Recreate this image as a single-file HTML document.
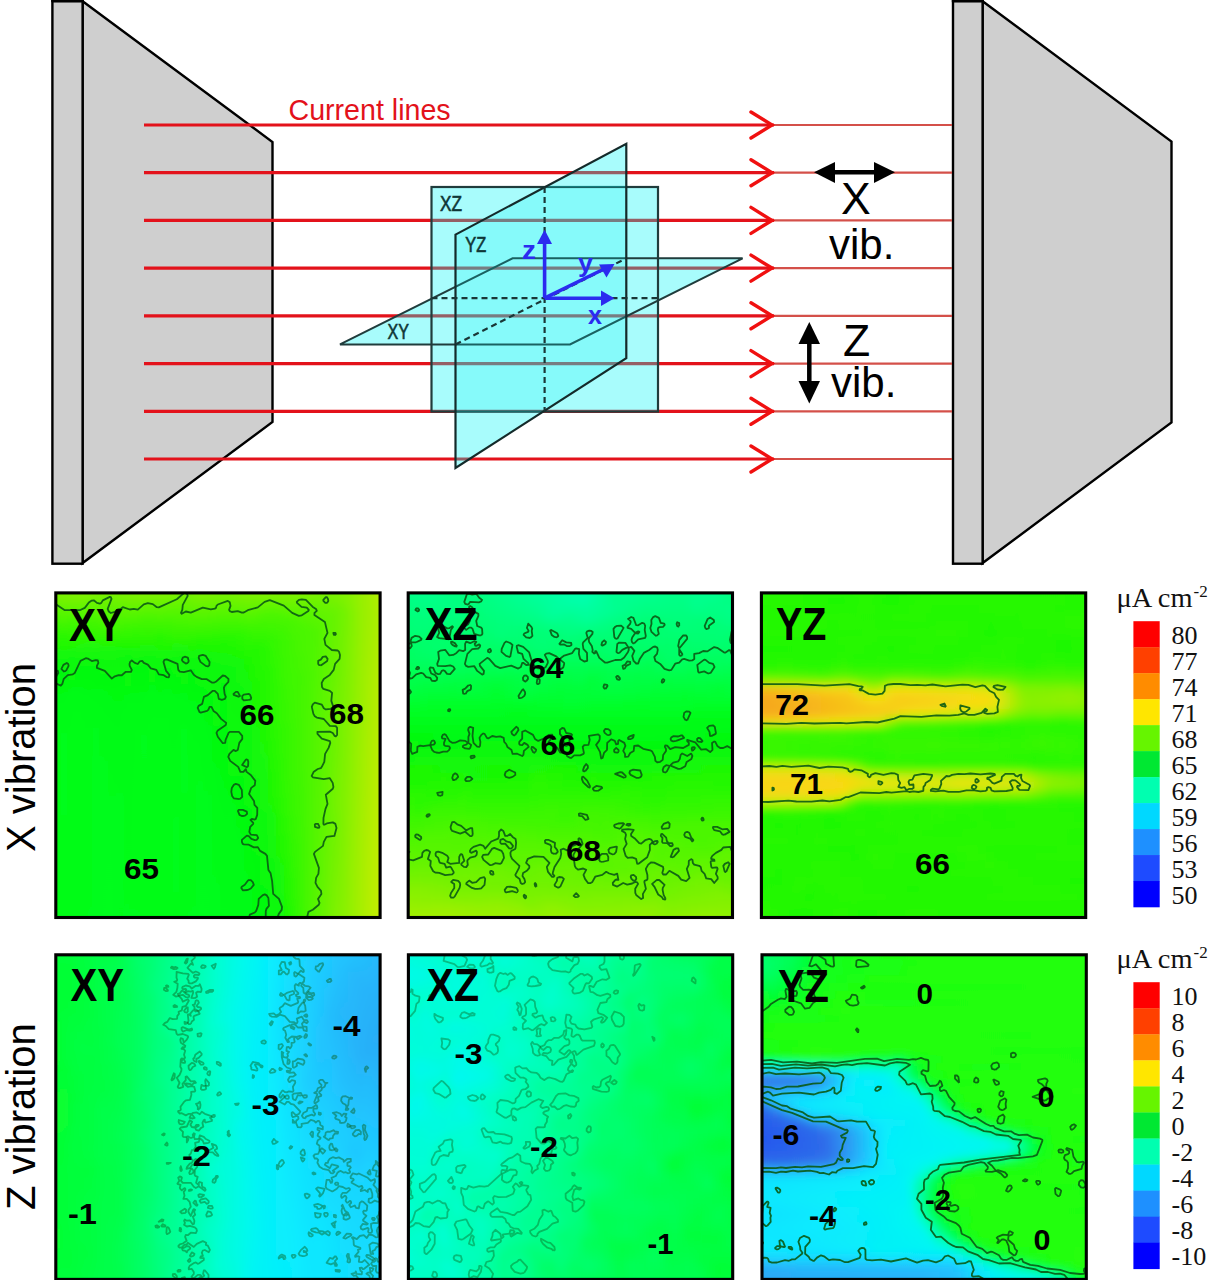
<!DOCTYPE html>
<html><head><meta charset="utf-8">
<style>
html,body{margin:0;padding:0;background:#fff;width:1211px;height:1280px;overflow:hidden;}
svg{display:block;position:absolute;left:0;top:0;}
.s{font-family:"Liberation Sans",sans-serif;}
.r{font-family:"Liberation Serif",serif;}
</style></head>
<body>
<svg width="1211" height="1280" viewBox="0 0 1211 1280">
<defs>
  <filter id="b6" x="-10%" y="-10%" width="120%" height="120%"><feGaussianBlur stdDeviation="6"/></filter>
  <filter id="b10" x="-10%" y="-10%" width="120%" height="120%"><feGaussianBlur stdDeviation="10"/></filter>
  <filter id="b16" x="-20%" y="-20%" width="140%" height="140%"><feGaussianBlur stdDeviation="16"/></filter>
  <filter id="b3" x="-10%" y="-10%" width="120%" height="120%"><feGaussianBlur stdDeviation="3"/></filter>
  <filter id="bl4" x="0" y="0" width="100%" height="100%"><feGaussianBlur stdDeviation="4"/></filter>
  <filter id="b_g" x="0" y="0" width="100%" height="100%"><feGaussianBlur stdDeviation="3.5"/></filter>
  <filter id="b_col" x="0" y="0" width="100%" height="100%"><feGaussianBlur stdDeviation="5 2.5"/></filter>
  <filter id="b_row" x="0" y="0" width="100%" height="100%"><feGaussianBlur stdDeviation="2.5 5"/></filter>
  <clipPath id="c1"><rect x="55.8" y="592.9" width="324.3" height="324.6"/></clipPath>
  <clipPath id="c2"><rect x="408.2" y="592.9" width="324.3" height="324.6"/></clipPath>
  <clipPath id="c3"><rect x="761.4" y="592.9" width="324.3" height="324.6"/></clipPath>
  <clipPath id="c4"><rect x="55.8" y="954.8" width="324.3" height="324.6"/></clipPath>
  <clipPath id="c5"><rect x="408.4" y="954.8" width="324.3" height="324.6"/></clipPath>
  <clipPath id="c6"><rect x="762" y="954.8" width="324.3" height="324.6"/></clipPath>
</defs>
<rect width="1211" height="1280" fill="#fff"/>

<g stroke="#000" stroke-width="2.4" fill="#cfcfcf" stroke-linejoin="miter">
  <polygon points="82.6,1.2 272.5,142 272.5,422 82.6,563"/>
  <rect x="52.4" y="1.2" width="30.2" height="562.5"/>
  <polygon points="982.6,1.2 1171.5,141.5 1171.5,422.5 982.6,563"/>
  <rect x="953" y="1.2" width="29.6" height="562.5"/>
</g>
<rect x="51.2" y="0" width="32.6" height="2.2" fill="#000"/>
<rect x="951.8" y="0" width="32" height="2.2" fill="#000"/>
<g fill="none" stroke-linecap="butt">
  <g stroke-width="3.2" stroke="#e3121b"><line x1="144" y1="125.0" x2="774" y2="125.0"/><line x1="144" y1="172.7" x2="774" y2="172.7"/><line x1="144" y1="220.4" x2="774" y2="220.4"/><line x1="144" y1="268.1" x2="774" y2="268.1"/><line x1="144" y1="315.8" x2="774" y2="315.8"/><line x1="144" y1="363.6" x2="774" y2="363.6"/><line x1="144" y1="411.3" x2="774" y2="411.3"/><line x1="144" y1="459.0" x2="774" y2="459.0"/></g>
  <g stroke-width="2.2" stroke="#d4504a"><line x1="774" y1="125.0" x2="952" y2="125.0"/><line x1="774" y1="172.7" x2="952" y2="172.7"/><line x1="774" y1="220.4" x2="952" y2="220.4"/><line x1="774" y1="268.1" x2="952" y2="268.1"/><line x1="774" y1="315.8" x2="952" y2="315.8"/><line x1="774" y1="363.6" x2="952" y2="363.6"/><line x1="774" y1="411.3" x2="952" y2="411.3"/><line x1="774" y1="459.0" x2="952" y2="459.0"/></g>
  <g stroke-width="3.4" stroke="#f01010" stroke-linejoin="miter" stroke-linecap="round"><polyline points="751,112.0 772,125.0 751,138.0"/><polyline points="751,159.7 772,172.7 751,185.7"/><polyline points="751,207.4 772,220.4 751,233.4"/><polyline points="751,255.1 772,268.1 751,281.1"/><polyline points="751,302.8 772,315.8 751,328.8"/><polyline points="751,350.6 772,363.6 751,376.6"/><polyline points="751,398.3 772,411.3 751,424.3"/><polyline points="751,446.0 772,459.0 751,472.0"/></g>
</g>
<text class="s" x="288.5" y="119.8" font-size="28.6" fill="#e3121b">Current lines</text>

<defs>
<clipPath id="uni"><path d="M431.5,187 H658 V411.6 H431.5 Z M340,344.4 L512.6,258.3 L742.6,258.3 L570,344.4 Z"/></clipPath>
<mask id="nouni" maskUnits="userSpaceOnUse" x="0" y="0" width="1211" height="600"><rect x="0" y="0" width="1211" height="600" fill="#fff"/><path d="M431.5,187 H658 V411.6 H431.5 Z M340,344.4 L512.6,258.3 L742.6,258.3 L570,344.4 Z" fill="#000"/></mask>
</defs>
<path d="M431.5,187 H658 V411.6 H431.5 Z M340,344.4 L512.6,258.3 L742.6,258.3 L570,344.4 Z" fill="rgb(0,245,245)" fill-opacity="0.34" fill-rule="nonzero"/>
<g fill="none" stroke-width="2.2" stroke="#203c3c">
  <rect x="431.5" y="187" width="226.5" height="224.6"/>
  <polygon points="340,344.4 570,344.4 742.6,258.3 512.6,258.3" stroke-width="2"/>
</g>
<polygon points="455.5,234.6 626.3,143.8 626.3,358.2 455.5,468" fill="rgb(0,245,245)" fill-opacity="0.34" mask="url(#nouni)"/>
<polygon points="455.5,234.6 626.3,143.8 626.3,358.2 455.5,468" fill="rgb(0,245,245)" fill-opacity="0.2" clip-path="url(#uni)"/>
<polygon points="455.5,234.6 626.3,143.8 626.3,358.2 455.5,468" fill="none" stroke="#142a2a" stroke-width="2.2"/>
<g stroke="#1a3636" stroke-dasharray="6,4" stroke-width="2.2" fill="none">
  <line x1="544.6" y1="187" x2="544.6" y2="411.6"/>
  <line x1="431.5" y1="298.2" x2="658" y2="298.2"/>
  <line x1="455.5" y1="344.4" x2="626.3" y2="258.3"/>
</g>
<g class="s" font-size="21.5" fill="#0e3636" stroke="#0e3636" stroke-width="0.6">
  <text x="440" y="210.6" textLength="22" lengthAdjust="spacingAndGlyphs">XZ</text>
  <text x="465.3" y="252.4" textLength="21" lengthAdjust="spacingAndGlyphs">YZ</text>
  <text x="387.4" y="338.8" textLength="21.5" lengthAdjust="spacingAndGlyphs">XY</text>
</g>
<g stroke="#2b2bef" stroke-width="3.6" fill="#2b2bef">
  <line x1="544.6" y1="298.2" x2="544.6" y2="240"/>
  <line x1="544.6" y1="298.2" x2="604" y2="298.2"/>
  <line x1="544.6" y1="298.2" x2="604" y2="269"/>
  <polygon stroke="none" points="544.6,229.7 537,244 552,244"/>
  <polygon stroke="none" points="614.5,298.2 601,290.5 601,306"/>
  <polygon stroke="none" points="614.5,264 599,264.5 606.5,277.5"/>
</g>
<g class="s" font-size="26" font-weight="bold" fill="#2b2bef">
  <text x="522" y="258.5" textLength="14" lengthAdjust="spacingAndGlyphs">z</text>
  <text x="578" y="271.5" textLength="15" lengthAdjust="spacingAndGlyphs">y</text>
  <text x="588" y="323.5" textLength="14" lengthAdjust="spacingAndGlyphs">x</text>
</g>
<g fill="#000" stroke="#000">
  <line x1="830" y1="172.3" x2="880" y2="172.3" stroke-width="4.5"/>
  <polygon stroke="none" points="814,172.3 835,162 835,183"/>
  <polygon stroke="none" points="895,172.3 874,162 874,183"/>
  <line x1="809.3" y1="338" x2="809.3" y2="388" stroke-width="4.5"/>
  <polygon stroke="none" points="809.3,321.9 798.5,344 820,344"/>
  <polygon stroke="none" points="809.3,403.4 798.5,381 820,381"/>
</g>
<g class="s" font-size="42" fill="#000">
  <text x="841" y="214" font-size="44.5">X</text>
  <text x="829" y="259">vib.</text>
  <text x="843" y="355.6" font-size="44.5">Z</text>
  <text x="831" y="397">vib.</text>
</g>
<g clip-path="url(#c1)"><g filter="url(#b_col)"><defs><linearGradient id="g44" x2="0" y2="1"><stop offset="0" stop-color="#87f100"/><stop offset=".052" stop-color="#70f300"/><stop offset=".126" stop-color="#39f700"/><stop offset=".247" stop-color="#06f80c"/><stop offset=".391" stop-color="#00fc17"/><stop offset=".701" stop-color="#00fc18"/><stop offset="1" stop-color="#00fc19"/></linearGradient><linearGradient id="g45" x2="0" y2="1"><stop offset="0" stop-color="#88f100"/><stop offset=".046" stop-color="#76f200"/><stop offset=".132" stop-color="#39f700"/><stop offset=".253" stop-color="#06f80d"/><stop offset=".42" stop-color="#00fc17"/><stop offset=".845" stop-color="#00fc19"/><stop offset="1" stop-color="#00fc1a"/></linearGradient><linearGradient id="g46" x2="0" y2="1"><stop offset="0" stop-color="#88f100"/><stop offset=".046" stop-color="#79f200"/><stop offset=".161" stop-color="#28f802"/><stop offset=".259" stop-color="#05f80d"/><stop offset=".454" stop-color="#00fc1b"/><stop offset="1" stop-color="#00fc18"/></linearGradient><linearGradient id="g47" x2="0" y2="1"><stop offset="0" stop-color="#87f100"/><stop offset=".046" stop-color="#7af200"/><stop offset=".126" stop-color="#3cf700"/><stop offset=".23" stop-color="#0cf80a"/><stop offset=".362" stop-color="#00fc17"/><stop offset=".603" stop-color="#00fc17"/><stop offset=".977" stop-color="#01fc17"/><stop offset="1" stop-color="#01fb15"/></linearGradient><linearGradient id="g48" x2="0" y2="1"><stop offset="0" stop-color="#8bf100"/><stop offset=".046" stop-color="#7cf200"/><stop offset=".121" stop-color="#40f700"/><stop offset=".247" stop-color="#06f80d"/><stop offset=".385" stop-color="#00fc18"/><stop offset=".971" stop-color="#01fc17"/><stop offset="1" stop-color="#00fc17"/></linearGradient><linearGradient id="g49" x2="0" y2="1"><stop offset="0" stop-color="#8cf100"/><stop offset=".04" stop-color="#7ef200"/><stop offset=".109" stop-color="#46f600"/><stop offset=".247" stop-color="#05f90e"/><stop offset=".443" stop-color="#00fc18"/><stop offset=".92" stop-color="#00fc19"/><stop offset="1" stop-color="#00fc1a"/></linearGradient><linearGradient id="g50" x2="0" y2="1"><stop offset="0" stop-color="#8ef100"/><stop offset=".046" stop-color="#75f200"/><stop offset=".109" stop-color="#48f600"/><stop offset=".247" stop-color="#05f80d"/><stop offset=".425" stop-color="#00fc1a"/><stop offset="1" stop-color="#00fc1b"/></linearGradient><linearGradient id="g51" x2="0" y2="1"><stop offset="0" stop-color="#8bf100"/><stop offset=".046" stop-color="#73f300"/><stop offset=".201" stop-color="#18f807"/><stop offset=".276" stop-color="#04f910"/><stop offset=".523" stop-color="#00fc1a"/><stop offset="1" stop-color="#00fd1c"/></linearGradient><linearGradient id="g52" x2="0" y2="1"><stop offset="0" stop-color="#84f100"/><stop offset=".04" stop-color="#76f200"/><stop offset=".201" stop-color="#19f807"/><stop offset=".282" stop-color="#04f910"/><stop offset=".684" stop-color="#00fd1b"/><stop offset="1" stop-color="#00fd1c"/></linearGradient><linearGradient id="g53" x2="0" y2="1"><stop offset="0" stop-color="#80f200"/><stop offset=".046" stop-color="#75f300"/><stop offset=".201" stop-color="#16f807"/><stop offset=".276" stop-color="#04f90f"/><stop offset=".644" stop-color="#00fc1b"/><stop offset="1" stop-color="#00fc19"/></linearGradient><linearGradient id="g54" x2="0" y2="1"><stop offset="0" stop-color="#7df200"/><stop offset=".046" stop-color="#78f200"/><stop offset=".132" stop-color="#3df700"/><stop offset=".224" stop-color="#0cf80a"/><stop offset=".385" stop-color="#01fb16"/><stop offset="1" stop-color="#00fc1a"/></linearGradient><linearGradient id="g55" x2="0" y2="1"><stop offset="0" stop-color="#83f100"/><stop offset=".046" stop-color="#7af200"/><stop offset=".144" stop-color="#33f800"/><stop offset=".247" stop-color="#06f80d"/><stop offset=".437" stop-color="#00fc19"/><stop offset=".914" stop-color="#00fc19"/><stop offset="1" stop-color="#00fd1b"/></linearGradient><linearGradient id="g56" x2="0" y2="1"><stop offset="0" stop-color="#8af100"/><stop offset=".04" stop-color="#7ff200"/><stop offset=".109" stop-color="#46f600"/><stop offset=".241" stop-color="#06f80c"/><stop offset=".443" stop-color="#00fc1a"/><stop offset="1" stop-color="#00fc18"/></linearGradient><linearGradient id="g57" x2="0" y2="1"><stop offset="0" stop-color="#88f100"/><stop offset=".04" stop-color="#7cf200"/><stop offset=".109" stop-color="#47f600"/><stop offset=".224" stop-color="#0df80a"/><stop offset=".362" stop-color="#00fc18"/><stop offset=".96" stop-color="#00fc19"/><stop offset="1" stop-color="#01fb16"/></linearGradient><linearGradient id="g58" x2="0" y2="1"><stop offset="0" stop-color="#8df100"/><stop offset=".046" stop-color="#78f200"/><stop offset=".155" stop-color="#29f802"/><stop offset=".259" stop-color="#05f80d"/><stop offset=".408" stop-color="#00fc18"/><stop offset=".724" stop-color="#00fc19"/><stop offset=".948" stop-color="#00fc19"/><stop offset="1" stop-color="#00fc18"/></linearGradient><linearGradient id="g59" x2="0" y2="1"><stop offset="0" stop-color="#91f000"/><stop offset=".04" stop-color="#7df200"/><stop offset=".098" stop-color="#4df600"/><stop offset=".19" stop-color="#1ef805"/><stop offset=".253" stop-color="#05f90e"/><stop offset=".385" stop-color="#01fc17"/><stop offset=".736" stop-color="#00fc19"/><stop offset="1" stop-color="#00fc19"/></linearGradient><linearGradient id="g60" x2="0" y2="1"><stop offset="0" stop-color="#8cf100"/><stop offset=".046" stop-color="#73f300"/><stop offset=".092" stop-color="#53f500"/><stop offset=".236" stop-color="#08f80b"/><stop offset=".397" stop-color="#01fb16"/><stop offset=".632" stop-color="#00fc19"/><stop offset=".833" stop-color="#00fd1c"/><stop offset="1" stop-color="#01fb16"/></linearGradient><linearGradient id="g61" x2="0" y2="1"><stop offset="0" stop-color="#85f100"/><stop offset=".115" stop-color="#48f600"/><stop offset=".23" stop-color="#0af80b"/><stop offset=".443" stop-color="#00fd1b"/><stop offset="1" stop-color="#01fc17"/></linearGradient><linearGradient id="g62" x2="0" y2="1"><stop offset="0" stop-color="#85f100"/><stop offset=".057" stop-color="#6df300"/><stop offset=".19" stop-color="#1df805"/><stop offset=".253" stop-color="#06f80c"/><stop offset=".477" stop-color="#00fc19"/><stop offset=".931" stop-color="#00fc19"/><stop offset="1" stop-color="#00fd1c"/></linearGradient><linearGradient id="g63" x2="0" y2="1"><stop offset="0" stop-color="#88f100"/><stop offset=".046" stop-color="#78f200"/><stop offset=".178" stop-color="#20f805"/><stop offset=".241" stop-color="#09f80b"/><stop offset=".471" stop-color="#00fc19"/><stop offset="1" stop-color="#00fd1d"/></linearGradient><linearGradient id="g64" x2="0" y2="1"><stop offset="0" stop-color="#89f100"/><stop offset=".046" stop-color="#76f200"/><stop offset=".178" stop-color="#21f804"/><stop offset=".247" stop-color="#08f80b"/><stop offset=".621" stop-color="#00fc1a"/><stop offset="1" stop-color="#00fd1d"/></linearGradient><linearGradient id="g65" x2="0" y2="1"><stop offset="0" stop-color="#86f100"/><stop offset=".052" stop-color="#70f300"/><stop offset=".172" stop-color="#23f804"/><stop offset=".264" stop-color="#09f80b"/><stop offset=".879" stop-color="#00fc1a"/><stop offset="1" stop-color="#00fc1a"/></linearGradient><linearGradient id="g66" x2="0" y2="1"><stop offset="0" stop-color="#80f200"/><stop offset=".046" stop-color="#72f300"/><stop offset=".172" stop-color="#21f804"/><stop offset=".293" stop-color="#06f80d"/><stop offset="1" stop-color="#00fc18"/></linearGradient><linearGradient id="g67" x2="0" y2="1"><stop offset="0" stop-color="#80f200"/><stop offset=".046" stop-color="#72f300"/><stop offset=".167" stop-color="#25f803"/><stop offset=".259" stop-color="#0ef80a"/><stop offset=".799" stop-color="#01fb15"/><stop offset="1" stop-color="#00fc18"/></linearGradient><linearGradient id="g68" x2="0" y2="1"><stop offset="0" stop-color="#86f100"/><stop offset=".046" stop-color="#77f200"/><stop offset=".149" stop-color="#2ef801"/><stop offset=".241" stop-color="#14f808"/><stop offset=".586" stop-color="#05f90e"/><stop offset="1" stop-color="#00fc19"/></linearGradient><linearGradient id="g69" x2="0" y2="1"><stop offset="0" stop-color="#85f100"/><stop offset=".046" stop-color="#78f200"/><stop offset=".155" stop-color="#31f800"/><stop offset=".241" stop-color="#19f806"/><stop offset=".362" stop-color="#13f808"/><stop offset=".707" stop-color="#04f90f"/><stop offset="1" stop-color="#02fb14"/></linearGradient><linearGradient id="g70" x2="0" y2="1"><stop offset="0" stop-color="#87f100"/><stop offset=".04" stop-color="#7bf200"/><stop offset=".121" stop-color="#43f600"/><stop offset=".195" stop-color="#24f803"/><stop offset=".391" stop-color="#1af806"/><stop offset=".833" stop-color="#04f910"/><stop offset="1" stop-color="#03fa11"/></linearGradient><linearGradient id="g71" x2="0" y2="1"><stop offset="0" stop-color="#8cf100"/><stop offset=".04" stop-color="#7ef200"/><stop offset=".098" stop-color="#4bf600"/><stop offset=".19" stop-color="#27f802"/><stop offset=".454" stop-color="#1cf806"/><stop offset=".908" stop-color="#05f90e"/><stop offset="1" stop-color="#04f90f"/></linearGradient><linearGradient id="g72" x2="0" y2="1"><stop offset="0" stop-color="#8bf100"/><stop offset=".04" stop-color="#7df200"/><stop offset=".092" stop-color="#4ef600"/><stop offset=".172" stop-color="#31f800"/><stop offset=".253" stop-color="#2cf801"/><stop offset=".448" stop-color="#25f803"/><stop offset=".799" stop-color="#11f809"/><stop offset="1" stop-color="#05f90e"/></linearGradient><linearGradient id="g73" x2="0" y2="1"><stop offset="0" stop-color="#89f100"/><stop offset=".046" stop-color="#78f200"/><stop offset=".098" stop-color="#4bf600"/><stop offset=".161" stop-color="#3af700"/><stop offset=".241" stop-color="#35f800"/><stop offset=".615" stop-color="#29f802"/><stop offset=".908" stop-color="#11f809"/><stop offset="1" stop-color="#0bf80b"/></linearGradient><linearGradient id="g74" x2="0" y2="1"><stop offset="0" stop-color="#8af100"/><stop offset=".046" stop-color="#79f200"/><stop offset=".115" stop-color="#46f600"/><stop offset=".172" stop-color="#3ef700"/><stop offset=".276" stop-color="#3df700"/><stop offset=".414" stop-color="#36f700"/><stop offset=".621" stop-color="#33f800"/><stop offset="1" stop-color="#1bf806"/></linearGradient><linearGradient id="g75" x2="0" y2="1"><stop offset="0" stop-color="#8df100"/><stop offset=".04" stop-color="#7cf200"/><stop offset=".115" stop-color="#4bf600"/><stop offset=".178" stop-color="#45f600"/><stop offset=".27" stop-color="#41f700"/><stop offset=".5" stop-color="#3df700"/><stop offset=".626" stop-color="#3bf700"/><stop offset=".868" stop-color="#32f800"/><stop offset="1" stop-color="#2af802"/></linearGradient><linearGradient id="g76" x2="0" y2="1"><stop offset="0" stop-color="#8ff100"/><stop offset=".04" stop-color="#7bf200"/><stop offset=".08" stop-color="#5ef400"/><stop offset=".138" stop-color="#4af600"/><stop offset=".276" stop-color="#45f600"/><stop offset=".523" stop-color="#44f600"/><stop offset="1" stop-color="#3ef700"/></linearGradient><linearGradient id="g77" x2="0" y2="1"><stop offset="0" stop-color="#8df100"/><stop offset=".04" stop-color="#7cf200"/><stop offset=".086" stop-color="#5cf400"/><stop offset=".144" stop-color="#4ef500"/><stop offset=".276" stop-color="#4cf600"/><stop offset=".397" stop-color="#4ff500"/><stop offset=".54" stop-color="#50f500"/><stop offset=".776" stop-color="#50f500"/><stop offset="1" stop-color="#51f500"/></linearGradient><linearGradient id="g78" x2="0" y2="1"><stop offset="0" stop-color="#87f100"/><stop offset=".052" stop-color="#70f300"/><stop offset=".138" stop-color="#52f500"/><stop offset=".402" stop-color="#58f500"/><stop offset=".523" stop-color="#58f500"/><stop offset=".58" stop-color="#57f500"/><stop offset="1" stop-color="#5ff400"/></linearGradient><linearGradient id="g79" x2="0" y2="1"><stop offset="0" stop-color="#86f100"/><stop offset=".098" stop-color="#61f400"/><stop offset=".276" stop-color="#5ff400"/><stop offset=".632" stop-color="#64f400"/><stop offset=".77" stop-color="#69f300"/><stop offset="1" stop-color="#70f300"/></linearGradient><linearGradient id="g80" x2="0" y2="1"><stop offset="0" stop-color="#8af100"/><stop offset=".092" stop-color="#67f300"/><stop offset=".253" stop-color="#69f300"/><stop offset=".31" stop-color="#6ef300"/><stop offset=".471" stop-color="#6ff300"/><stop offset=".632" stop-color="#76f200"/><stop offset=".695" stop-color="#70f300"/><stop offset=".902" stop-color="#7cf200"/><stop offset="1" stop-color="#82f200"/></linearGradient><linearGradient id="g81" x2="0" y2="1"><stop offset="0" stop-color="#8bf100"/><stop offset=".092" stop-color="#71f300"/><stop offset=".31" stop-color="#79f200"/><stop offset=".879" stop-color="#84f100"/><stop offset="1" stop-color="#8bf100"/></linearGradient><linearGradient id="g82" x2="0" y2="1"><stop offset="0" stop-color="#8ff100"/><stop offset=".098" stop-color="#81f200"/><stop offset=".305" stop-color="#87f100"/><stop offset=".609" stop-color="#8ff100"/><stop offset=".856" stop-color="#95f000"/><stop offset=".994" stop-color="#96f000"/><stop offset="1" stop-color="#95f000"/></linearGradient><linearGradient id="g83" x2="0" y2="1"><stop offset="0" stop-color="#96f000"/><stop offset=".132" stop-color="#93f000"/><stop offset=".747" stop-color="#a1ef01"/><stop offset="1" stop-color="#a6ef02"/></linearGradient><linearGradient id="g84" x2="0" y2="1"><stop offset="0" stop-color="#9fef01"/><stop offset=".08" stop-color="#9eef01"/><stop offset=".264" stop-color="#a4ef02"/><stop offset=".822" stop-color="#b1ee04"/><stop offset="1" stop-color="#b2ee04"/></linearGradient><linearGradient id="g85" x2="0" y2="1"><stop offset="0" stop-color="#aeee04"/><stop offset=".126" stop-color="#a7ef03"/><stop offset=".207" stop-color="#acee03"/><stop offset=".322" stop-color="#b2ee04"/><stop offset=".661" stop-color="#b9ed05"/><stop offset=".971" stop-color="#beed06"/><stop offset="1" stop-color="#bbed06"/></linearGradient><linearGradient id="g86" x2="0" y2="1"><stop offset="0" stop-color="#baed06"/><stop offset=".126" stop-color="#b5ee05"/><stop offset=".184" stop-color="#bbed06"/><stop offset=".431" stop-color="#bfed06"/><stop offset=".851" stop-color="#c8ec08"/><stop offset=".931" stop-color="#caeb08"/><stop offset="1" stop-color="#cbeb08"/></linearGradient></defs><rect x="44" y="581" width="9" height="348" fill="url(#g44)"/><rect x="52" y="581" width="9" height="348" fill="url(#g45)"/><rect x="60" y="581" width="9" height="348" fill="url(#g46)"/><rect x="68" y="581" width="9" height="348" fill="url(#g47)"/><rect x="76" y="581" width="9" height="348" fill="url(#g48)"/><rect x="84" y="581" width="9" height="348" fill="url(#g49)"/><rect x="92" y="581" width="9" height="348" fill="url(#g50)"/><rect x="100" y="581" width="9" height="348" fill="url(#g51)"/><rect x="108" y="581" width="9" height="348" fill="url(#g52)"/><rect x="116" y="581" width="9" height="348" fill="url(#g53)"/><rect x="124" y="581" width="9" height="348" fill="url(#g54)"/><rect x="132" y="581" width="9" height="348" fill="url(#g55)"/><rect x="140" y="581" width="9" height="348" fill="url(#g56)"/><rect x="148" y="581" width="9" height="348" fill="url(#g57)"/><rect x="156" y="581" width="9" height="348" fill="url(#g58)"/><rect x="164" y="581" width="9" height="348" fill="url(#g59)"/><rect x="172" y="581" width="9" height="348" fill="url(#g60)"/><rect x="180" y="581" width="9" height="348" fill="url(#g61)"/><rect x="188" y="581" width="9" height="348" fill="url(#g62)"/><rect x="196" y="581" width="9" height="348" fill="url(#g63)"/><rect x="204" y="581" width="9" height="348" fill="url(#g64)"/><rect x="212" y="581" width="9" height="348" fill="url(#g65)"/><rect x="220" y="581" width="9" height="348" fill="url(#g66)"/><rect x="228" y="581" width="9" height="348" fill="url(#g67)"/><rect x="236" y="581" width="9" height="348" fill="url(#g68)"/><rect x="244" y="581" width="9" height="348" fill="url(#g69)"/><rect x="252" y="581" width="9" height="348" fill="url(#g70)"/><rect x="260" y="581" width="9" height="348" fill="url(#g71)"/><rect x="268" y="581" width="9" height="348" fill="url(#g72)"/><rect x="276" y="581" width="9" height="348" fill="url(#g73)"/><rect x="284" y="581" width="9" height="348" fill="url(#g74)"/><rect x="292" y="581" width="9" height="348" fill="url(#g75)"/><rect x="300" y="581" width="9" height="348" fill="url(#g76)"/><rect x="308" y="581" width="9" height="348" fill="url(#g77)"/><rect x="316" y="581" width="9" height="348" fill="url(#g78)"/><rect x="324" y="581" width="9" height="348" fill="url(#g79)"/><rect x="332" y="581" width="9" height="348" fill="url(#g80)"/><rect x="340" y="581" width="9" height="348" fill="url(#g81)"/><rect x="348" y="581" width="9" height="348" fill="url(#g82)"/><rect x="356" y="581" width="9" height="348" fill="url(#g83)"/><rect x="364" y="581" width="9" height="348" fill="url(#g84)"/><rect x="372" y="581" width="9" height="348" fill="url(#g85)"/><rect x="380" y="581" width="9" height="348" fill="url(#g86)"/></g><g fill="none" stroke="#0a5a14" stroke-width="1.8" stroke-opacity="0.9" stroke-linejoin="round"><path d="M209.2,665.9 209.6,661.9 205.8,655.9 202.8,654.8 199.1,655.9 198.7,657.9 200.4,661.9 205.7,665.9 207.8,666.4 209.2,665.9"/><path d="M188.0,662.9 188.7,660.9 187.8,657.6 184.8,656.7 182.8,657.6 181.9,659.9 182.8,661.6 185.8,663.6 188.0,662.9"/><path d="M280.0,928.9 277.7,921.9 277.4,917.9 278.8,913.9 281.7,909.9 282.0,906.9 279.0,898.9 273.2,893.9 272.1,880.9 270.5,872.9 268.4,869.9 267.0,855.9 265.4,853.9 260.1,850.9 257.8,847.1 253.8,847.4 248.8,844.7 243.8,844.4 242.7,843.9 241.9,841.9 241.9,839.9 246.8,835.6 248.8,836.2 251.4,838.9 254.8,840.1 256.8,839.8 258.2,837.9 256.8,835.1 250.8,834.6 249.3,831.9 250.2,826.9 253.2,823.9 253.2,822.9 250.5,819.9 251.8,818.9 254.8,819.6 255.8,818.9 257.2,814.9 257.3,807.9 254.5,804.9 254.0,800.9 249.1,793.9 251.2,787.9 254.8,785.2 255.3,780.9 250.8,775.0 246.6,771.9 245.8,769.1 243.4,771.9 240.4,771.9 238.2,766.9 230.2,760.9 228.3,756.9 229.4,753.9 233.5,749.9 235.8,751.1 237.8,749.9 239.3,742.9 242.3,738.9 242.2,735.9 238.8,731.8 229.8,731.8 228.6,732.9 225.6,739.9 225.2,742.9 222.8,743.2 217.8,736.7 216.5,732.9 217.8,730.4 225.8,724.9 226.2,722.9 221.1,718.9 216.8,713.3 213.5,710.9 211.5,706.9 209.6,706.9 208.3,709.9 207.1,710.9 200.8,712.7 199.4,711.9 197.7,707.9 198.6,705.9 202.2,703.9 203.9,696.9 207.8,695.1 212.8,690.8 214.8,690.8 217.8,693.9 218.8,698.9 221.8,699.9 224.9,698.9 225.8,696.9 224.6,693.9 223.9,687.9 224.7,685.9 228.4,681.9 228.5,678.9 224.8,675.8 222.8,675.5 215.8,681.8 213.8,682.7 211.8,682.5 206.8,679.2 201.8,679.1 196.6,676.9 193.8,674.7 190.8,670.3 183.8,672.1 179.8,671.7 178.3,669.9 177.5,663.9 166.8,659.3 164.4,659.9 163.5,661.9 166.1,670.9 169.4,674.9 168.8,677.3 166.8,677.2 163.8,675.2 158.8,674.4 156.3,669.9 150.8,668.4 147.8,664.6 143.8,662.9 142.2,660.9 139.8,661.3 137.8,664.0 134.8,662.9 131.8,660.5 130.1,661.9 129.5,663.9 129.7,665.9 131.8,669.9 131.0,671.9 125.8,671.8 121.8,675.3 118.8,675.2 114.8,676.3 111.8,678.6 104.8,670.9 96.9,667.9 96.9,665.9 98.4,662.9 97.8,660.5 95.8,660.1 91.8,661.1 87.8,658.6 85.8,658.2 80.5,660.9 74.8,672.9 72.8,674.3 67.8,675.2 63.8,678.8 62.3,683.9 60.8,685.7 55.0,682.9 54.7,681.9 56.4,675.9 58.3,672.9 57.9,670.9 52.8,670.3 47.8,667.4 45.8,664.1 43.8,663.8"/><path d="M66.0,670.9 68.6,665.9 68.2,663.9 66.8,663.0 63.4,664.9 61.4,668.9 63.8,671.5 66.0,670.9"/><path d="M239.1,696.9 240.0,695.9 237.7,691.9 235.9,691.9 233.5,693.9 233.7,694.9 239.1,696.9"/><path d="M248.8,699.9 250.8,699.3 251.2,697.9 250.1,694.9 248.9,693.9 243.8,694.6 242.3,695.9 242.3,698.9 243.8,700.4 248.8,699.9"/><path d="M247.3,766.9 248.1,765.9 248.3,761.9 247.8,760.0 246.8,759.4 245.6,759.9 242.1,764.9 246.8,767.3 247.3,766.9"/><path d="M239.8,799.1 233.8,798.3 232.1,795.9 231.3,791.9 231.8,787.9 233.7,784.9 235.8,783.9 238.8,784.8 241.8,789.9 242.2,796.9 239.8,799.1"/><path d="M244.8,815.9 241.8,816.0 239.5,814.9 237.9,810.9 238.6,809.9 242.8,809.9 246.8,811.6 247.1,813.9 244.8,815.9"/><path d="M247.8,890.0 242.8,890.3 241.3,887.9 241.8,886.7 244.8,884.8 247.8,880.8 248.8,880.1 250.8,880.2 252.8,882.1 253.8,884.9 250.8,888.5 247.8,890.0"/><path d="M262.8,925.1 260.8,925.6 258.8,924.7 255.1,924.9 253.1,921.9 248.8,920.7 248.5,919.9 249.8,914.6 254.8,912.5 256.2,910.9 258.3,904.9 258.7,898.9 262.8,895.2 264.8,894.4 266.8,895.4 268.4,897.9 268.9,905.9 266.4,908.9 265.8,910.9 265.7,915.9 267.1,922.9 265.8,924.6 262.8,925.1"/><path d="M320.0,928.9 324.6,921.9 324.4,919.9 321.8,918.5 318.8,918.4 315.8,921.3 312.8,917.9 308.8,917.5 307.4,915.9 308.4,911.9 312.8,909.8 318.8,904.8 319.5,902.9 318.0,898.9 321.4,893.9 321.0,890.9 317.5,886.9 315.5,882.9 316.1,877.9 318.4,873.9 318.9,867.9 313.9,853.9 315.0,851.9 323.0,845.9 323.8,841.9 326.5,836.9 334.4,835.9 336.5,827.9 335.4,823.9 332.8,822.4 326.8,823.4 324.8,824.6 323.8,824.7 323.4,823.9 323.5,817.9 325.5,808.9 327.5,803.9 325.8,794.7 332.8,788.8 333.4,786.9 332.7,782.9 329.8,778.2 323.8,779.2 312.8,777.3 311.7,775.9 313.8,771.7 317.8,769.0 320.8,768.2 321.8,766.8 324.3,761.9 325.1,753.9 328.6,747.9 330.3,742.9 329.8,741.1 321.8,738.6 317.5,733.9 317.4,731.9 329.8,731.6 332.8,733.0 334.7,735.9 335.8,736.4 337.1,734.9 337.1,727.9 335.8,726.1 329.8,725.8 323.8,719.0 316.8,717.6 314.8,716.3 313.4,713.9 311.8,706.9 312.8,704.4 314.8,702.6 321.8,704.6 323.8,708.2 325.8,709.4 330.8,708.8 333.3,706.9 331.3,700.9 332.1,692.9 329.8,690.8 323.4,688.9 322.0,686.9 321.7,682.9 323.8,679.0 329.8,674.9 333.7,669.9 335.1,663.9 339.6,658.9 340.0,654.9 339.1,651.9 337.8,650.5 331.8,650.0 325.5,644.9 324.3,638.9 327.5,632.9 324.9,621.9 314.4,614.9 314.5,612.9 316.8,610.9 316.0,608.9 312.8,606.9 305.9,599.9 301.8,599.3 298.9,599.9 296.8,601.9 297.0,602.9 301.5,606.9 306.8,607.6 308.8,609.9 308.4,610.9 301.8,615.3 298.8,615.9 292.2,612.9 283.8,605.6 269.8,600.2 264.6,601.9 257.8,607.4 247.8,610.2 243.8,612.5 241.8,612.6 237.8,611.1 231.8,612.0 229.8,611.1 229.1,609.9 230.5,605.9 229.8,602.3 227.8,600.9 217.8,604.5 216.5,605.9 216.0,607.9 214.8,608.6 210.8,609.4 202.8,607.7 190.8,612.7 185.8,611.5 181.8,613.8 181.0,612.9 182.3,609.9 182.8,604.9 187.7,595.9 187.2,593.9 184.8,592.4 176.8,599.3 158.8,607.4 156.8,607.2 152.8,604.1 147.8,603.1 143.8,604.3 137.8,609.6 133.8,608.8 129.8,609.5 122.8,607.1 120.8,609.0 117.8,609.5 114.8,611.9 110.8,613.0 108.8,611.6 107.7,608.9 111.5,598.9 110.8,597.2 109.8,596.9 102.8,600.4 101.3,602.9 99.8,603.7 96.9,602.9 93.8,600.3 91.8,600.6 88.8,602.6 84.8,607.9 79.8,610.2 64.8,610.2 54.8,603.6 43.8,606.9"/><path d="M327.0,602.9 328.3,600.9 328.0,598.9 326.8,597.1 325.8,597.1 323.3,599.9 323.4,600.9 325.3,602.9 327.0,602.9"/><path d="M336.1,634.9 335.4,632.9 333.3,632.9 333.8,634.9 336.1,634.9"/><path d="M320.8,665.5 318.8,664.9 318.2,663.9 318.2,660.9 320.8,659.6 322.8,656.9 325.8,656.4 327.6,658.9 327.2,660.9 320.8,665.5"/><path d="M318.8,828.2 315.0,826.9 314.8,824.4 315.8,823.8 318.1,823.9 319.5,826.9 318.8,828.2"/></g></g><g clip-path="url(#c2)"><g filter="url(#b_row)"><defs><linearGradient id="g87"><stop offset="0" stop-color="#00ff88"/><stop offset=".069" stop-color="#00ff90"/><stop offset=".138" stop-color="#00ff7b"/><stop offset=".322" stop-color="#00ff95"/><stop offset=".408" stop-color="#00ff96"/><stop offset=".443" stop-color="#00ff9a"/><stop offset=".5" stop-color="#00ffad"/><stop offset=".603" stop-color="#00ff9d"/><stop offset=".638" stop-color="#00ff99"/><stop offset=".724" stop-color="#00ff98"/><stop offset=".759" stop-color="#00ff90"/><stop offset=".874" stop-color="#00ff94"/><stop offset=".931" stop-color="#00ff90"/><stop offset=".96" stop-color="#00ff86"/><stop offset="1" stop-color="#00ff87"/></linearGradient><linearGradient id="g88"><stop offset="0" stop-color="#00ff85"/><stop offset=".098" stop-color="#00ff8d"/><stop offset=".161" stop-color="#00ff81"/><stop offset=".236" stop-color="#00ff83"/><stop offset=".443" stop-color="#00ffa4"/><stop offset=".546" stop-color="#00ffaf"/><stop offset=".626" stop-color="#00ff91"/><stop offset=".667" stop-color="#00ff96"/><stop offset=".799" stop-color="#00ff88"/><stop offset=".92" stop-color="#00ff93"/><stop offset=".966" stop-color="#00ff82"/><stop offset="1" stop-color="#00ff84"/></linearGradient><linearGradient id="g89"><stop offset="0" stop-color="#00ff7b"/><stop offset=".052" stop-color="#00ff85"/><stop offset=".115" stop-color="#00ff87"/><stop offset=".195" stop-color="#00ff7e"/><stop offset=".241" stop-color="#00ff7e"/><stop offset=".42" stop-color="#00ff99"/><stop offset=".483" stop-color="#00ffa5"/><stop offset=".54" stop-color="#00ffac"/><stop offset=".626" stop-color="#00ff8f"/><stop offset=".753" stop-color="#00ff87"/><stop offset=".822" stop-color="#00ff84"/><stop offset=".862" stop-color="#00ff8d"/><stop offset=".943" stop-color="#00ff84"/><stop offset="1" stop-color="#00ff82"/></linearGradient><linearGradient id="g90"><stop offset="0" stop-color="#00ff77"/><stop offset=".046" stop-color="#00ff81"/><stop offset=".19" stop-color="#00ff81"/><stop offset=".23" stop-color="#00ff7b"/><stop offset=".402" stop-color="#00ff90"/><stop offset=".46" stop-color="#00ff9f"/><stop offset=".552" stop-color="#00ff9f"/><stop offset=".718" stop-color="#00ff83"/><stop offset=".828" stop-color="#00ff82"/><stop offset=".862" stop-color="#00ff8a"/><stop offset=".908" stop-color="#00ff84"/><stop offset="1" stop-color="#00ff8a"/></linearGradient><linearGradient id="g91"><stop offset="0" stop-color="#00ff76"/><stop offset=".155" stop-color="#00ff7d"/><stop offset=".236" stop-color="#00ff76"/><stop offset=".282" stop-color="#00ff7d"/><stop offset=".397" stop-color="#00ff88"/><stop offset=".448" stop-color="#00ff97"/><stop offset=".5" stop-color="#00ff8f"/><stop offset=".546" stop-color="#00ff9b"/><stop offset=".684" stop-color="#00ff7d"/><stop offset=".764" stop-color="#00ff7b"/><stop offset=".828" stop-color="#00ff7b"/><stop offset=".885" stop-color="#00ff7c"/><stop offset=".96" stop-color="#00ff85"/><stop offset="1" stop-color="#00ff8b"/></linearGradient><linearGradient id="g92"><stop offset="0" stop-color="#00ff75"/><stop offset=".057" stop-color="#00ff7a"/><stop offset=".103" stop-color="#00ff78"/><stop offset=".207" stop-color="#00ff71"/><stop offset=".253" stop-color="#00ff77"/><stop offset=".397" stop-color="#00ff7d"/><stop offset=".448" stop-color="#00ff83"/><stop offset=".511" stop-color="#00ff88"/><stop offset=".552" stop-color="#00ff8b"/><stop offset=".626" stop-color="#00ff7c"/><stop offset=".753" stop-color="#00ff6e"/><stop offset=".793" stop-color="#00ff79"/><stop offset=".833" stop-color="#00ff79"/><stop offset=".908" stop-color="#00ff73"/><stop offset=".983" stop-color="#00ff82"/><stop offset="1" stop-color="#00ff88"/></linearGradient><linearGradient id="g93"><stop offset="0" stop-color="#00ff72"/><stop offset=".069" stop-color="#00ff74"/><stop offset=".155" stop-color="#00ff6d"/><stop offset=".195" stop-color="#00ff71"/><stop offset=".247" stop-color="#00ff6e"/><stop offset=".299" stop-color="#00ff7b"/><stop offset=".391" stop-color="#00ff71"/><stop offset=".437" stop-color="#00ff77"/><stop offset=".5" stop-color="#00ff7f"/><stop offset=".54" stop-color="#00ff7b"/><stop offset=".575" stop-color="#00ff79"/><stop offset=".609" stop-color="#00ff79"/><stop offset=".644" stop-color="#00ff6f"/><stop offset=".759" stop-color="#00ff70"/><stop offset=".805" stop-color="#00ff73"/><stop offset=".879" stop-color="#00ff74"/><stop offset=".943" stop-color="#00ff76"/><stop offset=".977" stop-color="#00ff6e"/><stop offset="1" stop-color="#00ff76"/></linearGradient><linearGradient id="g94"><stop offset="0" stop-color="#00ff69"/><stop offset=".132" stop-color="#00ff6b"/><stop offset=".264" stop-color="#00ff6e"/><stop offset=".305" stop-color="#00ff6f"/><stop offset=".402" stop-color="#00ff76"/><stop offset=".448" stop-color="#00ff72"/><stop offset=".506" stop-color="#00ff74"/><stop offset=".54" stop-color="#00ff6f"/><stop offset=".626" stop-color="#00ff6f"/><stop offset=".759" stop-color="#00ff6e"/><stop offset=".81" stop-color="#00ff6c"/><stop offset=".925" stop-color="#00ff73"/><stop offset=".983" stop-color="#00ff6a"/><stop offset="1" stop-color="#00ff6c"/></linearGradient><linearGradient id="g95"><stop offset="0" stop-color="#00ff5e"/><stop offset=".115" stop-color="#00ff6e"/><stop offset=".184" stop-color="#00ff66"/><stop offset=".305" stop-color="#00ff65"/><stop offset=".374" stop-color="#00ff69"/><stop offset=".42" stop-color="#00ff74"/><stop offset=".563" stop-color="#00ff66"/><stop offset=".621" stop-color="#00ff6e"/><stop offset=".672" stop-color="#00ff65"/><stop offset=".724" stop-color="#00ff67"/><stop offset=".805" stop-color="#00ff69"/><stop offset=".971" stop-color="#00ff6b"/><stop offset="1" stop-color="#00ff73"/></linearGradient><linearGradient id="g96"><stop offset="0" stop-color="#00ff63"/><stop offset=".115" stop-color="#00ff66"/><stop offset=".149" stop-color="#00ff5d"/><stop offset=".247" stop-color="#00ff66"/><stop offset=".391" stop-color="#00ff64"/><stop offset=".437" stop-color="#00ff62"/><stop offset=".529" stop-color="#00ff61"/><stop offset=".58" stop-color="#00ff60"/><stop offset=".621" stop-color="#00ff67"/><stop offset=".736" stop-color="#00ff5d"/><stop offset=".787" stop-color="#00ff69"/><stop offset=".931" stop-color="#00ff5e"/><stop offset=".977" stop-color="#00ff66"/><stop offset="1" stop-color="#00ff6f"/></linearGradient><linearGradient id="g97"><stop offset="0" stop-color="#00ff5d"/><stop offset=".109" stop-color="#00ff5d"/><stop offset=".201" stop-color="#00ff5a"/><stop offset=".253" stop-color="#00ff59"/><stop offset=".345" stop-color="#00ff5d"/><stop offset=".437" stop-color="#00ff59"/><stop offset=".489" stop-color="#00ff54"/><stop offset=".523" stop-color="#00ff55"/><stop offset=".58" stop-color="#00ff52"/><stop offset=".684" stop-color="#00ff58"/><stop offset=".724" stop-color="#00ff4e"/><stop offset=".787" stop-color="#00ff61"/><stop offset=".851" stop-color="#00ff54"/><stop offset=".902" stop-color="#00ff5c"/><stop offset=".983" stop-color="#00ff58"/><stop offset="1" stop-color="#00ff5a"/></linearGradient><linearGradient id="g98"><stop offset="0" stop-color="#00ff4f"/><stop offset=".126" stop-color="#00ff54"/><stop offset=".241" stop-color="#00ff50"/><stop offset=".339" stop-color="#00ff4b"/><stop offset=".431" stop-color="#00ff4c"/><stop offset=".54" stop-color="#00ff49"/><stop offset=".569" stop-color="#00ff45"/><stop offset=".609" stop-color="#00ff4b"/><stop offset=".695" stop-color="#00ff4a"/><stop offset=".77" stop-color="#00ff4e"/><stop offset=".856" stop-color="#00ff4c"/><stop offset=".914" stop-color="#00ff50"/><stop offset="1" stop-color="#00ff4b"/></linearGradient><linearGradient id="g99"><stop offset="0" stop-color="#00ff49"/><stop offset=".126" stop-color="#00ff46"/><stop offset=".27" stop-color="#00ff3d"/><stop offset=".305" stop-color="#00ff3d"/><stop offset=".397" stop-color="#00ff49"/><stop offset=".471" stop-color="#00ff3e"/><stop offset=".529" stop-color="#00ff47"/><stop offset=".563" stop-color="#00ff38"/><stop offset=".609" stop-color="#00ff48"/><stop offset=".707" stop-color="#00ff42"/><stop offset=".782" stop-color="#00ff41"/><stop offset=".845" stop-color="#00ff43"/><stop offset=".971" stop-color="#00ff42"/><stop offset="1" stop-color="#00ff46"/></linearGradient><linearGradient id="g100"><stop offset="0" stop-color="#00ff4b"/><stop offset=".086" stop-color="#00ff3d"/><stop offset=".172" stop-color="#00ff3b"/><stop offset=".218" stop-color="#00ff41"/><stop offset=".287" stop-color="#00ff31"/><stop offset=".328" stop-color="#00ff3b"/><stop offset=".374" stop-color="#00ff41"/><stop offset=".466" stop-color="#00ff39"/><stop offset=".54" stop-color="#00ff39"/><stop offset=".58" stop-color="#00ff3a"/><stop offset=".615" stop-color="#00ff41"/><stop offset=".741" stop-color="#00ff39"/><stop offset=".776" stop-color="#00ff3a"/><stop offset=".839" stop-color="#00ff37"/><stop offset=".879" stop-color="#00ff3c"/><stop offset=".925" stop-color="#00ff32"/><stop offset=".983" stop-color="#00ff40"/><stop offset="1" stop-color="#00ff3e"/></linearGradient><linearGradient id="g101"><stop offset="0" stop-color="#00ff3f"/><stop offset=".121" stop-color="#00ff30"/><stop offset=".178" stop-color="#00ff32"/><stop offset=".236" stop-color="#00ff33"/><stop offset=".299" stop-color="#00ff2d"/><stop offset=".374" stop-color="#00ff3a"/><stop offset=".42" stop-color="#00ff32"/><stop offset=".506" stop-color="#00ff34"/><stop offset=".672" stop-color="#00ff35"/><stop offset=".736" stop-color="#00ff2f"/><stop offset=".782" stop-color="#00ff2f"/><stop offset=".828" stop-color="#00ff2c"/><stop offset=".902" stop-color="#00ff30"/><stop offset="1" stop-color="#00ff34"/></linearGradient><linearGradient id="g102"><stop offset="0" stop-color="#00ff2e"/><stop offset=".098" stop-color="#00ff28"/><stop offset=".207" stop-color="#00ff28"/><stop offset=".339" stop-color="#00fe25"/><stop offset=".489" stop-color="#00ff2d"/><stop offset=".598" stop-color="#00ff2c"/><stop offset=".69" stop-color="#00ff26"/><stop offset=".753" stop-color="#00ff2a"/><stop offset=".954" stop-color="#00ff27"/><stop offset="1" stop-color="#00ff26"/></linearGradient><linearGradient id="g103"><stop offset="0" stop-color="#00fe23"/><stop offset=".103" stop-color="#00fe22"/><stop offset=".167" stop-color="#00fe21"/><stop offset=".362" stop-color="#00fd1f"/><stop offset=".489" stop-color="#00fe23"/><stop offset=".753" stop-color="#00fe23"/><stop offset=".81" stop-color="#00fe21"/><stop offset=".891" stop-color="#00fd1d"/><stop offset="1" stop-color="#00fd1f"/></linearGradient><linearGradient id="g104"><stop offset="0" stop-color="#00fd1b"/><stop offset=".264" stop-color="#00fc1a"/><stop offset=".661" stop-color="#00fc1a"/><stop offset=".816" stop-color="#00fc1a"/><stop offset="1" stop-color="#01fb16"/></linearGradient><linearGradient id="g105"><stop offset="0" stop-color="#02fb14"/><stop offset=".19" stop-color="#01fb16"/><stop offset=".977" stop-color="#03fa12"/><stop offset="1" stop-color="#03fa11"/></linearGradient><linearGradient id="g106"><stop offset="0" stop-color="#06f80d"/><stop offset=".121" stop-color="#03fa12"/><stop offset=".73" stop-color="#01fb15"/><stop offset="1" stop-color="#05f90f"/></linearGradient><linearGradient id="g107"><stop offset="0" stop-color="#10f809"/><stop offset=".075" stop-color="#05f80d"/><stop offset=".305" stop-color="#08f80c"/><stop offset=".546" stop-color="#05f80d"/><stop offset=".793" stop-color="#05f80d"/><stop offset="1" stop-color="#05f90e"/></linearGradient><linearGradient id="g108"><stop offset="0" stop-color="#14f808"/><stop offset=".075" stop-color="#0ff80a"/><stop offset=".155" stop-color="#0ef80a"/><stop offset=".483" stop-color="#09f80b"/><stop offset=".546" stop-color="#0cf80a"/><stop offset=".736" stop-color="#08f80b"/><stop offset=".971" stop-color="#0ef80a"/><stop offset="1" stop-color="#08f80b"/></linearGradient><linearGradient id="g109"><stop offset="0" stop-color="#10f809"/><stop offset=".144" stop-color="#14f808"/><stop offset=".747" stop-color="#0ff80a"/><stop offset=".851" stop-color="#12f808"/><stop offset=".943" stop-color="#17f807"/><stop offset=".983" stop-color="#16f807"/><stop offset="1" stop-color="#14f808"/></linearGradient><linearGradient id="g110"><stop offset="0" stop-color="#12f809"/><stop offset=".046" stop-color="#1bf806"/><stop offset=".098" stop-color="#1af806"/><stop offset=".155" stop-color="#16f807"/><stop offset=".305" stop-color="#19f806"/><stop offset=".362" stop-color="#19f807"/><stop offset=".494" stop-color="#1cf806"/><stop offset=".552" stop-color="#16f807"/><stop offset=".598" stop-color="#19f807"/><stop offset=".713" stop-color="#18f807"/><stop offset=".759" stop-color="#17f807"/><stop offset=".839" stop-color="#17f807"/><stop offset=".92" stop-color="#1cf806"/><stop offset="1" stop-color="#1cf806"/></linearGradient><linearGradient id="g111"><stop offset="0" stop-color="#18f807"/><stop offset=".138" stop-color="#20f805"/><stop offset=".213" stop-color="#19f807"/><stop offset=".31" stop-color="#19f806"/><stop offset=".368" stop-color="#1cf806"/><stop offset=".408" stop-color="#27f802"/><stop offset=".523" stop-color="#1bf806"/><stop offset=".563" stop-color="#20f805"/><stop offset=".609" stop-color="#1ef805"/><stop offset=".707" stop-color="#19f806"/><stop offset=".747" stop-color="#22f804"/><stop offset=".851" stop-color="#22f804"/><stop offset=".914" stop-color="#23f804"/><stop offset="1" stop-color="#20f805"/></linearGradient><linearGradient id="g112"><stop offset="0" stop-color="#1cf806"/><stop offset=".155" stop-color="#22f804"/><stop offset=".368" stop-color="#21f804"/><stop offset=".402" stop-color="#2cf801"/><stop offset=".534" stop-color="#1ff805"/><stop offset=".672" stop-color="#23f804"/><stop offset=".718" stop-color="#23f804"/><stop offset=".879" stop-color="#26f803"/><stop offset=".943" stop-color="#23f804"/><stop offset="1" stop-color="#24f803"/></linearGradient><linearGradient id="g113"><stop offset="0" stop-color="#2ff800"/><stop offset=".144" stop-color="#24f803"/><stop offset=".195" stop-color="#29f802"/><stop offset=".293" stop-color="#27f803"/><stop offset=".374" stop-color="#28f802"/><stop offset=".414" stop-color="#2bf801"/><stop offset=".529" stop-color="#2cf801"/><stop offset=".603" stop-color="#27f803"/><stop offset=".661" stop-color="#2ef800"/><stop offset=".718" stop-color="#27f803"/><stop offset=".879" stop-color="#2bf802"/><stop offset="1" stop-color="#2af802"/></linearGradient><linearGradient id="g114"><stop offset="0" stop-color="#38f700"/><stop offset=".075" stop-color="#28f802"/><stop offset=".184" stop-color="#30f800"/><stop offset=".299" stop-color="#2df801"/><stop offset=".563" stop-color="#33f800"/><stop offset=".621" stop-color="#31f800"/><stop offset=".678" stop-color="#2ef800"/><stop offset=".724" stop-color="#2bf801"/><stop offset=".96" stop-color="#32f800"/><stop offset="1" stop-color="#34f800"/></linearGradient><linearGradient id="g115"><stop offset="0" stop-color="#35f800"/><stop offset=".069" stop-color="#2ef801"/><stop offset=".121" stop-color="#3af700"/><stop offset=".259" stop-color="#34f800"/><stop offset=".362" stop-color="#35f800"/><stop offset=".448" stop-color="#3bf700"/><stop offset=".5" stop-color="#37f700"/><stop offset=".557" stop-color="#3bf700"/><stop offset=".655" stop-color="#39f700"/><stop offset=".718" stop-color="#2ef801"/><stop offset=".764" stop-color="#34f800"/><stop offset=".943" stop-color="#37f700"/><stop offset="1" stop-color="#3ef700"/></linearGradient><linearGradient id="g116"><stop offset="0" stop-color="#37f700"/><stop offset=".069" stop-color="#3bf700"/><stop offset=".115" stop-color="#40f700"/><stop offset=".374" stop-color="#3df700"/><stop offset=".443" stop-color="#3ef700"/><stop offset=".489" stop-color="#36f800"/><stop offset=".546" stop-color="#46f600"/><stop offset=".649" stop-color="#3ff700"/><stop offset=".77" stop-color="#3af700"/><stop offset=".902" stop-color="#3df700"/><stop offset=".948" stop-color="#3cf700"/><stop offset="1" stop-color="#43f600"/></linearGradient><linearGradient id="g117"><stop offset="0" stop-color="#3cf700"/><stop offset=".132" stop-color="#45f600"/><stop offset=".184" stop-color="#4cf600"/><stop offset=".282" stop-color="#44f600"/><stop offset=".466" stop-color="#41f700"/><stop offset=".569" stop-color="#42f700"/><stop offset=".678" stop-color="#49f600"/><stop offset=".747" stop-color="#44f600"/><stop offset=".799" stop-color="#48f600"/><stop offset=".971" stop-color="#48f600"/><stop offset="1" stop-color="#4af600"/></linearGradient><linearGradient id="g118"><stop offset="0" stop-color="#45f600"/><stop offset=".098" stop-color="#4ef600"/><stop offset=".218" stop-color="#4ff500"/><stop offset=".264" stop-color="#4af600"/><stop offset=".333" stop-color="#4ff500"/><stop offset=".408" stop-color="#47f600"/><stop offset=".477" stop-color="#4af600"/><stop offset=".546" stop-color="#49f600"/><stop offset=".598" stop-color="#45f600"/><stop offset=".678" stop-color="#51f500"/><stop offset=".741" stop-color="#4cf600"/><stop offset=".856" stop-color="#4cf600"/><stop offset=".994" stop-color="#4bf600"/><stop offset="1" stop-color="#4af600"/></linearGradient><linearGradient id="g119"><stop offset="0" stop-color="#56f500"/><stop offset=".04" stop-color="#4df600"/><stop offset=".086" stop-color="#52f500"/><stop offset=".264" stop-color="#52f500"/><stop offset=".345" stop-color="#54f500"/><stop offset=".414" stop-color="#51f500"/><stop offset=".557" stop-color="#4ff500"/><stop offset=".615" stop-color="#4bf600"/><stop offset=".684" stop-color="#57f500"/><stop offset=".874" stop-color="#4cf600"/><stop offset="1" stop-color="#4ff500"/></linearGradient><linearGradient id="g120"><stop offset="0" stop-color="#5ef400"/><stop offset=".063" stop-color="#57f500"/><stop offset=".19" stop-color="#55f500"/><stop offset=".339" stop-color="#5af500"/><stop offset=".431" stop-color="#57f500"/><stop offset=".534" stop-color="#55f500"/><stop offset=".603" stop-color="#55f500"/><stop offset=".718" stop-color="#5ff400"/><stop offset=".759" stop-color="#53f500"/><stop offset=".816" stop-color="#54f500"/><stop offset=".908" stop-color="#4ef500"/><stop offset=".96" stop-color="#5af500"/><stop offset="1" stop-color="#57f500"/></linearGradient><linearGradient id="g121"><stop offset="0" stop-color="#5df400"/><stop offset=".161" stop-color="#5cf400"/><stop offset=".259" stop-color="#5ef400"/><stop offset=".339" stop-color="#5bf400"/><stop offset=".511" stop-color="#5df400"/><stop offset=".557" stop-color="#52f500"/><stop offset=".615" stop-color="#5cf400"/><stop offset=".678" stop-color="#60f400"/><stop offset=".713" stop-color="#62f400"/><stop offset=".753" stop-color="#51f500"/><stop offset=".805" stop-color="#58f500"/><stop offset=".839" stop-color="#58f500"/><stop offset=".902" stop-color="#58f500"/><stop offset=".948" stop-color="#64f400"/><stop offset="1" stop-color="#5af400"/></linearGradient><linearGradient id="g122"><stop offset="0" stop-color="#60f400"/><stop offset=".086" stop-color="#69f300"/><stop offset=".138" stop-color="#64f400"/><stop offset=".218" stop-color="#6cf300"/><stop offset=".293" stop-color="#66f400"/><stop offset=".351" stop-color="#60f400"/><stop offset=".42" stop-color="#67f400"/><stop offset=".46" stop-color="#62f400"/><stop offset=".506" stop-color="#65f400"/><stop offset=".569" stop-color="#58f500"/><stop offset=".764" stop-color="#5df400"/><stop offset=".828" stop-color="#59f500"/><stop offset=".862" stop-color="#60f400"/><stop offset=".92" stop-color="#62f400"/><stop offset=".989" stop-color="#62f400"/><stop offset="1" stop-color="#5ff400"/></linearGradient><linearGradient id="g123"><stop offset="0" stop-color="#6cf300"/><stop offset=".075" stop-color="#71f300"/><stop offset=".167" stop-color="#6cf300"/><stop offset=".253" stop-color="#6ff300"/><stop offset=".299" stop-color="#71f300"/><stop offset=".368" stop-color="#66f400"/><stop offset=".42" stop-color="#6ef300"/><stop offset=".46" stop-color="#68f300"/><stop offset=".517" stop-color="#69f300"/><stop offset=".58" stop-color="#5df400"/><stop offset=".632" stop-color="#60f400"/><stop offset=".718" stop-color="#64f400"/><stop offset=".753" stop-color="#6cf300"/><stop offset=".828" stop-color="#60f400"/><stop offset=".874" stop-color="#69f300"/><stop offset=".914" stop-color="#63f400"/><stop offset=".983" stop-color="#66f400"/><stop offset="1" stop-color="#63f400"/></linearGradient><linearGradient id="g124"><stop offset="0" stop-color="#79f200"/><stop offset=".098" stop-color="#77f200"/><stop offset=".149" stop-color="#75f200"/><stop offset=".264" stop-color="#72f300"/><stop offset=".351" stop-color="#6ef300"/><stop offset=".54" stop-color="#6bf300"/><stop offset=".586" stop-color="#6df300"/><stop offset=".713" stop-color="#67f400"/><stop offset=".816" stop-color="#6af300"/><stop offset=".851" stop-color="#71f300"/><stop offset=".879" stop-color="#73f300"/><stop offset=".925" stop-color="#6df300"/><stop offset="1" stop-color="#67f400"/></linearGradient><linearGradient id="g125"><stop offset="0" stop-color="#80f200"/><stop offset=".046" stop-color="#86f100"/><stop offset=".075" stop-color="#86f100"/><stop offset=".149" stop-color="#7ef200"/><stop offset=".184" stop-color="#77f200"/><stop offset=".305" stop-color="#76f200"/><stop offset=".678" stop-color="#6ff300"/><stop offset=".713" stop-color="#6bf300"/><stop offset=".741" stop-color="#6ff300"/><stop offset=".787" stop-color="#70f300"/><stop offset=".92" stop-color="#7af200"/><stop offset="1" stop-color="#6df300"/></linearGradient><linearGradient id="g126"><stop offset="0" stop-color="#8df100"/><stop offset=".144" stop-color="#86f100"/><stop offset=".178" stop-color="#80f200"/><stop offset=".293" stop-color="#82f200"/><stop offset=".385" stop-color="#7af200"/><stop offset=".46" stop-color="#7df200"/><stop offset=".534" stop-color="#78f200"/><stop offset=".58" stop-color="#7cf200"/><stop offset=".672" stop-color="#7cf200"/><stop offset=".707" stop-color="#73f300"/><stop offset=".741" stop-color="#7bf200"/><stop offset=".776" stop-color="#74f300"/><stop offset=".828" stop-color="#79f200"/><stop offset=".937" stop-color="#81f200"/><stop offset="1" stop-color="#7cf200"/></linearGradient><linearGradient id="g127"><stop offset="0" stop-color="#94f000"/><stop offset=".08" stop-color="#92f000"/><stop offset=".121" stop-color="#93f000"/><stop offset=".241" stop-color="#8ff100"/><stop offset=".293" stop-color="#92f000"/><stop offset=".351" stop-color="#8bf100"/><stop offset=".385" stop-color="#80f200"/><stop offset=".437" stop-color="#8bf100"/><stop offset=".523" stop-color="#81f200"/><stop offset=".586" stop-color="#81f200"/><stop offset=".684" stop-color="#86f100"/><stop offset=".747" stop-color="#85f100"/><stop offset=".793" stop-color="#80f200"/><stop offset="1" stop-color="#87f100"/></linearGradient><linearGradient id="g128"><stop offset="0" stop-color="#9af000"/><stop offset=".155" stop-color="#9fef01"/><stop offset=".236" stop-color="#97f000"/><stop offset=".356" stop-color="#95f000"/><stop offset=".414" stop-color="#8df100"/><stop offset=".454" stop-color="#94f000"/><stop offset=".523" stop-color="#8af100"/><stop offset=".678" stop-color="#8cf100"/><stop offset=".724" stop-color="#92f000"/><stop offset=".787" stop-color="#85f100"/><stop offset=".885" stop-color="#8cf100"/><stop offset="1" stop-color="#8bf100"/></linearGradient><linearGradient id="g129"><stop offset="0" stop-color="#a3ef02"/><stop offset=".063" stop-color="#a9ef03"/><stop offset=".109" stop-color="#a6ef02"/><stop offset=".351" stop-color="#99f000"/><stop offset=".425" stop-color="#96f000"/><stop offset=".477" stop-color="#99f000"/><stop offset=".621" stop-color="#94f000"/><stop offset=".69" stop-color="#91f000"/><stop offset=".718" stop-color="#93f000"/><stop offset=".747" stop-color="#87f100"/><stop offset=".828" stop-color="#98f000"/><stop offset="1" stop-color="#8ff100"/></linearGradient></defs><rect x="396" y="581" width="348" height="9" fill="url(#g87)"/><rect x="396" y="589" width="348" height="9" fill="url(#g88)"/><rect x="396" y="597" width="348" height="9" fill="url(#g89)"/><rect x="396" y="605" width="348" height="9" fill="url(#g90)"/><rect x="396" y="613" width="348" height="9" fill="url(#g91)"/><rect x="396" y="621" width="348" height="9" fill="url(#g92)"/><rect x="396" y="629" width="348" height="9" fill="url(#g93)"/><rect x="396" y="637" width="348" height="9" fill="url(#g94)"/><rect x="396" y="645" width="348" height="9" fill="url(#g95)"/><rect x="396" y="653" width="348" height="9" fill="url(#g96)"/><rect x="396" y="661" width="348" height="9" fill="url(#g97)"/><rect x="396" y="669" width="348" height="9" fill="url(#g98)"/><rect x="396" y="677" width="348" height="9" fill="url(#g99)"/><rect x="396" y="685" width="348" height="9" fill="url(#g100)"/><rect x="396" y="693" width="348" height="9" fill="url(#g101)"/><rect x="396" y="701" width="348" height="9" fill="url(#g102)"/><rect x="396" y="709" width="348" height="9" fill="url(#g103)"/><rect x="396" y="717" width="348" height="9" fill="url(#g104)"/><rect x="396" y="725" width="348" height="9" fill="url(#g105)"/><rect x="396" y="733" width="348" height="9" fill="url(#g106)"/><rect x="396" y="741" width="348" height="9" fill="url(#g107)"/><rect x="396" y="749" width="348" height="9" fill="url(#g108)"/><rect x="396" y="757" width="348" height="9" fill="url(#g109)"/><rect x="396" y="765" width="348" height="9" fill="url(#g110)"/><rect x="396" y="773" width="348" height="9" fill="url(#g111)"/><rect x="396" y="781" width="348" height="9" fill="url(#g112)"/><rect x="396" y="789" width="348" height="9" fill="url(#g113)"/><rect x="396" y="797" width="348" height="9" fill="url(#g114)"/><rect x="396" y="805" width="348" height="9" fill="url(#g115)"/><rect x="396" y="813" width="348" height="9" fill="url(#g116)"/><rect x="396" y="821" width="348" height="9" fill="url(#g117)"/><rect x="396" y="829" width="348" height="9" fill="url(#g118)"/><rect x="396" y="837" width="348" height="9" fill="url(#g119)"/><rect x="396" y="845" width="348" height="9" fill="url(#g120)"/><rect x="396" y="853" width="348" height="9" fill="url(#g121)"/><rect x="396" y="861" width="348" height="9" fill="url(#g122)"/><rect x="396" y="869" width="348" height="9" fill="url(#g123)"/><rect x="396" y="877" width="348" height="9" fill="url(#g124)"/><rect x="396" y="885" width="348" height="9" fill="url(#g125)"/><rect x="396" y="893" width="348" height="9" fill="url(#g126)"/><rect x="396" y="901" width="348" height="9" fill="url(#g127)"/><rect x="396" y="909" width="348" height="9" fill="url(#g128)"/><rect x="396" y="917" width="348" height="9" fill="url(#g129)"/></g><g fill="none" stroke="#0a5a14" stroke-width="1.8" stroke-opacity="0.9" stroke-linejoin="round"><path d="M468.2,604.7 465.2,603.9 464.3,601.9 467.2,593.2 472.2,594.7 476.2,593.8 479.2,597.7 482.1,599.9 481.2,601.4 479.2,602.3 470.2,601.8 468.2,604.7"/><path d="M481.2,635.3 479.2,635.4 474.2,633.9 472.6,628.9 471.2,627.6 469.2,627.6 466.2,629.9 464.2,627.9 464.2,626.7 468.2,624.2 469.9,620.9 471.2,613.9 469.1,609.9 469.2,606.3 470.2,606.0 472.2,607.2 474.8,611.9 478.3,613.9 478.4,615.9 476.2,620.9 477.2,626.0 481.2,627.6 482.1,628.9 482.4,633.9 481.2,635.3"/><path d="M418.2,611.8 415.4,609.9 416.2,608.4 418.2,608.5 419.2,609.8 418.2,611.8"/><path d="M656.2,636.2 651.5,631.9 650.3,627.9 651.5,623.9 651.3,619.9 653.2,617.1 655.2,616.1 658.9,617.9 660.7,622.9 664.2,623.6 664.7,624.9 663.2,626.8 659.2,627.2 658.2,628.0 657.8,629.9 658.8,633.9 656.2,636.2"/><path d="M634.2,643.3 633.2,643.4 631.9,641.9 631.5,639.9 632.2,637.5 635.2,633.0 638.2,633.5 639.4,631.9 638.2,631.4 635.2,632.9 631.2,628.8 627.6,627.9 627.5,626.9 630.1,623.9 630.7,621.9 630.2,620.6 628.0,618.9 631.2,617.0 633.4,617.9 636.2,625.2 638.2,625.3 642.2,622.8 644.2,623.5 645.2,625.9 644.7,629.9 645.8,635.9 645.2,637.8 638.2,639.3 634.2,643.3"/><path d="M707.2,629.0 706.2,629.0 705.3,627.9 704.7,625.9 707.7,618.9 710.2,617.4 713.8,619.9 714.1,621.9 709.9,624.9 708.9,625.9 709.0,627.9 707.2,629.0"/><path d="M679.2,626.1 678.2,626.6 677.2,625.9 676.6,623.9 677.2,622.2 679.2,623.1 679.2,626.1"/><path d="M530.2,638.0 526.2,637.4 523.6,634.9 524.2,633.5 528.1,631.9 528.6,630.9 526.9,627.9 528.2,623.7 531.4,626.9 532.2,628.7 531.7,630.9 532.4,635.9 530.2,638.0"/><path d="M449.2,639.4 439.2,638.1 437.1,636.9 439.2,632.9 438.0,627.9 438.8,625.9 442.2,625.6 447.2,628.4 449.2,628.2 452.2,626.2 453.0,626.9 450.9,629.9 449.2,639.4"/><path d="M617.2,639.0 615.2,638.3 614.3,636.9 613.5,628.9 615.1,626.9 617.2,625.8 621.2,625.7 623.6,627.9 617.2,639.0"/><path d="M744.2,639.7 738.2,640.1 734.2,643.5 732.2,644.1 730.7,642.9 730.0,639.9 731.5,631.9 733.2,630.0 736.2,630.6 741.2,636.0 744.2,636.2"/><path d="M557.2,637.3 554.5,636.9 551.7,634.9 550.2,630.6 551.2,630.0 557.2,633.2 558.3,635.9 557.2,637.3"/><path d="M396.2,666.4 401.2,665.6 402.1,667.9 403.2,668.7 409.1,670.9 410.0,672.9 409.1,676.9 410.2,678.7 412.2,678.2 416.2,674.3 421.2,672.8 423.2,673.5 426.2,677.1 430.2,677.8 431.9,680.9 435.2,681.0 436.9,679.9 437.2,677.9 435.2,675.2 431.2,673.5 429.5,668.9 430.2,667.3 433.2,667.9 435.4,672.9 438.2,674.2 440.2,673.8 441.8,670.9 443.2,670.2 444.7,670.9 447.1,673.9 450.2,674.2 454.8,668.9 453.2,666.5 450.2,665.3 445.2,666.1 437.7,665.9 437.2,663.9 439.0,658.9 438.2,651.9 440.2,650.7 445.2,649.8 449.2,655.3 453.2,654.9 456.5,652.9 459.2,650.1 463.2,651.1 465.2,650.0 465.1,643.9 466.2,641.7 470.2,643.2 474.2,641.2 476.3,641.9 474.7,643.9 475.2,645.6 476.2,645.9 479.2,644.4 480.2,645.4 479.9,646.9 478.2,648.5 472.2,649.2 467.4,653.9 464.9,663.9 466.0,665.9 468.3,666.9 474.2,666.1 477.2,670.9 482.2,674.6 483.6,673.9 484.0,670.9 480.0,665.9 479.6,663.9 487.2,657.9 489.2,658.9 495.3,665.9 500.2,668.1 511.2,665.6 518.2,668.6 520.9,666.9 522.2,663.0 523.2,662.8 526.2,665.0 528.9,664.9 528.0,662.9 523.6,658.9 522.2,653.9 518.2,652.7 516.7,646.9 516.8,645.9 518.2,645.2 523.2,646.9 529.2,652.4 532.6,663.9 536.2,667.6 538.2,668.3 544.2,667.9 545.8,666.9 547.8,662.9 547.8,660.9 544.8,654.9 546.2,653.6 549.2,653.1 556.2,656.4 559.0,658.9 557.0,666.9 558.2,668.8 560.2,669.5 563.2,667.4 564.2,663.9 564.1,662.9 560.4,659.9 560.9,657.9 564.2,655.6 572.2,653.1 575.0,648.9 576.2,648.4 579.2,649.2 578.9,653.9 580.2,658.9 584.2,661.5 587.2,660.8 587.0,652.9 583.4,648.9 582.7,643.9 583.2,642.3 587.8,637.9 586.3,632.9 587.2,631.3 589.2,630.7 591.3,630.9 592.7,631.9 592.4,633.9 589.2,637.9 588.7,639.9 589.1,641.9 591.8,645.9 592.7,649.9 592.3,651.9 594.2,653.5 595.2,652.9 595.2,651.2 596.2,651.2 599.3,657.9 605.2,662.7 607.2,662.7 615.2,660.0 621.2,659.8 624.2,657.5 628.0,651.9 628.8,649.9 628.4,647.9 631.2,646.9 634.4,650.9 632.2,655.9 633.6,660.9 636.2,663.5 638.2,663.5 639.8,658.9 643.8,652.9 649.2,650.0 653.2,646.9 655.2,646.5 657.2,647.6 657.8,649.9 657.0,653.9 654.3,656.9 655.4,660.9 660.2,663.9 664.5,668.9 669.2,670.4 671.4,669.9 675.2,663.7 679.2,662.7 682.2,659.3 684.2,658.9 689.2,660.6 692.2,660.4 694.3,658.9 694.2,653.9 699.2,653.1 703.2,651.0 707.2,651.4 714.2,647.1 717.2,647.8 724.2,652.6 725.2,652.7 729.2,650.1 730.2,650.4 731.5,653.9 735.2,657.0 738.2,662.6 744.2,662.1"/><path d="M416.2,642.3 411.2,642.4 410.6,640.9 411.6,637.9 415.2,635.8 419.2,636.6 421.6,638.9 421.1,639.9 416.2,642.3"/><path d="M679.2,648.5 678.2,645.9 679.4,639.9 683.2,635.4 686.2,635.5 687.1,636.9 687.1,638.9 679.2,648.5"/><path d="M396.2,640.5 399.2,641.1 406.2,644.9 410.2,643.2 411.2,643.5 411.8,645.9 410.2,648.3 406.2,647.1 405.2,647.5 396.2,655.4"/><path d="M570.2,646.0 567.2,646.2 564.2,644.4 560.2,644.6 559.4,643.9 562.2,640.2 566.2,642.4 571.2,642.8 571.5,644.9 570.2,646.0"/><path d="M604.2,644.9 602.2,645.6 601.4,644.9 602.2,642.1 604.2,640.3 606.0,641.9 605.4,643.9 604.2,644.9"/><path d="M457.2,646.6 455.2,646.4 452.5,644.9 451.2,643.4 451.0,641.9 452.2,641.7 455.2,643.4 457.2,646.6"/><path d="M510.2,657.2 506.1,655.9 501.5,651.9 501.7,648.9 504.5,642.9 506.2,641.5 510.2,643.0 512.5,644.9 510.2,657.2"/><path d="M619.2,653.1 617.5,652.9 616.5,651.9 617.3,643.9 619.2,642.6 625.5,642.9 628.1,646.9 622.3,649.9 619.2,653.1"/><path d="M490.2,652.6 488.2,651.9 487.9,650.9 488.2,649.9 490.2,648.9 491.1,650.9 490.2,652.6"/><path d="M682.2,655.4 680.2,655.8 679.2,654.9 679.2,649.2 682.3,653.9 682.2,655.4"/><path d="M710.6,672.9 714.5,666.9 713.0,663.9 709.2,662.9 705.6,659.9 704.2,659.6 697.3,664.9 698.2,671.9 699.2,672.7 704.2,671.4 708.2,673.5 710.6,672.9"/><path d="M624.6,668.9 626.3,665.9 630.2,663.9 630.2,661.9 627.2,661.4 625.2,664.6 622.5,665.9 623.2,668.9 624.6,668.9"/><path d="M418.2,669.5 416.0,668.9 417.2,667.0 418.3,666.9 419.2,667.9 418.2,669.5"/><path d="M526.5,680.9 528.0,678.9 527.8,676.9 526.2,675.5 524.2,675.6 522.9,677.9 523.2,680.2 525.2,681.6 526.5,680.9"/><path d="M620.4,678.9 618.2,676.1 617.2,675.8 616.1,676.9 617.2,679.4 619.2,679.8 620.4,678.9"/><path d="M539.4,683.9 539.8,679.9 539.2,678.9 537.3,678.9 536.7,682.9 537.2,684.0 539.4,683.9"/><path d="M396.2,695.8 398.2,696.3 400.2,695.9 404.2,692.0 408.2,693.9 410.2,693.4 411.1,691.9 409.8,689.9 405.2,688.7 398.3,684.9 397.3,683.9 396.2,679.6"/><path d="M663.8,681.9 664.4,679.9 663.2,679.1 662.1,679.9 661.6,681.9 662.2,682.8 663.8,681.9"/><path d="M605.6,688.9 607.5,685.9 607.1,684.9 604.2,684.4 603.4,686.9 604.2,688.4 605.6,688.9"/><path d="M465.5,693.9 467.2,691.2 470.2,689.9 470.9,688.9 471.1,685.9 470.2,685.0 468.2,685.5 465.2,688.6 462.6,689.9 463.2,693.7 465.5,693.9"/><path d="M521.8,697.9 524.3,695.9 525.2,693.9 525.0,691.9 523.2,689.3 522.2,689.9 518.5,695.9 519.2,698.2 521.8,697.9"/><path d="M450.2,711.3 448.2,711.2 448.0,709.9 449.2,709.1 450.2,709.4 450.2,711.3"/><path d="M687.2,720.3 685.2,719.7 683.5,716.9 684.2,712.9 686.2,711.4 689.2,711.7 690.5,712.9 687.2,720.3"/><path d="M711.2,736.1 710.0,735.9 709.5,731.9 707.1,727.9 709.2,725.8 713.2,725.4 714.8,726.9 715.9,732.9 715.6,733.9 711.2,736.1"/><path d="M396.2,730.1 400.2,732.3 411.2,743.8 410.8,750.9 412.2,753.8 417.2,751.9 417.4,746.9 420.2,745.6 423.2,746.2 430.2,745.1 432.2,750.0 434.2,751.9 436.2,752.5 439.2,752.9 443.2,751.6 447.2,751.6 449.2,749.9 450.0,747.9 449.2,746.3 445.2,745.9 444.0,744.9 444.0,742.9 445.5,738.9 442.2,738.3 441.8,736.9 442.8,734.9 444.2,734.2 445.9,734.9 449.4,740.9 452.2,742.8 455.2,742.7 460.2,740.4 465.3,740.9 468.0,742.9 466.2,744.6 463.2,745.5 462.8,746.9 465.2,748.4 469.2,748.8 470.2,747.9 471.1,744.9 468.4,742.9 468.4,736.9 469.5,733.9 468.1,729.9 468.6,727.9 470.2,726.8 473.2,727.9 472.5,735.9 473.5,742.9 477.2,746.7 479.2,746.8 480.0,745.9 480.4,741.9 479.5,737.9 481.3,734.9 483.2,733.5 484.6,733.9 486.9,737.9 488.2,738.4 492.2,736.0 496.2,736.9 500.2,736.4 503.7,737.9 504.2,741.9 506.2,744.0 507.4,746.9 511.5,749.9 512.6,753.9 517.2,753.7 522.2,756.0 523.4,754.9 523.9,750.9 528.7,746.9 527.6,744.9 524.2,742.9 522.2,745.1 520.1,744.9 519.2,743.9 519.3,741.9 522.2,738.7 522.2,731.9 525.2,730.5 533.0,734.9 535.0,738.9 538.2,740.9 545.2,738.0 548.7,734.9 552.2,734.7 552.5,736.9 548.7,741.9 549.5,743.9 552.2,745.8 557.2,747.6 560.2,752.6 564.2,752.3 566.0,752.9 567.2,756.3 570.2,757.9 571.3,757.9 574.2,755.4 580.2,755.3 583.5,753.9 583.9,752.9 582.7,746.9 584.2,745.1 588.5,744.9 589.7,739.9 588.9,735.9 598.2,734.4 599.8,735.9 599.7,738.9 599.1,740.9 596.1,744.9 600.0,751.9 601.2,758.5 602.6,757.9 604.0,752.9 607.0,749.9 607.2,742.9 611.2,739.3 614.8,740.9 616.2,744.4 618.1,743.9 618.2,740.9 619.2,740.0 624.3,742.9 625.4,745.9 623.2,750.9 625.0,753.9 625.1,756.9 628.2,756.6 630.2,753.0 633.7,750.9 634.2,745.8 638.2,745.5 643.2,748.8 650.2,750.3 652.2,751.6 654.9,756.9 655.4,760.9 657.2,762.3 660.2,761.8 662.7,759.9 663.2,754.9 666.0,750.9 666.0,748.9 664.8,746.9 665.2,745.5 667.2,745.6 670.2,749.1 675.2,747.2 683.2,748.0 688.8,744.9 688.9,742.9 687.2,741.2 687.2,739.8 695.2,742.3 701.2,749.6 706.2,749.2 710.2,752.1 712.5,749.9 712.0,742.9 714.2,741.5 715.3,741.9 717.3,745.9 720.2,748.0 723.2,748.0 727.2,746.1 730.2,747.8 735.2,749.1 744.2,756.0"/><path d="M515.2,735.1 514.2,735.4 512.2,734.2 511.3,731.9 516.2,726.8 517.9,727.9 518.5,729.9 515.2,735.1"/><path d="M568.2,745.0 566.2,745.9 564.7,744.9 562.2,736.9 559.9,733.9 559.9,729.9 562.2,728.0 564.2,728.4 566.2,733.0 571.1,733.9 572.1,734.9 569.5,737.9 569.4,742.9 568.2,745.0"/><path d="M609.2,735.2 607.2,734.9 604.7,732.9 603.9,730.9 605.2,729.0 608.2,729.1 610.4,730.9 610.7,733.9 609.2,735.2"/><path d="M631.2,739.0 628.2,739.2 628.0,737.9 629.2,736.7 633.8,734.9 633.2,737.6 631.2,739.0"/><path d="M676.2,740.9 673.2,741.3 671.2,740.7 670.6,738.9 671.2,737.6 673.2,736.2 678.2,736.5 681.2,735.3 682.2,735.4 684.1,737.9 676.2,740.9"/><path d="M702.2,742.2 698.2,741.6 697.2,740.8 697.1,738.9 698.2,738.0 700.2,738.2 702.4,740.9 702.2,742.2"/><path d="M432.2,745.0 430.6,744.9 430.7,742.9 431.9,740.9 433.2,740.5 434.2,740.9 435.1,742.9 434.2,744.3 432.2,745.0"/><path d="M535.4,751.9 536.2,749.7 533.2,747.2 531.8,746.9 531.4,748.9 533.2,752.3 534.2,752.8 535.4,751.9"/><path d="M693.9,749.9 694.9,747.9 694.2,747.1 692.2,747.4 691.7,748.9 692.2,750.7 693.9,749.9"/><path d="M618.7,751.9 618.5,749.9 616.2,748.0 614.1,749.9 614.2,751.8 615.2,752.4 617.2,752.7 618.7,751.9"/><path d="M680.5,768.9 685.2,766.2 686.7,761.9 691.4,758.9 692.4,755.9 691.2,753.6 687.2,756.0 682.2,753.5 680.7,754.9 679.8,758.9 678.2,761.3 673.2,762.6 670.8,764.9 671.2,765.9 678.2,768.9 680.5,768.9"/><path d="M473.7,757.9 474.8,756.9 474.2,755.6 471.2,755.8 470.5,756.9 471.2,758.3 473.7,757.9"/><path d="M585.5,770.9 587.9,767.9 587.8,765.9 586.2,764.0 584.2,766.6 583.1,769.9 583.2,770.9 584.2,771.4 585.5,770.9"/><path d="M666.6,771.9 669.7,765.9 666.2,765.2 663.8,766.9 662.7,769.9 663.2,771.9 665.2,772.5 666.6,771.9"/><path d="M512.7,776.9 515.3,774.9 515.2,772.5 509.2,769.7 505.7,771.9 504.7,774.9 505.8,776.9 509.2,777.9 512.7,776.9"/><path d="M639.1,777.9 641.2,776.4 641.7,774.9 640.2,770.5 633.2,769.7 630.1,770.9 629.4,772.9 630.7,774.9 636.2,777.8 639.1,777.9"/><path d="M624.4,777.9 625.7,776.9 625.7,775.9 622.2,772.5 620.2,772.2 615.1,773.9 624.4,777.9"/><path d="M455.4,779.9 458.2,776.9 457.2,774.6 455.2,773.3 453.2,774.7 452.2,777.9 453.2,780.0 455.4,779.9"/><path d="M470.1,780.9 472.4,778.9 470.2,776.8 467.2,776.9 465.4,778.9 465.2,779.9 466.2,781.1 470.1,780.9"/><path d="M590.4,786.9 587.2,780.7 583.2,776.7 582.2,776.8 581.8,778.9 583.2,782.3 588.2,787.0 589.2,787.6 590.4,786.9"/><path d="M597.8,790.9 602.2,787.9 601.6,786.9 596.3,785.9 593.2,787.9 592.9,788.9 594.2,790.7 597.8,790.9"/><path d="M441.3,795.9 442.3,794.9 442.6,791.9 437.2,792.8 438.2,795.3 441.3,795.9"/><path d="M586.2,819.9 585.2,819.8 582.2,816.1 579.1,815.9 578.8,813.9 580.2,813.3 586.9,814.9 588.5,818.9 586.2,819.9"/><path d="M429.2,816.2 427.2,816.8 426.4,815.9 427.2,814.6 429.2,814.1 429.8,814.9 429.2,816.2"/><path d="M702.2,821.0 701.3,818.9 702.2,817.6 703.2,818.0 703.7,819.9 702.2,821.0"/><path d="M472.2,836.1 470.2,836.1 465.2,831.7 460.2,833.6 452.2,830.9 450.9,828.9 450.6,826.9 452.2,822.1 454.2,821.9 457.2,824.3 461.2,825.9 466.2,830.4 470.2,828.2 472.2,828.2 472.7,833.9 472.2,836.1"/><path d="M620.2,828.8 615.2,827.5 614.1,825.9 614.5,824.9 618.2,823.5 623.2,823.1 624.1,823.9 620.2,828.8"/><path d="M669.2,828.1 662.2,828.8 661.6,826.9 663.6,823.9 668.2,822.1 669.7,823.9 669.2,828.1"/><path d="M629.2,826.0 626.3,824.9 627.3,823.9 630.2,823.8 630.5,824.9 629.2,826.0"/><path d="M724.2,834.9 722.2,834.3 720.2,831.4 714.2,830.1 712.9,827.9 713.1,826.9 717.2,826.9 722.2,829.3 727.2,828.9 729.5,831.9 724.2,834.9"/><path d="M396.2,871.6 400.2,869.6 402.2,870.3 403.2,869.9 400.8,866.9 400.8,864.9 405.9,861.9 408.2,859.4 413.2,860.4 422.0,856.9 422.4,852.9 424.2,850.8 426.2,850.0 428.2,850.4 430.1,851.9 427.9,858.9 430.8,860.9 430.3,865.9 433.2,871.2 435.2,872.5 439.2,872.8 445.2,875.1 452.2,874.3 453.7,872.9 453.6,871.9 451.2,867.6 450.2,866.7 446.2,867.7 444.6,863.9 440.2,862.9 439.4,861.9 438.2,857.9 435.8,855.9 435.5,853.9 436.2,852.2 438.2,851.7 442.2,852.8 447.2,855.8 448.5,857.9 447.3,861.9 450.2,863.8 459.2,862.9 459.2,856.9 460.2,854.8 461.2,854.1 462.2,854.5 464.3,860.9 461.2,863.8 461.4,864.9 463.9,866.9 466.2,867.1 467.8,864.9 467.3,860.9 467.8,859.9 470.2,857.6 475.2,856.3 476.6,854.9 477.0,851.9 476.2,850.7 471.2,852.8 470.2,852.2 469.9,850.9 471.0,848.9 473.5,846.9 480.2,844.7 483.5,845.9 485.2,848.7 491.2,841.5 498.2,838.6 499.0,835.9 499.0,831.9 501.2,829.4 503.3,830.9 505.2,835.9 507.2,835.9 510.2,834.0 512.6,836.9 515.6,838.9 516.1,842.9 515.6,847.9 515.2,849.0 511.2,851.0 510.4,852.9 510.7,855.9 512.1,858.9 519.4,865.9 519.0,867.9 515.3,874.9 516.2,876.6 519.6,878.9 520.7,882.9 522.2,884.0 524.2,883.3 525.2,881.9 524.4,878.9 522.5,875.9 523.1,872.9 527.2,870.4 529.3,867.9 529.3,865.9 526.1,862.9 527.8,858.9 534.2,856.4 543.5,856.9 549.4,862.9 546.8,866.9 548.0,871.9 552.1,876.9 553.8,876.9 554.4,875.9 552.7,873.9 553.0,871.9 554.5,866.9 560.3,857.9 561.2,853.9 560.7,849.9 563.2,848.7 567.2,850.3 569.2,849.8 572.2,846.2 577.5,843.9 578.7,841.9 578.4,838.9 579.2,838.2 581.2,839.6 582.6,843.9 579.2,848.2 576.1,849.9 573.4,854.9 574.8,865.9 575.8,867.9 578.2,869.7 583.2,868.5 586.2,869.9 583.5,874.9 585.0,878.9 588.2,883.2 590.2,883.2 592.4,881.9 595.2,876.7 602.3,874.9 606.2,871.8 609.2,873.5 614.2,874.9 617.2,873.6 618.4,879.9 616.2,879.5 615.2,880.1 612.8,882.9 613.0,884.9 617.2,886.6 623.2,883.0 627.2,884.6 632.2,883.5 635.2,881.9 637.2,882.4 638.1,883.9 635.2,888.7 635.3,892.9 636.2,895.0 641.2,899.1 643.1,897.9 642.9,893.9 645.9,888.9 644.3,881.9 644.6,880.9 647.0,879.9 647.5,878.9 647.4,874.9 645.8,868.9 648.2,864.6 651.2,862.3 654.2,862.6 663.0,866.9 663.4,868.9 662.3,872.9 663.2,874.5 666.2,874.5 669.2,871.0 670.2,871.2 678.3,875.9 681.2,879.6 686.2,881.1 689.6,877.9 686.8,868.9 688.7,864.9 688.8,860.9 691.2,859.1 692.5,859.9 692.8,862.9 694.2,864.6 699.2,865.8 700.7,866.9 701.6,870.9 704.6,873.9 706.2,878.4 711.2,879.1 714.2,883.0 717.7,878.9 717.6,876.9 715.9,873.9 717.6,868.9 717.2,867.7 716.2,867.3 712.2,867.9 711.3,866.9 710.6,861.9 711.2,860.9 714.5,860.9 714.2,859.6 711.2,859.0 711.2,857.9 712.3,855.9 715.9,852.9 721.4,849.9 723.2,847.5 730.2,846.9 732.2,851.9 736.2,852.1 738.2,853.1 739.2,854.9 738.8,858.9 742.2,864.4 744.2,865.4"/><path d="M638.2,864.0 637.2,863.7 636.1,858.9 632.2,857.4 627.7,857.9 625.7,855.9 623.6,848.9 626.7,843.9 625.1,838.9 626.0,834.9 625.2,832.8 621.9,830.9 622.2,829.6 628.2,829.2 633.7,829.9 631.0,833.9 631.2,835.9 635.2,838.8 639.2,843.2 641.2,843.6 645.2,840.2 649.2,838.9 651.2,839.6 652.9,841.9 649.8,844.9 649.9,849.9 647.2,857.3 638.2,864.0"/><path d="M693.2,841.1 692.2,841.4 690.2,838.6 685.2,836.8 684.2,834.9 685.2,832.5 687.2,831.8 689.2,832.7 691.2,837.5 693.3,839.9 693.2,841.1"/><path d="M672.2,846.4 670.2,846.0 667.2,843.2 662.7,842.9 662.1,841.9 662.5,837.9 660.8,835.9 661.2,834.1 662.2,833.8 666.2,837.7 666.8,840.9 668.2,842.8 672.2,843.2 672.8,844.9 672.2,846.4"/><path d="M421.2,838.9 420.2,839.9 419.2,839.6 415.3,836.9 415.2,835.4 416.2,834.4 418.2,834.7 421.2,836.9 421.2,838.9"/><path d="M396.2,839.2 399.6,839.9 401.1,841.9 401.0,843.9 399.2,847.9 400.2,849.7 405.2,851.4 409.5,851.9 404.2,856.3 401.2,855.9 396.2,852.9"/><path d="M512.2,847.9 513.0,845.9 510.2,842.4 506.2,841.3 503.2,838.9 500.4,839.9 500.2,842.5 501.2,843.8 505.2,843.6 509.2,848.4 511.2,848.6 512.2,847.9"/><path d="M554.2,853.9 552.2,853.2 551.3,851.9 550.8,849.9 551.4,846.9 550.3,844.9 545.2,842.8 544.9,840.9 545.8,839.9 548.2,839.8 555.0,842.9 554.7,846.9 557.1,849.9 557.8,851.9 556.2,853.5 554.2,853.9"/><path d="M656.2,844.1 654.2,844.3 652.2,842.9 655.2,841.1 657.2,840.8 657.8,841.9 656.2,844.1"/><path d="M614.2,854.2 612.2,854.3 609.1,852.9 608.4,849.9 610.1,847.9 616.2,846.7 616.9,846.9 616.1,851.9 614.2,854.2"/><path d="M492.2,864.9 495.2,863.2 500.2,863.8 501.5,862.9 504.0,857.9 503.2,853.7 501.6,850.9 494.2,847.9 491.9,848.9 488.2,854.5 483.2,854.8 482.1,856.9 483.5,859.9 489.2,864.5 490.2,865.2 492.2,864.9"/><path d="M673.2,857.3 670.7,856.9 673.5,849.9 676.2,848.4 678.2,848.3 679.0,850.9 673.2,857.3"/><path d="M602.2,862.0 600.2,861.5 599.2,860.1 599.6,855.9 602.2,853.8 606.8,853.9 608.3,856.9 608.2,860.5 602.2,862.0"/><path d="M726.2,871.9 729.6,863.9 728.2,862.2 724.8,863.9 723.3,865.9 724.5,870.9 725.2,872.0 726.2,871.9"/><path d="M493.6,874.9 493.1,871.9 491.2,870.8 490.2,871.3 490.1,872.9 491.2,874.4 493.6,874.9"/><path d="M635.2,880.8 633.2,880.5 631.5,878.9 630.7,876.9 631.2,875.4 633.6,874.9 636.0,876.9 636.3,878.9 635.2,880.8"/><path d="M478.4,888.9 481.2,888.3 484.5,884.9 485.2,878.9 484.2,877.2 480.2,878.2 476.2,882.1 472.2,882.8 469.2,880.6 466.5,882.9 466.2,883.9 472.0,887.9 475.2,888.9 478.4,888.9"/><path d="M560.2,886.9 563.9,878.9 562.2,877.4 559.2,877.0 557.3,877.9 556.9,880.9 554.5,884.9 555.2,886.2 558.2,887.7 560.2,886.9"/><path d="M454.5,896.9 459.6,887.9 460.2,884.9 459.9,882.9 458.2,880.9 453.2,879.8 451.2,881.9 454.2,884.1 454.3,887.9 451.0,892.9 450.1,895.9 451.2,897.7 453.2,897.7 454.5,896.9"/><path d="M665.7,898.9 663.6,894.9 662.6,889.9 662.8,887.9 664.6,884.9 659.2,880.0 656.9,879.9 652.1,883.9 654.5,886.9 658.2,894.5 661.8,896.9 663.2,899.2 665.2,899.6 665.7,898.9"/><path d="M536.4,886.9 536.2,884.3 535.2,882.9 534.6,883.9 535.0,885.9 536.4,886.9"/><path d="M517.8,891.9 517.7,889.9 516.4,887.9 510.2,886.6 507.0,886.9 504.7,889.9 505.2,891.7 506.2,892.4 512.2,891.1 516.2,892.5 517.8,891.9"/><path d="M578.6,896.9 578.8,895.9 576.2,893.1 573.6,895.9 575.2,897.1 578.6,896.9"/><path d="M526.3,897.9 526.0,895.9 524.2,894.7 523.6,895.9 524.2,897.4 525.2,898.4 526.3,897.9"/></g></g><g clip-path="url(#c3)"><g filter="url(#b_row)"><defs><linearGradient id="g173"><stop offset="0" stop-color="#2af802"/><stop offset=".098" stop-color="#1ef805"/><stop offset=".126" stop-color="#1bf806"/><stop offset=".161" stop-color="#26f803"/><stop offset=".207" stop-color="#23f804"/><stop offset=".241" stop-color="#26f803"/><stop offset=".282" stop-color="#1bf806"/><stop offset=".322" stop-color="#2bf801"/><stop offset=".385" stop-color="#21f804"/><stop offset=".523" stop-color="#28f802"/><stop offset=".58" stop-color="#29f802"/><stop offset=".621" stop-color="#27f803"/><stop offset=".678" stop-color="#25f803"/><stop offset=".724" stop-color="#29f802"/><stop offset=".799" stop-color="#21f804"/><stop offset=".856" stop-color="#21f804"/><stop offset=".908" stop-color="#23f804"/><stop offset="1" stop-color="#29f802"/></linearGradient><linearGradient id="g174"><stop offset="0" stop-color="#29f802"/><stop offset=".132" stop-color="#25f803"/><stop offset=".276" stop-color="#22f804"/><stop offset=".333" stop-color="#28f802"/><stop offset=".414" stop-color="#1df806"/><stop offset=".489" stop-color="#1ff805"/><stop offset=".534" stop-color="#26f803"/><stop offset=".58" stop-color="#26f803"/><stop offset=".615" stop-color="#27f803"/><stop offset=".678" stop-color="#27f802"/><stop offset=".793" stop-color="#24f803"/><stop offset="1" stop-color="#25f803"/></linearGradient><linearGradient id="g175"><stop offset="0" stop-color="#27f803"/><stop offset=".086" stop-color="#29f802"/><stop offset=".213" stop-color="#21f804"/><stop offset=".253" stop-color="#1df806"/><stop offset=".339" stop-color="#27f802"/><stop offset=".408" stop-color="#1bf806"/><stop offset=".448" stop-color="#23f804"/><stop offset=".54" stop-color="#28f802"/><stop offset=".615" stop-color="#26f803"/><stop offset=".753" stop-color="#25f803"/><stop offset=".799" stop-color="#28f802"/><stop offset=".851" stop-color="#27f803"/><stop offset=".943" stop-color="#23f804"/><stop offset="1" stop-color="#27f803"/></linearGradient><linearGradient id="g176"><stop offset="0" stop-color="#23f804"/><stop offset=".201" stop-color="#24f803"/><stop offset=".264" stop-color="#20f805"/><stop offset=".328" stop-color="#26f803"/><stop offset=".42" stop-color="#22f804"/><stop offset=".483" stop-color="#26f803"/><stop offset=".621" stop-color="#21f804"/><stop offset=".736" stop-color="#2bf801"/><stop offset=".782" stop-color="#27f803"/><stop offset=".856" stop-color="#25f803"/><stop offset=".937" stop-color="#23f804"/><stop offset="1" stop-color="#29f802"/></linearGradient><linearGradient id="g177"><stop offset="0" stop-color="#26f803"/><stop offset=".08" stop-color="#22f804"/><stop offset=".121" stop-color="#23f804"/><stop offset=".19" stop-color="#28f802"/><stop offset=".253" stop-color="#25f803"/><stop offset=".397" stop-color="#24f803"/><stop offset=".477" stop-color="#27f803"/><stop offset=".563" stop-color="#20f804"/><stop offset=".799" stop-color="#25f803"/><stop offset=".983" stop-color="#2bf802"/><stop offset="1" stop-color="#2df801"/></linearGradient><linearGradient id="g178"><stop offset="0" stop-color="#28f802"/><stop offset=".075" stop-color="#23f804"/><stop offset=".184" stop-color="#28f802"/><stop offset=".241" stop-color="#23f804"/><stop offset=".282" stop-color="#27f803"/><stop offset=".443" stop-color="#22f804"/><stop offset=".511" stop-color="#23f804"/><stop offset=".546" stop-color="#25f803"/><stop offset=".598" stop-color="#27f803"/><stop offset=".695" stop-color="#1ff805"/><stop offset=".793" stop-color="#25f803"/><stop offset=".925" stop-color="#29f802"/><stop offset="1" stop-color="#2ef801"/></linearGradient><linearGradient id="g179"><stop offset="0" stop-color="#24f803"/><stop offset=".178" stop-color="#26f803"/><stop offset=".247" stop-color="#22f804"/><stop offset=".408" stop-color="#27f803"/><stop offset=".471" stop-color="#26f803"/><stop offset=".546" stop-color="#2af802"/><stop offset=".58" stop-color="#2af802"/><stop offset=".69" stop-color="#1ef805"/><stop offset=".799" stop-color="#22f804"/><stop offset=".868" stop-color="#25f803"/><stop offset=".971" stop-color="#25f803"/><stop offset="1" stop-color="#2df801"/></linearGradient><linearGradient id="g180"><stop offset="0" stop-color="#1ff805"/><stop offset=".052" stop-color="#23f804"/><stop offset=".218" stop-color="#24f803"/><stop offset=".345" stop-color="#26f803"/><stop offset=".391" stop-color="#23f804"/><stop offset=".575" stop-color="#26f803"/><stop offset=".644" stop-color="#22f804"/><stop offset=".753" stop-color="#26f803"/><stop offset=".828" stop-color="#23f804"/><stop offset=".902" stop-color="#1df806"/><stop offset="1" stop-color="#27f803"/></linearGradient><linearGradient id="g181"><stop offset="0" stop-color="#1ef805"/><stop offset=".172" stop-color="#20f805"/><stop offset=".213" stop-color="#22f804"/><stop offset=".253" stop-color="#21f804"/><stop offset=".31" stop-color="#29f802"/><stop offset=".379" stop-color="#1af806"/><stop offset=".42" stop-color="#20f804"/><stop offset=".471" stop-color="#26f803"/><stop offset=".632" stop-color="#22f804"/><stop offset=".73" stop-color="#29f802"/><stop offset=".81" stop-color="#20f804"/><stop offset=".851" stop-color="#22f804"/><stop offset=".902" stop-color="#1ef805"/><stop offset=".971" stop-color="#22f804"/><stop offset="1" stop-color="#23f804"/></linearGradient><linearGradient id="g182"><stop offset="0" stop-color="#1ff805"/><stop offset=".138" stop-color="#21f804"/><stop offset=".27" stop-color="#25f803"/><stop offset=".31" stop-color="#23f804"/><stop offset=".385" stop-color="#25f803"/><stop offset=".471" stop-color="#22f804"/><stop offset=".621" stop-color="#24f804"/><stop offset=".684" stop-color="#27f803"/><stop offset=".736" stop-color="#29f802"/><stop offset=".776" stop-color="#23f804"/><stop offset=".81" stop-color="#20f805"/><stop offset=".856" stop-color="#27f803"/><stop offset=".92" stop-color="#20f805"/><stop offset=".96" stop-color="#25f803"/><stop offset="1" stop-color="#22f804"/></linearGradient><linearGradient id="g183"><stop offset="0" stop-color="#23f804"/><stop offset=".103" stop-color="#2af802"/><stop offset=".149" stop-color="#27f803"/><stop offset=".224" stop-color="#27f803"/><stop offset=".276" stop-color="#2ef801"/><stop offset=".316" stop-color="#25f803"/><stop offset=".477" stop-color="#28f802"/><stop offset=".569" stop-color="#26f803"/><stop offset=".655" stop-color="#31f800"/><stop offset=".724" stop-color="#2cf801"/><stop offset=".77" stop-color="#28f802"/><stop offset=".805" stop-color="#22f804"/><stop offset=".874" stop-color="#2bf801"/><stop offset="1" stop-color="#22f804"/></linearGradient><linearGradient id="g184"><stop offset="0" stop-color="#38f700"/><stop offset=".075" stop-color="#3bf700"/><stop offset=".109" stop-color="#3ef700"/><stop offset=".207" stop-color="#32f800"/><stop offset=".27" stop-color="#47f600"/><stop offset=".31" stop-color="#3bf700"/><stop offset=".356" stop-color="#3df700"/><stop offset=".391" stop-color="#3af700"/><stop offset=".46" stop-color="#40f700"/><stop offset=".557" stop-color="#36f700"/><stop offset=".626" stop-color="#47f600"/><stop offset=".707" stop-color="#3df700"/><stop offset=".747" stop-color="#42f700"/><stop offset=".805" stop-color="#38f700"/><stop offset=".885" stop-color="#40f700"/><stop offset=".977" stop-color="#3af700"/><stop offset="1" stop-color="#31f800"/></linearGradient><linearGradient id="g185"><stop offset="0" stop-color="#87f100"/><stop offset=".075" stop-color="#83f200"/><stop offset=".218" stop-color="#6ff300"/><stop offset=".276" stop-color="#84f100"/><stop offset=".328" stop-color="#69f300"/><stop offset=".374" stop-color="#61f400"/><stop offset=".414" stop-color="#7df200"/><stop offset=".506" stop-color="#72f300"/><stop offset=".557" stop-color="#69f300"/><stop offset=".626" stop-color="#76f200"/><stop offset=".701" stop-color="#6df300"/><stop offset=".736" stop-color="#69f300"/><stop offset=".793" stop-color="#53f500"/><stop offset=".914" stop-color="#52f500"/><stop offset=".989" stop-color="#4df600"/><stop offset="1" stop-color="#4bf600"/></linearGradient><linearGradient id="g186"><stop offset="0" stop-color="#f8bf18"/><stop offset=".052" stop-color="#f8be19"/><stop offset=".224" stop-color="#f8d613"/><stop offset=".282" stop-color="#f8d712"/><stop offset=".299" stop-color="#f2e20f"/><stop offset=".351" stop-color="#afee04"/><stop offset=".368" stop-color="#b2ee04"/><stop offset=".408" stop-color="#f3e10f"/><stop offset=".454" stop-color="#f6e010"/><stop offset=".54" stop-color="#ebe30e"/><stop offset=".586" stop-color="#e6e40d"/><stop offset=".626" stop-color="#ebe30e"/><stop offset=".713" stop-color="#d1ea0a"/><stop offset=".787" stop-color="#83f200"/><stop offset=".862" stop-color="#80f200"/><stop offset=".92" stop-color="#83f200"/><stop offset=".948" stop-color="#7cf200"/><stop offset="1" stop-color="#7ef200"/></linearGradient><linearGradient id="g187"><stop offset="0" stop-color="#f4a31f"/><stop offset=".057" stop-color="#f5a81e"/><stop offset=".19" stop-color="#f7b91a"/><stop offset=".287" stop-color="#f8c617"/><stop offset=".345" stop-color="#f3e10f"/><stop offset=".374" stop-color="#f5e110"/><stop offset=".425" stop-color="#f8ce15"/><stop offset=".609" stop-color="#f8d812"/><stop offset=".684" stop-color="#f8dd11"/><stop offset=".707" stop-color="#ece30e"/><stop offset=".787" stop-color="#8df100"/><stop offset=".81" stop-color="#85f100"/><stop offset=".925" stop-color="#94f000"/><stop offset=".977" stop-color="#89f100"/><stop offset="1" stop-color="#8cf100"/></linearGradient><linearGradient id="g188"><stop offset="0" stop-color="#f5a71e"/><stop offset=".109" stop-color="#f6af1c"/><stop offset=".19" stop-color="#f7b61a"/><stop offset=".362" stop-color="#f8cf14"/><stop offset=".454" stop-color="#f8ce14"/><stop offset=".626" stop-color="#f8dc11"/><stop offset=".678" stop-color="#f8dd11"/><stop offset=".707" stop-color="#ede30e"/><stop offset=".787" stop-color="#92f000"/><stop offset=".816" stop-color="#8af100"/><stop offset=".925" stop-color="#8df100"/><stop offset="1" stop-color="#83f100"/></linearGradient><linearGradient id="g189"><stop offset="0" stop-color="#f5ac1d"/><stop offset=".069" stop-color="#f5a71e"/><stop offset=".351" stop-color="#f8c916"/><stop offset=".408" stop-color="#f8ce14"/><stop offset=".454" stop-color="#f4e10f"/><stop offset=".523" stop-color="#eee30e"/><stop offset=".598" stop-color="#dbe70b"/><stop offset=".626" stop-color="#d4e90a"/><stop offset=".655" stop-color="#d3e90a"/><stop offset=".713" stop-color="#bbed06"/><stop offset=".77" stop-color="#81f200"/><stop offset=".81" stop-color="#70f300"/><stop offset=".851" stop-color="#74f300"/><stop offset=".891" stop-color="#6bf300"/><stop offset=".977" stop-color="#6af300"/><stop offset="1" stop-color="#66f400"/></linearGradient><linearGradient id="g190"><stop offset="0" stop-color="#f8cc15"/><stop offset=".132" stop-color="#f8d712"/><stop offset=".264" stop-color="#f2e20f"/><stop offset=".374" stop-color="#dce70b"/><stop offset=".42" stop-color="#88f100"/><stop offset=".443" stop-color="#65f400"/><stop offset=".506" stop-color="#60f400"/><stop offset=".621" stop-color="#4cf600"/><stop offset=".649" stop-color="#4af600"/><stop offset=".678" stop-color="#3ff700"/><stop offset=".718" stop-color="#39f700"/><stop offset=".753" stop-color="#34f800"/><stop offset=".851" stop-color="#32f800"/><stop offset=".902" stop-color="#2bf802"/><stop offset=".977" stop-color="#33f800"/><stop offset="1" stop-color="#2ef801"/></linearGradient><linearGradient id="g191"><stop offset="0" stop-color="#5cf400"/><stop offset=".098" stop-color="#53f500"/><stop offset=".178" stop-color="#54f500"/><stop offset=".259" stop-color="#53f500"/><stop offset=".356" stop-color="#45f600"/><stop offset=".379" stop-color="#43f600"/><stop offset=".414" stop-color="#30f800"/><stop offset=".494" stop-color="#2af802"/><stop offset=".592" stop-color="#29f802"/><stop offset=".644" stop-color="#26f803"/><stop offset=".678" stop-color="#1df805"/><stop offset=".828" stop-color="#2cf801"/><stop offset=".879" stop-color="#27f803"/><stop offset=".989" stop-color="#25f803"/><stop offset="1" stop-color="#22f804"/></linearGradient><linearGradient id="g192"><stop offset="0" stop-color="#2ef801"/><stop offset=".218" stop-color="#34f800"/><stop offset=".247" stop-color="#3af700"/><stop offset=".293" stop-color="#35f800"/><stop offset=".351" stop-color="#2af802"/><stop offset=".397" stop-color="#32f800"/><stop offset=".454" stop-color="#32f800"/><stop offset=".54" stop-color="#30f800"/><stop offset=".649" stop-color="#2af802"/><stop offset=".69" stop-color="#25f803"/><stop offset=".73" stop-color="#2ef801"/><stop offset=".77" stop-color="#2bf801"/><stop offset=".839" stop-color="#34f800"/><stop offset=".879" stop-color="#32f800"/><stop offset="1" stop-color="#28f802"/></linearGradient><linearGradient id="g193"><stop offset="0" stop-color="#34f800"/><stop offset=".069" stop-color="#3df700"/><stop offset=".155" stop-color="#35f800"/><stop offset=".201" stop-color="#38f700"/><stop offset=".333" stop-color="#32f800"/><stop offset=".425" stop-color="#38f700"/><stop offset=".54" stop-color="#3af700"/><stop offset=".638" stop-color="#38f700"/><stop offset=".724" stop-color="#33f800"/><stop offset=".77" stop-color="#30f800"/><stop offset=".845" stop-color="#3bf700"/><stop offset=".885" stop-color="#35f800"/><stop offset=".983" stop-color="#32f800"/><stop offset="1" stop-color="#2ff800"/></linearGradient><linearGradient id="g194"><stop offset="0" stop-color="#2ff800"/><stop offset=".126" stop-color="#30f800"/><stop offset=".374" stop-color="#29f802"/><stop offset=".42" stop-color="#34f800"/><stop offset=".592" stop-color="#2ef801"/><stop offset=".69" stop-color="#2ff800"/><stop offset=".776" stop-color="#2df801"/><stop offset=".845" stop-color="#2cf801"/><stop offset=".908" stop-color="#31f800"/><stop offset=".966" stop-color="#2df801"/><stop offset="1" stop-color="#23f804"/></linearGradient><linearGradient id="g195"><stop offset="0" stop-color="#56f500"/><stop offset=".046" stop-color="#4ef600"/><stop offset=".172" stop-color="#49f600"/><stop offset=".299" stop-color="#34f800"/><stop offset=".368" stop-color="#23f804"/><stop offset=".437" stop-color="#27f803"/><stop offset=".5" stop-color="#23f804"/><stop offset=".586" stop-color="#26f803"/><stop offset=".816" stop-color="#24f804"/><stop offset=".92" stop-color="#29f802"/><stop offset=".96" stop-color="#24f803"/><stop offset="1" stop-color="#21f804"/></linearGradient><linearGradient id="g196"><stop offset="0" stop-color="#e4e50d"/><stop offset=".086" stop-color="#dce70b"/><stop offset=".155" stop-color="#dce70b"/><stop offset=".184" stop-color="#d7e80b"/><stop offset=".27" stop-color="#c7ec08"/><stop offset=".305" stop-color="#a4ef02"/><stop offset=".345" stop-color="#5ef400"/><stop offset=".391" stop-color="#52f500"/><stop offset=".443" stop-color="#50f500"/><stop offset=".506" stop-color="#4ff500"/><stop offset=".586" stop-color="#4ff500"/><stop offset=".701" stop-color="#51f500"/><stop offset=".793" stop-color="#4bf600"/><stop offset=".828" stop-color="#39f700"/><stop offset=".977" stop-color="#39f700"/><stop offset="1" stop-color="#3ef700"/></linearGradient><linearGradient id="g197"><stop offset="0" stop-color="#f8d613"/><stop offset=".167" stop-color="#f8d513"/><stop offset=".276" stop-color="#f8da11"/><stop offset=".328" stop-color="#e2e50c"/><stop offset=".362" stop-color="#d4e90a"/><stop offset=".425" stop-color="#d0ea09"/><stop offset=".46" stop-color="#cbeb09"/><stop offset=".506" stop-color="#d2ea0a"/><stop offset=".557" stop-color="#c8ec08"/><stop offset=".621" stop-color="#d3e90a"/><stop offset=".73" stop-color="#cceb09"/><stop offset=".782" stop-color="#c7ec08"/><stop offset=".833" stop-color="#97f000"/><stop offset=".868" stop-color="#85f100"/><stop offset=".925" stop-color="#76f200"/><stop offset=".977" stop-color="#73f300"/><stop offset="1" stop-color="#77f200"/></linearGradient><linearGradient id="g198"><stop offset="0" stop-color="#f8d712"/><stop offset=".121" stop-color="#f8d712"/><stop offset=".259" stop-color="#f8d712"/><stop offset=".374" stop-color="#ebe30e"/><stop offset=".425" stop-color="#e9e40e"/><stop offset=".466" stop-color="#e6e40d"/><stop offset=".5" stop-color="#e8e40d"/><stop offset=".546" stop-color="#e3e50c"/><stop offset=".609" stop-color="#ece30e"/><stop offset=".782" stop-color="#dee60c"/><stop offset=".868" stop-color="#90f100"/><stop offset=".92" stop-color="#87f100"/><stop offset=".977" stop-color="#7cf200"/><stop offset="1" stop-color="#81f200"/></linearGradient><linearGradient id="g199"><stop offset="0" stop-color="#f8d413"/><stop offset=".253" stop-color="#f8da11"/><stop offset=".276" stop-color="#f4e10f"/><stop offset=".328" stop-color="#b5ee05"/><stop offset=".529" stop-color="#a1ef01"/><stop offset=".603" stop-color="#a4ef02"/><stop offset=".695" stop-color="#98f000"/><stop offset=".793" stop-color="#8ff100"/><stop offset=".874" stop-color="#56f500"/><stop offset="1" stop-color="#51f500"/></linearGradient><linearGradient id="g200"><stop offset="0" stop-color="#d0ea09"/><stop offset=".063" stop-color="#cceb09"/><stop offset=".241" stop-color="#bfed07"/><stop offset=".264" stop-color="#a8ef03"/><stop offset=".305" stop-color="#4af600"/><stop offset=".328" stop-color="#34f800"/><stop offset=".391" stop-color="#3af700"/><stop offset=".5" stop-color="#2cf801"/><stop offset=".598" stop-color="#31f800"/><stop offset=".695" stop-color="#28f802"/><stop offset=".828" stop-color="#2bf802"/><stop offset=".989" stop-color="#24f803"/><stop offset="1" stop-color="#25f803"/></linearGradient><linearGradient id="g201"><stop offset="0" stop-color="#3ef700"/><stop offset=".086" stop-color="#3ef700"/><stop offset=".126" stop-color="#3cf700"/><stop offset=".328" stop-color="#22f804"/><stop offset=".356" stop-color="#1ff805"/><stop offset=".397" stop-color="#29f802"/><stop offset=".489" stop-color="#25f803"/><stop offset=".552" stop-color="#29f802"/><stop offset=".736" stop-color="#20f805"/><stop offset=".833" stop-color="#28f802"/><stop offset=".977" stop-color="#1ff805"/><stop offset="1" stop-color="#24f803"/></linearGradient><linearGradient id="g202"><stop offset="0" stop-color="#2cf801"/><stop offset=".063" stop-color="#1df805"/><stop offset=".109" stop-color="#27f803"/><stop offset=".236" stop-color="#1ef805"/><stop offset=".31" stop-color="#29f802"/><stop offset=".356" stop-color="#21f804"/><stop offset=".42" stop-color="#26f803"/><stop offset=".489" stop-color="#24f803"/><stop offset=".54" stop-color="#2bf801"/><stop offset=".598" stop-color="#24f804"/><stop offset=".667" stop-color="#25f803"/><stop offset=".713" stop-color="#21f804"/><stop offset=".776" stop-color="#2af802"/><stop offset=".885" stop-color="#29f802"/><stop offset=".983" stop-color="#20f805"/><stop offset="1" stop-color="#24f804"/></linearGradient><linearGradient id="g203"><stop offset="0" stop-color="#27f803"/><stop offset=".109" stop-color="#1cf806"/><stop offset=".19" stop-color="#23f804"/><stop offset=".236" stop-color="#1cf806"/><stop offset=".31" stop-color="#25f803"/><stop offset=".345" stop-color="#21f804"/><stop offset=".391" stop-color="#29f802"/><stop offset=".494" stop-color="#27f803"/><stop offset=".592" stop-color="#20f805"/><stop offset=".661" stop-color="#25f803"/><stop offset=".724" stop-color="#24f803"/><stop offset=".816" stop-color="#21f804"/><stop offset=".943" stop-color="#27f803"/><stop offset=".994" stop-color="#21f804"/><stop offset="1" stop-color="#21f804"/></linearGradient><linearGradient id="g204"><stop offset="0" stop-color="#21f804"/><stop offset=".08" stop-color="#24f803"/><stop offset=".138" stop-color="#1ff805"/><stop offset=".195" stop-color="#25f803"/><stop offset=".253" stop-color="#20f805"/><stop offset=".31" stop-color="#25f803"/><stop offset=".356" stop-color="#24f803"/><stop offset=".489" stop-color="#25f803"/><stop offset=".54" stop-color="#21f804"/><stop offset=".644" stop-color="#26f803"/><stop offset=".879" stop-color="#25f803"/><stop offset=".948" stop-color="#24f804"/><stop offset="1" stop-color="#24f803"/></linearGradient><linearGradient id="g205"><stop offset="0" stop-color="#21f804"/><stop offset=".075" stop-color="#27f803"/><stop offset=".149" stop-color="#22f804"/><stop offset=".207" stop-color="#26f803"/><stop offset=".264" stop-color="#21f804"/><stop offset=".454" stop-color="#25f803"/><stop offset=".546" stop-color="#27f803"/><stop offset=".615" stop-color="#26f803"/><stop offset=".69" stop-color="#25f803"/><stop offset=".885" stop-color="#26f803"/><stop offset=".943" stop-color="#23f804"/><stop offset=".989" stop-color="#21f804"/><stop offset="1" stop-color="#23f804"/></linearGradient><linearGradient id="g206"><stop offset="0" stop-color="#23f804"/><stop offset=".126" stop-color="#21f804"/><stop offset=".184" stop-color="#24f804"/><stop offset=".247" stop-color="#1df806"/><stop offset=".316" stop-color="#20f804"/><stop offset=".356" stop-color="#27f803"/><stop offset=".54" stop-color="#27f803"/><stop offset=".649" stop-color="#2af802"/><stop offset=".69" stop-color="#23f804"/><stop offset=".879" stop-color="#24f803"/><stop offset=".92" stop-color="#27f803"/><stop offset=".989" stop-color="#24f804"/><stop offset="1" stop-color="#25f803"/></linearGradient><linearGradient id="g207"><stop offset="0" stop-color="#27f803"/><stop offset=".057" stop-color="#21f804"/><stop offset=".115" stop-color="#21f804"/><stop offset=".218" stop-color="#21f804"/><stop offset=".316" stop-color="#1ff805"/><stop offset=".356" stop-color="#2af802"/><stop offset=".425" stop-color="#24f804"/><stop offset=".569" stop-color="#20f805"/><stop offset=".655" stop-color="#2df801"/><stop offset=".736" stop-color="#1ff805"/><stop offset=".879" stop-color="#28f802"/><stop offset="1" stop-color="#28f802"/></linearGradient><linearGradient id="g208"><stop offset="0" stop-color="#26f803"/><stop offset=".063" stop-color="#1ff805"/><stop offset=".23" stop-color="#27f802"/><stop offset=".322" stop-color="#20f805"/><stop offset=".368" stop-color="#26f803"/><stop offset=".494" stop-color="#22f804"/><stop offset=".598" stop-color="#23f804"/><stop offset=".701" stop-color="#2af802"/><stop offset=".77" stop-color="#21f804"/><stop offset=".833" stop-color="#22f804"/><stop offset=".908" stop-color="#24f803"/><stop offset="1" stop-color="#21f804"/></linearGradient><linearGradient id="g209"><stop offset="0" stop-color="#23f804"/><stop offset=".086" stop-color="#1ff805"/><stop offset=".23" stop-color="#27f802"/><stop offset=".333" stop-color="#1ff805"/><stop offset=".42" stop-color="#24f803"/><stop offset=".506" stop-color="#22f804"/><stop offset=".684" stop-color="#28f802"/><stop offset=".73" stop-color="#28f802"/><stop offset=".816" stop-color="#21f804"/><stop offset=".914" stop-color="#20f805"/><stop offset="1" stop-color="#20f805"/></linearGradient><linearGradient id="g210"><stop offset="0" stop-color="#1bf806"/><stop offset=".092" stop-color="#1ff805"/><stop offset=".155" stop-color="#28f802"/><stop offset=".201" stop-color="#28f802"/><stop offset=".345" stop-color="#24f804"/><stop offset=".557" stop-color="#24f803"/><stop offset=".661" stop-color="#23f804"/><stop offset=".764" stop-color="#27f802"/><stop offset=".931" stop-color="#1ff805"/><stop offset=".983" stop-color="#1df805"/><stop offset="1" stop-color="#1af806"/></linearGradient><linearGradient id="g211"><stop offset="0" stop-color="#1ff805"/><stop offset=".098" stop-color="#20f805"/><stop offset=".144" stop-color="#29f802"/><stop offset=".19" stop-color="#1ef805"/><stop offset=".236" stop-color="#29f802"/><stop offset=".316" stop-color="#25f803"/><stop offset=".466" stop-color="#1ff805"/><stop offset=".557" stop-color="#21f804"/><stop offset=".615" stop-color="#22f804"/><stop offset=".684" stop-color="#21f804"/><stop offset=".736" stop-color="#25f803"/><stop offset=".868" stop-color="#26f803"/><stop offset=".971" stop-color="#20f805"/><stop offset="1" stop-color="#1cf806"/></linearGradient><linearGradient id="g212"><stop offset="0" stop-color="#25f803"/><stop offset=".161" stop-color="#1ff805"/><stop offset=".213" stop-color="#20f804"/><stop offset=".299" stop-color="#29f802"/><stop offset=".425" stop-color="#23f804"/><stop offset=".5" stop-color="#20f804"/><stop offset=".626" stop-color="#22f804"/><stop offset=".695" stop-color="#25f803"/><stop offset=".839" stop-color="#26f803"/><stop offset=".937" stop-color="#25f803"/><stop offset=".989" stop-color="#20f804"/><stop offset="1" stop-color="#22f804"/></linearGradient><linearGradient id="g213"><stop offset="0" stop-color="#27f803"/><stop offset=".052" stop-color="#25f803"/><stop offset=".121" stop-color="#21f804"/><stop offset=".23" stop-color="#23f804"/><stop offset=".293" stop-color="#23f804"/><stop offset=".483" stop-color="#22f804"/><stop offset=".529" stop-color="#24f803"/><stop offset=".575" stop-color="#22f804"/><stop offset=".839" stop-color="#24f804"/><stop offset=".977" stop-color="#20f805"/><stop offset="1" stop-color="#26f803"/></linearGradient><linearGradient id="g214"><stop offset="0" stop-color="#2af802"/><stop offset=".057" stop-color="#29f802"/><stop offset=".109" stop-color="#20f805"/><stop offset=".144" stop-color="#1cf806"/><stop offset=".27" stop-color="#27f803"/><stop offset=".328" stop-color="#1df805"/><stop offset=".408" stop-color="#22f804"/><stop offset=".489" stop-color="#27f802"/><stop offset=".621" stop-color="#21f804"/><stop offset=".684" stop-color="#20f805"/><stop offset=".776" stop-color="#21f804"/><stop offset=".914" stop-color="#20f804"/><stop offset="1" stop-color="#22f804"/></linearGradient><linearGradient id="g215"><stop offset="0" stop-color="#2cf801"/><stop offset=".057" stop-color="#28f802"/><stop offset=".109" stop-color="#24f803"/><stop offset=".144" stop-color="#1df805"/><stop offset=".241" stop-color="#28f802"/><stop offset=".391" stop-color="#20f805"/><stop offset=".483" stop-color="#26f803"/><stop offset=".615" stop-color="#22f804"/><stop offset=".644" stop-color="#24f803"/><stop offset=".672" stop-color="#29f802"/><stop offset=".736" stop-color="#1bf806"/><stop offset=".805" stop-color="#25f803"/><stop offset=".891" stop-color="#27f803"/><stop offset=".943" stop-color="#1df805"/><stop offset=".989" stop-color="#25f803"/><stop offset="1" stop-color="#23f804"/></linearGradient></defs><rect x="749" y="581" width="348" height="9" fill="url(#g173)"/><rect x="749" y="589" width="348" height="9" fill="url(#g174)"/><rect x="749" y="597" width="348" height="9" fill="url(#g175)"/><rect x="749" y="605" width="348" height="9" fill="url(#g176)"/><rect x="749" y="613" width="348" height="9" fill="url(#g177)"/><rect x="749" y="621" width="348" height="9" fill="url(#g178)"/><rect x="749" y="629" width="348" height="9" fill="url(#g179)"/><rect x="749" y="637" width="348" height="9" fill="url(#g180)"/><rect x="749" y="645" width="348" height="9" fill="url(#g181)"/><rect x="749" y="653" width="348" height="9" fill="url(#g182)"/><rect x="749" y="661" width="348" height="9" fill="url(#g183)"/><rect x="749" y="669" width="348" height="9" fill="url(#g184)"/><rect x="749" y="677" width="348" height="9" fill="url(#g185)"/><rect x="749" y="685" width="348" height="9" fill="url(#g186)"/><rect x="749" y="693" width="348" height="9" fill="url(#g187)"/><rect x="749" y="701" width="348" height="9" fill="url(#g188)"/><rect x="749" y="709" width="348" height="9" fill="url(#g189)"/><rect x="749" y="717" width="348" height="9" fill="url(#g190)"/><rect x="749" y="725" width="348" height="9" fill="url(#g191)"/><rect x="749" y="733" width="348" height="9" fill="url(#g192)"/><rect x="749" y="741" width="348" height="9" fill="url(#g193)"/><rect x="749" y="749" width="348" height="9" fill="url(#g194)"/><rect x="749" y="757" width="348" height="9" fill="url(#g195)"/><rect x="749" y="765" width="348" height="9" fill="url(#g196)"/><rect x="749" y="773" width="348" height="9" fill="url(#g197)"/><rect x="749" y="781" width="348" height="9" fill="url(#g198)"/><rect x="749" y="789" width="348" height="9" fill="url(#g199)"/><rect x="749" y="797" width="348" height="9" fill="url(#g200)"/><rect x="749" y="805" width="348" height="9" fill="url(#g201)"/><rect x="749" y="813" width="348" height="9" fill="url(#g202)"/><rect x="749" y="821" width="348" height="9" fill="url(#g203)"/><rect x="749" y="829" width="348" height="9" fill="url(#g204)"/><rect x="749" y="837" width="348" height="9" fill="url(#g205)"/><rect x="749" y="845" width="348" height="9" fill="url(#g206)"/><rect x="749" y="853" width="348" height="9" fill="url(#g207)"/><rect x="749" y="861" width="348" height="9" fill="url(#g208)"/><rect x="749" y="869" width="348" height="9" fill="url(#g209)"/><rect x="749" y="877" width="348" height="9" fill="url(#g210)"/><rect x="749" y="885" width="348" height="9" fill="url(#g211)"/><rect x="749" y="893" width="348" height="9" fill="url(#g212)"/><rect x="749" y="901" width="348" height="9" fill="url(#g213)"/><rect x="749" y="909" width="348" height="9" fill="url(#g214)"/><rect x="749" y="917" width="348" height="9" fill="url(#g215)"/></g><g fill="none" stroke="#0a5a14" stroke-width="1.8" stroke-opacity="0.9" stroke-linejoin="round"><path d="M749.4,684.0 797.4,684.2 824.4,685.6 849.4,684.1 858.4,686.2 861.4,686.3 862.7,686.9 861.4,688.6 860.0,688.9 859.6,689.9 860.4,690.4 862.4,690.3 868.8,693.9 875.4,694.6 882.4,693.6 884.6,690.9 884.9,685.9 887.4,684.7 893.4,684.0 900.4,684.0 910.4,685.2 917.4,684.8 925.4,685.3 932.4,684.5 945.4,686.4 962.4,684.6 968.4,684.8 975.4,687.1 982.4,685.4 984.9,685.9 989.4,690.7 994.4,693.3 996.1,696.9 999.0,699.9 997.4,706.9 997.9,711.9 994.4,713.3 987.4,713.8 984.3,712.9 984.0,711.9 986.7,710.9 987.1,709.9 985.4,708.6 981.6,712.9 974.4,714.9 968.4,714.8 964.4,713.4 958.2,714.9 949.4,715.6 936.4,715.4 921.4,716.8 900.4,716.1 894.4,718.7 877.4,722.5 866.4,722.0 846.4,723.3 840.4,722.8 814.4,723.5 801.4,722.8 786.4,723.8 758.4,723.3 749.4,724.0"/><path d="M1001.4,689.9 997.4,689.5 993.4,686.9 993.9,685.9 997.4,685.1 1005.5,686.9 1003.4,689.5 1001.4,689.9"/><path d="M946.1,706.9 944.4,703.5 940.4,704.9 941.6,705.9 946.1,706.9"/><path d="M965.8,711.9 969.5,708.9 969.5,707.9 960.4,705.3 960.2,708.9 961.2,710.9 963.4,712.2 965.8,711.9"/><path d="M749.4,765.8 753.4,765.7 758.4,766.7 769.4,766.0 776.4,766.8 782.4,765.8 791.4,766.8 808.4,765.6 819.4,768.0 828.4,766.6 842.4,767.4 848.1,768.9 848.7,770.9 850.4,771.9 852.4,771.2 854.4,769.3 861.4,770.3 867.9,773.9 867.7,775.9 869.4,777.3 870.4,776.8 871.0,774.9 875.4,773.1 883.4,774.9 891.4,773.2 894.4,773.3 897.9,774.9 898.3,779.9 900.2,782.9 898.4,786.9 901.4,787.8 904.4,787.1 906.4,790.3 909.4,788.8 912.4,788.8 913.6,787.9 913.4,784.5 909.4,784.8 908.5,781.9 909.4,780.2 912.4,779.7 914.4,775.3 923.4,773.8 932.0,774.9 932.1,775.9 930.3,779.9 925.6,782.9 925.2,784.9 923.5,786.9 923.3,790.9 918.4,792.0 913.4,791.4 909.4,792.0 906.4,791.1 891.4,792.6 886.4,792.0 879.4,793.2 860.4,792.5 848.4,797.1 845.4,797.2 840.6,799.9 829.4,801.4 822.4,800.5 811.4,801.6 796.4,801.5 788.4,800.7 768.4,802.0 749.4,801.9"/><path d="M959.4,791.9 948.4,791.8 943.4,790.7 935.4,791.3 930.8,790.9 930.8,789.9 932.4,788.7 938.4,789.3 939.4,788.8 941.3,783.9 941.0,780.9 946.4,776.0 949.4,776.3 952.0,774.9 958.4,773.8 964.4,774.2 970.4,773.5 980.4,774.4 990.4,773.5 994.6,773.9 995.0,774.9 989.4,777.4 987.4,777.6 987.2,778.9 989.4,779.6 992.4,782.8 994.4,783.6 1001.4,780.7 1001.9,776.9 1005.3,773.9 1013.9,773.9 1015.6,775.9 1017.4,776.5 1019.6,774.9 1021.4,774.7 1021.0,777.9 1022.4,781.0 1029.4,784.7 1030.1,785.9 1028.4,790.2 1019.3,789.9 1017.0,786.9 1017.4,785.8 1019.4,785.8 1020.3,784.9 1019.7,783.9 1015.4,780.4 1012.4,780.1 1009.8,781.9 1012.7,787.9 1012.4,789.9 1006.4,791.0 994.4,791.3 991.4,790.3 990.6,787.9 988.4,787.1 987.0,787.9 986.9,789.9 985.4,790.9 980.4,791.3 974.4,790.3 966.4,790.3 959.4,791.9"/><path d="M978.4,781.9 978.8,780.9 977.4,779.2 976.4,778.9 975.4,779.8 975.4,781.9 976.4,782.7 978.4,781.9"/><path d="M882.0,783.9 882.4,782.9 881.6,781.9 878.4,781.2 878.4,784.0 880.4,784.6 882.0,783.9"/><path d="M975.3,788.9 976.5,786.9 975.4,785.5 973.4,784.9 972.2,785.9 971.7,787.9 973.4,789.3 975.3,788.9"/><path d="M774.2,789.9 773.7,787.9 772.4,787.7 772.4,790.5 774.2,789.9"/></g></g><g clip-path="url(#c4)"><g filter="url(#b_col)"><defs><linearGradient id="g302" x2="0" y2="1"><stop offset="0" stop-color="#08ff30"/><stop offset=".132" stop-color="#06ff34"/><stop offset=".247" stop-color="#0aff2c"/><stop offset=".328" stop-color="#08ff30"/><stop offset=".362" stop-color="#02ff3c"/><stop offset=".42" stop-color="#07ff32"/><stop offset=".557" stop-color="#06ff34"/><stop offset=".667" stop-color="#08ff2f"/><stop offset=".736" stop-color="#05ff36"/><stop offset=".839" stop-color="#09ff2f"/><stop offset=".966" stop-color="#03ff3a"/><stop offset="1" stop-color="#06ff33"/></linearGradient><linearGradient id="g303" x2="0" y2="1"><stop offset="0" stop-color="#05ff36"/><stop offset=".126" stop-color="#05ff36"/><stop offset=".19" stop-color="#06ff35"/><stop offset=".276" stop-color="#08ff31"/><stop offset=".402" stop-color="#06ff34"/><stop offset=".511" stop-color="#07ff32"/><stop offset=".77" stop-color="#05ff36"/><stop offset=".856" stop-color="#08ff31"/><stop offset="1" stop-color="#00ff40"/></linearGradient><linearGradient id="g304" x2="0" y2="1"><stop offset="0" stop-color="#02ff3d"/><stop offset=".075" stop-color="#06ff35"/><stop offset=".149" stop-color="#06ff34"/><stop offset=".218" stop-color="#04ff38"/><stop offset=".316" stop-color="#04ff39"/><stop offset=".362" stop-color="#06ff33"/><stop offset=".402" stop-color="#06ff34"/><stop offset=".448" stop-color="#08ff30"/><stop offset=".644" stop-color="#05ff37"/><stop offset=".713" stop-color="#04ff38"/><stop offset=".891" stop-color="#04ff38"/><stop offset=".989" stop-color="#02ff3c"/><stop offset="1" stop-color="#01ff3e"/></linearGradient><linearGradient id="g305" x2="0" y2="1"><stop offset="0" stop-color="#01ff3e"/><stop offset=".063" stop-color="#05ff36"/><stop offset=".144" stop-color="#06ff35"/><stop offset=".213" stop-color="#03ff3a"/><stop offset=".31" stop-color="#01ff3e"/><stop offset=".443" stop-color="#05ff36"/><stop offset=".58" stop-color="#02ff3c"/><stop offset=".782" stop-color="#03ff3a"/><stop offset=".931" stop-color="#04ff39"/><stop offset="1" stop-color="#02ff3b"/></linearGradient><linearGradient id="g306" x2="0" y2="1"><stop offset="0" stop-color="#02ff3c"/><stop offset=".115" stop-color="#02ff3c"/><stop offset=".224" stop-color="#03ff3a"/><stop offset=".287" stop-color="#00ff43"/><stop offset=".437" stop-color="#03ff3b"/><stop offset=".471" stop-color="#00ff40"/><stop offset=".552" stop-color="#00ff3f"/><stop offset=".678" stop-color="#03ff3a"/><stop offset=".839" stop-color="#00ff40"/><stop offset=".885" stop-color="#02ff3d"/><stop offset=".948" stop-color="#01ff3f"/><stop offset="1" stop-color="#06ff34"/></linearGradient><linearGradient id="g307" x2="0" y2="1"><stop offset="0" stop-color="#00ff41"/><stop offset=".155" stop-color="#03ff3b"/><stop offset=".23" stop-color="#01ff3f"/><stop offset=".316" stop-color="#00ff42"/><stop offset=".374" stop-color="#00ff3f"/><stop offset=".443" stop-color="#00ff42"/><stop offset=".471" stop-color="#00ff41"/><stop offset=".54" stop-color="#00ff3f"/><stop offset=".592" stop-color="#00ff42"/><stop offset=".655" stop-color="#03ff3a"/><stop offset=".776" stop-color="#00ff44"/><stop offset=".856" stop-color="#01ff3f"/><stop offset=".897" stop-color="#01ff3e"/><stop offset=".96" stop-color="#00ff42"/><stop offset="1" stop-color="#05ff36"/></linearGradient><linearGradient id="g308" x2="0" y2="1"><stop offset="0" stop-color="#00ff4a"/><stop offset=".057" stop-color="#00ff46"/><stop offset=".241" stop-color="#00ff42"/><stop offset=".316" stop-color="#00ff41"/><stop offset=".431" stop-color="#00ff42"/><stop offset=".506" stop-color="#00ff45"/><stop offset=".615" stop-color="#00ff44"/><stop offset=".667" stop-color="#00ff3f"/><stop offset=".787" stop-color="#00ff43"/><stop offset=".902" stop-color="#00ff42"/><stop offset="1" stop-color="#00ff46"/></linearGradient><linearGradient id="g309" x2="0" y2="1"><stop offset="0" stop-color="#00ff48"/><stop offset=".046" stop-color="#00ff46"/><stop offset=".086" stop-color="#00ff4a"/><stop offset=".253" stop-color="#00ff45"/><stop offset=".31" stop-color="#00ff47"/><stop offset=".42" stop-color="#00ff42"/><stop offset=".477" stop-color="#00ff4b"/><stop offset=".644" stop-color="#00ff47"/><stop offset=".96" stop-color="#00ff48"/><stop offset="1" stop-color="#00ff47"/></linearGradient><linearGradient id="g310" x2="0" y2="1"><stop offset="0" stop-color="#00ff43"/><stop offset=".046" stop-color="#00ff48"/><stop offset=".08" stop-color="#00ff51"/><stop offset=".126" stop-color="#00ff4b"/><stop offset=".264" stop-color="#00ff4c"/><stop offset=".356" stop-color="#00ff47"/><stop offset=".477" stop-color="#00ff47"/><stop offset=".517" stop-color="#00ff4c"/><stop offset=".563" stop-color="#00ff4b"/><stop offset=".684" stop-color="#00ff45"/><stop offset=".908" stop-color="#00ff4a"/><stop offset="1" stop-color="#00ff45"/></linearGradient><linearGradient id="g311" x2="0" y2="1"><stop offset="0" stop-color="#00ff4c"/><stop offset=".253" stop-color="#00ff52"/><stop offset=".293" stop-color="#00ff52"/><stop offset=".402" stop-color="#00ff4a"/><stop offset=".557" stop-color="#00ff51"/><stop offset=".592" stop-color="#00ff4d"/><stop offset=".764" stop-color="#00ff49"/><stop offset=".845" stop-color="#00ff4e"/><stop offset=".897" stop-color="#00ff50"/><stop offset="1" stop-color="#00ff49"/></linearGradient><linearGradient id="g312" x2="0" y2="1"><stop offset="0" stop-color="#00ff5c"/><stop offset=".144" stop-color="#00ff55"/><stop offset=".247" stop-color="#00ff56"/><stop offset=".31" stop-color="#00ff57"/><stop offset=".402" stop-color="#00ff51"/><stop offset=".437" stop-color="#00ff51"/><stop offset=".552" stop-color="#00ff57"/><stop offset=".592" stop-color="#00ff54"/><stop offset=".799" stop-color="#00ff54"/><stop offset=".845" stop-color="#00ff5a"/><stop offset="1" stop-color="#00ff55"/></linearGradient><linearGradient id="g313" x2="0" y2="1"><stop offset="0" stop-color="#00ff6a"/><stop offset=".213" stop-color="#00ff5d"/><stop offset=".316" stop-color="#00ff5e"/><stop offset=".385" stop-color="#00ff5d"/><stop offset=".437" stop-color="#00ff62"/><stop offset=".661" stop-color="#00ff5c"/><stop offset=".787" stop-color="#00ff62"/><stop offset=".828" stop-color="#00ff64"/><stop offset=".902" stop-color="#00ff5e"/><stop offset=".931" stop-color="#00ff61"/><stop offset=".983" stop-color="#00ff5b"/><stop offset="1" stop-color="#00ff5f"/></linearGradient><linearGradient id="g314" x2="0" y2="1"><stop offset="0" stop-color="#00ff70"/><stop offset=".063" stop-color="#00ff6d"/><stop offset=".218" stop-color="#00ff68"/><stop offset=".316" stop-color="#00ff66"/><stop offset=".379" stop-color="#00ff69"/><stop offset=".431" stop-color="#00ff6e"/><stop offset=".511" stop-color="#00ff66"/><stop offset=".557" stop-color="#00ff6c"/><stop offset=".586" stop-color="#00ff64"/><stop offset=".793" stop-color="#00ff6b"/><stop offset=".943" stop-color="#00ff68"/><stop offset="1" stop-color="#00ff62"/></linearGradient><linearGradient id="g315" x2="0" y2="1"><stop offset="0" stop-color="#00ff75"/><stop offset=".075" stop-color="#00ff75"/><stop offset=".121" stop-color="#00ff7b"/><stop offset=".161" stop-color="#00ff71"/><stop offset=".207" stop-color="#00ff73"/><stop offset=".339" stop-color="#00ff77"/><stop offset=".402" stop-color="#00ff77"/><stop offset=".471" stop-color="#00ff77"/><stop offset=".511" stop-color="#00ff75"/><stop offset=".569" stop-color="#00ff78"/><stop offset=".724" stop-color="#00ff70"/><stop offset=".81" stop-color="#00ff7a"/><stop offset=".868" stop-color="#00ff75"/><stop offset="1" stop-color="#00ff72"/></linearGradient><linearGradient id="g316" x2="0" y2="1"><stop offset="0" stop-color="#00ff7f"/><stop offset=".132" stop-color="#00ff83"/><stop offset=".241" stop-color="#00ff82"/><stop offset=".282" stop-color="#00ff7e"/><stop offset=".391" stop-color="#00ff85"/><stop offset=".431" stop-color="#00ff7d"/><stop offset=".494" stop-color="#00ff82"/><stop offset=".638" stop-color="#00ff7e"/><stop offset=".776" stop-color="#00ff80"/><stop offset=".816" stop-color="#00ff8a"/><stop offset=".891" stop-color="#00ff80"/><stop offset="1" stop-color="#00ff7b"/></linearGradient><linearGradient id="g317" x2="0" y2="1"><stop offset="0" stop-color="#00ff87"/><stop offset=".149" stop-color="#00ff8e"/><stop offset=".201" stop-color="#00ff8a"/><stop offset=".236" stop-color="#00ff95"/><stop offset=".282" stop-color="#00ff82"/><stop offset=".368" stop-color="#00ff8c"/><stop offset=".563" stop-color="#00ff8c"/><stop offset=".747" stop-color="#00ff87"/><stop offset=".833" stop-color="#00ff91"/><stop offset=".891" stop-color="#00ff86"/><stop offset="1" stop-color="#00ff8e"/></linearGradient><linearGradient id="g318" x2="0" y2="1"><stop offset="0" stop-color="#00ff93"/><stop offset=".052" stop-color="#00ff91"/><stop offset=".144" stop-color="#00ff9b"/><stop offset=".201" stop-color="#00ff99"/><stop offset=".247" stop-color="#00ff9e"/><stop offset=".287" stop-color="#00ff92"/><stop offset=".46" stop-color="#00ff96"/><stop offset=".552" stop-color="#00ff90"/><stop offset=".695" stop-color="#00ff95"/><stop offset=".799" stop-color="#00ff96"/><stop offset=".92" stop-color="#00ff93"/><stop offset="1" stop-color="#00ff99"/></linearGradient><linearGradient id="g319" x2="0" y2="1"><stop offset="0" stop-color="#00ff9e"/><stop offset=".052" stop-color="#00ff9a"/><stop offset=".126" stop-color="#00ffa5"/><stop offset=".414" stop-color="#00ffa0"/><stop offset=".489" stop-color="#00ffa3"/><stop offset=".557" stop-color="#00ff9c"/><stop offset=".626" stop-color="#00ff9c"/><stop offset=".73" stop-color="#00ff9f"/><stop offset=".897" stop-color="#00ff9c"/><stop offset="1" stop-color="#00ffa0"/></linearGradient><linearGradient id="g320" x2="0" y2="1"><stop offset="0" stop-color="#00ffa3"/><stop offset=".086" stop-color="#00ffa9"/><stop offset=".391" stop-color="#00ffac"/><stop offset=".448" stop-color="#00ffae"/><stop offset=".483" stop-color="#00ffb0"/><stop offset=".517" stop-color="#00ffa6"/><stop offset=".552" stop-color="#00ffac"/><stop offset=".598" stop-color="#00ffa8"/><stop offset=".69" stop-color="#00ffa6"/><stop offset=".741" stop-color="#00ffab"/><stop offset=".839" stop-color="#00ffaa"/><stop offset=".925" stop-color="#00ffa7"/><stop offset="1" stop-color="#00ffad"/></linearGradient><linearGradient id="g321" x2="0" y2="1"><stop offset="0" stop-color="#00ffb1"/><stop offset=".115" stop-color="#00ffb7"/><stop offset=".155" stop-color="#00ffb7"/><stop offset=".316" stop-color="#00ffb7"/><stop offset=".483" stop-color="#00ffb4"/><stop offset=".517" stop-color="#00ffab"/><stop offset=".552" stop-color="#00ffb5"/><stop offset=".592" stop-color="#00ffb8"/><stop offset=".776" stop-color="#00ffb6"/><stop offset=".845" stop-color="#00ffb7"/><stop offset=".891" stop-color="#00ffa9"/><stop offset=".943" stop-color="#00ffb7"/><stop offset="1" stop-color="#00ffb2"/></linearGradient><linearGradient id="g322" x2="0" y2="1"><stop offset="0" stop-color="#00ffbf"/><stop offset=".126" stop-color="#00ffc2"/><stop offset=".23" stop-color="#00ffc9"/><stop offset=".287" stop-color="#00ffc6"/><stop offset=".431" stop-color="#00ffc1"/><stop offset=".483" stop-color="#00ffc4"/><stop offset=".511" stop-color="#00ffbb"/><stop offset=".552" stop-color="#00ffc1"/><stop offset=".603" stop-color="#00ffc1"/><stop offset=".644" stop-color="#00ffc9"/><stop offset=".782" stop-color="#00ffbd"/><stop offset=".822" stop-color="#00ffc6"/><stop offset=".885" stop-color="#00ffbb"/><stop offset=".937" stop-color="#00ffc0"/><stop offset="1" stop-color="#00ffb9"/></linearGradient><linearGradient id="g323" x2="0" y2="1"><stop offset="0" stop-color="#00ffd0"/><stop offset=".109" stop-color="#00ffcf"/><stop offset=".155" stop-color="#00ffd0"/><stop offset=".224" stop-color="#00fed6"/><stop offset=".259" stop-color="#00ffcf"/><stop offset=".322" stop-color="#00fed2"/><stop offset=".356" stop-color="#00ffcd"/><stop offset=".557" stop-color="#00ffca"/><stop offset=".609" stop-color="#00ffc8"/><stop offset=".649" stop-color="#00fed5"/><stop offset=".69" stop-color="#00ffcb"/><stop offset=".741" stop-color="#00ffcc"/><stop offset=".787" stop-color="#00ffc9"/><stop offset=".845" stop-color="#00ffcf"/><stop offset=".885" stop-color="#00ffcd"/><stop offset=".925" stop-color="#00ffd1"/><stop offset=".977" stop-color="#00ffc5"/><stop offset="1" stop-color="#00ffc8"/></linearGradient><linearGradient id="g324" x2="0" y2="1"><stop offset="0" stop-color="#00fdd9"/><stop offset=".109" stop-color="#00fdd8"/><stop offset=".167" stop-color="#00fcdd"/><stop offset=".218" stop-color="#00fce0"/><stop offset=".253" stop-color="#00fdd7"/><stop offset=".31" stop-color="#00fcdd"/><stop offset=".368" stop-color="#00fdd8"/><stop offset=".54" stop-color="#00fed3"/><stop offset=".638" stop-color="#00fcdb"/><stop offset=".782" stop-color="#00fed5"/><stop offset=".851" stop-color="#00fdd9"/><stop offset=".891" stop-color="#00fdd9"/><stop offset=".931" stop-color="#00fdd9"/><stop offset="1" stop-color="#00ffd2"/></linearGradient><linearGradient id="g325" x2="0" y2="1"><stop offset="0" stop-color="#00fbe0"/><stop offset=".155" stop-color="#00fae5"/><stop offset=".19" stop-color="#00fae8"/><stop offset=".351" stop-color="#00fae6"/><stop offset=".443" stop-color="#00fcdf"/><stop offset=".529" stop-color="#00fbe0"/><stop offset=".569" stop-color="#00fcdb"/><stop offset=".695" stop-color="#00fcdf"/><stop offset=".891" stop-color="#00fbe1"/><stop offset="1" stop-color="#00fed5"/></linearGradient><linearGradient id="g326" x2="0" y2="1"><stop offset="0" stop-color="#00f9ed"/><stop offset=".063" stop-color="#00fae9"/><stop offset=".19" stop-color="#00f8ef"/><stop offset=".23" stop-color="#00f8f0"/><stop offset=".397" stop-color="#00f8ef"/><stop offset=".489" stop-color="#00fbe4"/><stop offset=".529" stop-color="#00f8ef"/><stop offset=".661" stop-color="#00fae6"/><stop offset="1" stop-color="#00fae5"/></linearGradient><linearGradient id="g327" x2="0" y2="1"><stop offset="0" stop-color="#00f8f0"/><stop offset=".259" stop-color="#03f4f5"/><stop offset=".339" stop-color="#03f3f6"/><stop offset=".638" stop-color="#00f8ef"/><stop offset=".81" stop-color="#00f9ed"/><stop offset="1" stop-color="#01f7f2"/></linearGradient><linearGradient id="g328" x2="0" y2="1"><stop offset="0" stop-color="#01f6f2"/><stop offset=".218" stop-color="#04f1f8"/><stop offset=".333" stop-color="#05f0fa"/><stop offset=".397" stop-color="#06f0fa"/><stop offset=".816" stop-color="#02f6f3"/><stop offset="1" stop-color="#04f2f7"/></linearGradient><linearGradient id="g329" x2="0" y2="1"><stop offset="0" stop-color="#06f0fb"/><stop offset=".236" stop-color="#06effb"/><stop offset=".431" stop-color="#06effb"/><stop offset=".977" stop-color="#03f3f6"/><stop offset="1" stop-color="#05f0fa"/></linearGradient><linearGradient id="g330" x2="0" y2="1"><stop offset="0" stop-color="#07edfe"/><stop offset=".264" stop-color="#0be8ff"/><stop offset=".517" stop-color="#06effc"/><stop offset="1" stop-color="#05f1f9"/></linearGradient><linearGradient id="g331" x2="0" y2="1"><stop offset="0" stop-color="#0ae9ff"/><stop offset=".218" stop-color="#11e1ff"/><stop offset=".506" stop-color="#0aeaff"/><stop offset=".695" stop-color="#07eefd"/><stop offset=".891" stop-color="#07eefd"/><stop offset="1" stop-color="#04f2f8"/></linearGradient><linearGradient id="g332" x2="0" y2="1"><stop offset="0" stop-color="#0fe4ff"/><stop offset=".218" stop-color="#16dbff"/><stop offset=".471" stop-color="#10e2ff"/><stop offset=".787" stop-color="#07edfd"/><stop offset=".971" stop-color="#06eefc"/><stop offset="1" stop-color="#06effb"/></linearGradient><linearGradient id="g333" x2="0" y2="1"><stop offset="0" stop-color="#14ddff"/><stop offset=".339" stop-color="#19d7ff"/><stop offset=".534" stop-color="#10e3ff"/><stop offset=".862" stop-color="#08ecff"/><stop offset="1" stop-color="#08ecff"/></linearGradient><linearGradient id="g334" x2="0" y2="1"><stop offset="0" stop-color="#19d6ff"/><stop offset=".333" stop-color="#1bd2ff"/><stop offset=".402" stop-color="#1ccfff"/><stop offset=".603" stop-color="#11e0ff"/><stop offset=".862" stop-color="#0be9ff"/><stop offset="1" stop-color="#0ae9ff"/></linearGradient><linearGradient id="g335" x2="0" y2="1"><stop offset="0" stop-color="#1bcfff"/><stop offset=".397" stop-color="#1dccff"/><stop offset=".598" stop-color="#13deff"/><stop offset=".822" stop-color="#0ee4ff"/><stop offset="1" stop-color="#0be8ff"/></linearGradient><linearGradient id="g336" x2="0" y2="1"><stop offset="0" stop-color="#1ccfff"/><stop offset=".316" stop-color="#21c2fe"/><stop offset=".661" stop-color="#11e0ff"/><stop offset=".862" stop-color="#0be8ff"/><stop offset="1" stop-color="#0ce6ff"/></linearGradient><linearGradient id="g337" x2="0" y2="1"><stop offset="0" stop-color="#1cceff"/><stop offset=".207" stop-color="#22bffd"/><stop offset=".391" stop-color="#1ec8ff"/><stop offset=".54" stop-color="#1ad2ff"/><stop offset=".776" stop-color="#11e0ff"/><stop offset=".891" stop-color="#0de5ff"/><stop offset="1" stop-color="#0ce7ff"/></linearGradient><linearGradient id="g338" x2="0" y2="1"><stop offset="0" stop-color="#1fc7ff"/><stop offset=".218" stop-color="#24bafb"/><stop offset=".391" stop-color="#21c3ff"/><stop offset=".678" stop-color="#18d8ff"/><stop offset=".782" stop-color="#12e0ff"/><stop offset=".902" stop-color="#10e2ff"/><stop offset="1" stop-color="#10e2ff"/></linearGradient><linearGradient id="g339" x2="0" y2="1"><stop offset="0" stop-color="#1fc6ff"/><stop offset=".195" stop-color="#25b7fb"/><stop offset=".397" stop-color="#22bffd"/><stop offset=".523" stop-color="#1ccdff"/><stop offset=".603" stop-color="#1ccfff"/><stop offset=".655" stop-color="#18d8ff"/><stop offset=".713" stop-color="#16daff"/><stop offset=".966" stop-color="#10e1ff"/><stop offset="1" stop-color="#13deff"/></linearGradient><linearGradient id="g340" x2="0" y2="1"><stop offset="0" stop-color="#1ec9ff"/><stop offset=".086" stop-color="#25b9fb"/><stop offset=".282" stop-color="#26b5fa"/><stop offset=".431" stop-color="#22bffd"/><stop offset=".557" stop-color="#1dcbff"/><stop offset=".603" stop-color="#1ec8ff"/><stop offset=".684" stop-color="#19d6ff"/><stop offset=".902" stop-color="#12dfff"/><stop offset="1" stop-color="#13dfff"/></linearGradient><linearGradient id="g341" x2="0" y2="1"><stop offset="0" stop-color="#20c5ff"/><stop offset=".109" stop-color="#26b6fa"/><stop offset=".322" stop-color="#27b2f9"/><stop offset=".563" stop-color="#1dcbff"/><stop offset=".609" stop-color="#1ec8ff"/><stop offset=".701" stop-color="#19d7ff"/><stop offset=".856" stop-color="#16daff"/><stop offset="1" stop-color="#11e1ff"/></linearGradient><linearGradient id="g342" x2="0" y2="1"><stop offset="0" stop-color="#22c0fd"/><stop offset=".149" stop-color="#27b3f9"/><stop offset=".316" stop-color="#28aff8"/><stop offset=".385" stop-color="#24bbfc"/><stop offset=".534" stop-color="#1fc7ff"/><stop offset=".684" stop-color="#18d7ff"/><stop offset=".989" stop-color="#13dfff"/><stop offset="1" stop-color="#11e1ff"/></linearGradient><linearGradient id="g343" x2="0" y2="1"><stop offset="0" stop-color="#24bafc"/><stop offset=".046" stop-color="#25b8fb"/><stop offset=".282" stop-color="#29adf7"/><stop offset=".523" stop-color="#20c3ff"/><stop offset=".747" stop-color="#19d6ff"/><stop offset=".989" stop-color="#14ddff"/><stop offset="1" stop-color="#12dfff"/></linearGradient><linearGradient id="g344" x2="0" y2="1"><stop offset="0" stop-color="#24bbfc"/><stop offset=".236" stop-color="#29abf7"/><stop offset=".414" stop-color="#25b7fa"/><stop offset=".632" stop-color="#1bd0ff"/><stop offset=".966" stop-color="#17d9ff"/><stop offset="1" stop-color="#14ddff"/></linearGradient></defs><rect x="44" y="943" width="9" height="348" fill="url(#g302)"/><rect x="52" y="943" width="9" height="348" fill="url(#g303)"/><rect x="60" y="943" width="9" height="348" fill="url(#g304)"/><rect x="68" y="943" width="9" height="348" fill="url(#g305)"/><rect x="76" y="943" width="9" height="348" fill="url(#g306)"/><rect x="84" y="943" width="9" height="348" fill="url(#g307)"/><rect x="92" y="943" width="9" height="348" fill="url(#g308)"/><rect x="100" y="943" width="9" height="348" fill="url(#g309)"/><rect x="108" y="943" width="9" height="348" fill="url(#g310)"/><rect x="116" y="943" width="9" height="348" fill="url(#g311)"/><rect x="124" y="943" width="9" height="348" fill="url(#g312)"/><rect x="132" y="943" width="9" height="348" fill="url(#g313)"/><rect x="140" y="943" width="9" height="348" fill="url(#g314)"/><rect x="148" y="943" width="9" height="348" fill="url(#g315)"/><rect x="156" y="943" width="9" height="348" fill="url(#g316)"/><rect x="164" y="943" width="9" height="348" fill="url(#g317)"/><rect x="172" y="943" width="9" height="348" fill="url(#g318)"/><rect x="180" y="943" width="9" height="348" fill="url(#g319)"/><rect x="188" y="943" width="9" height="348" fill="url(#g320)"/><rect x="196" y="943" width="9" height="348" fill="url(#g321)"/><rect x="204" y="943" width="9" height="348" fill="url(#g322)"/><rect x="212" y="943" width="9" height="348" fill="url(#g323)"/><rect x="220" y="943" width="9" height="348" fill="url(#g324)"/><rect x="228" y="943" width="9" height="348" fill="url(#g325)"/><rect x="236" y="943" width="9" height="348" fill="url(#g326)"/><rect x="244" y="943" width="9" height="348" fill="url(#g327)"/><rect x="252" y="943" width="9" height="348" fill="url(#g328)"/><rect x="260" y="943" width="9" height="348" fill="url(#g329)"/><rect x="268" y="943" width="9" height="348" fill="url(#g330)"/><rect x="276" y="943" width="9" height="348" fill="url(#g331)"/><rect x="284" y="943" width="9" height="348" fill="url(#g332)"/><rect x="292" y="943" width="9" height="348" fill="url(#g333)"/><rect x="300" y="943" width="9" height="348" fill="url(#g334)"/><rect x="308" y="943" width="9" height="348" fill="url(#g335)"/><rect x="316" y="943" width="9" height="348" fill="url(#g336)"/><rect x="324" y="943" width="9" height="348" fill="url(#g337)"/><rect x="332" y="943" width="9" height="348" fill="url(#g338)"/><rect x="340" y="943" width="9" height="348" fill="url(#g339)"/><rect x="348" y="943" width="9" height="348" fill="url(#g340)"/><rect x="356" y="943" width="9" height="348" fill="url(#g341)"/><rect x="364" y="943" width="9" height="348" fill="url(#g342)"/><rect x="372" y="943" width="9" height="348" fill="url(#g343)"/><rect x="380" y="943" width="9" height="348" fill="url(#g344)"/></g><g fill="none" stroke="#0a5a14" stroke-width="1.8" stroke-opacity="0.45" stroke-linejoin="round"><path d="M196.5,942.8 196.8,944.1 199.2,944.8 202.0,947.8 200.8,949.0 196.8,949.0 195.8,949.6 192.4,954.8 194.8,956.8 194.8,957.8 191.5,960.8 193.0,964.8 190.8,963.7 187.5,967.8 192.8,972.9 195.8,971.5 198.7,972.8 199.5,973.8 198.8,975.0 194.8,974.7 193.9,975.8 193.9,976.8 194.8,977.5 197.8,977.7 197.9,978.8 195.8,981.4 191.8,983.4 189.8,983.4 188.6,982.8 188.6,980.8 187.2,978.8 188.8,974.8 188.1,973.8 182.8,973.4 176.6,971.8 176.5,977.8 177.2,979.8 176.8,980.8 174.2,981.8 177.7,983.8 177.4,987.8 176.4,991.8 173.2,994.8 175.8,996.6 178.8,995.9 181.7,998.8 182.8,1001.6 187.8,999.2 188.8,1000.8 185.8,1006.0 182.4,1006.8 181.8,1010.4 178.6,1011.8 179.0,1013.8 177.3,1015.8 177.1,1018.8 172.8,1019.2 169.8,1018.1 167.4,1021.8 165.0,1022.8 163.2,1024.8 165.8,1026.0 168.8,1029.2 175.8,1030.1 176.6,1033.8 177.8,1034.9 182.8,1034.0 187.7,1035.8 188.2,1036.8 186.8,1039.7 183.8,1042.6 182.8,1038.8 180.8,1038.2 180.3,1039.8 180.8,1042.7 185.3,1045.8 184.8,1047.3 182.8,1047.1 181.5,1048.8 183.8,1049.2 185.2,1050.8 184.0,1054.8 185.1,1057.8 183.8,1058.8 185.2,1061.8 184.8,1062.9 182.8,1062.8 181.3,1061.8 181.3,1060.8 183.8,1058.8 181.8,1058.5 180.8,1059.4 180.3,1066.8 181.5,1068.8 181.3,1070.8 179.6,1074.8 176.8,1077.8 179.5,1082.8 177.7,1086.8 178.3,1087.8 179.8,1088.2 183.2,1086.8 182.5,1083.8 185.8,1080.2 185.6,1076.8 186.8,1076.4 190.8,1081.4 194.8,1081.2 195.9,1082.8 193.8,1083.2 191.8,1085.0 189.8,1083.9 185.8,1083.5 184.9,1083.8 185.4,1084.8 187.8,1086.8 191.8,1086.1 194.2,1086.8 195.3,1090.8 194.8,1091.5 191.1,1091.8 191.4,1094.8 190.0,1099.8 185.8,1100.3 183.8,1102.2 180.5,1106.8 180.8,1109.8 179.8,1110.7 178.3,1110.8 178.1,1111.8 179.8,1113.5 181.8,1113.2 185.8,1115.4 188.8,1113.8 191.4,1113.8 189.6,1117.8 192.8,1118.5 194.6,1117.8 192.2,1114.8 191.9,1113.8 193.2,1112.8 196.8,1112.4 199.8,1114.3 201.8,1111.8 204.8,1113.8 210.6,1115.8 211.5,1116.8 210.1,1117.8 212.0,1119.8 211.8,1121.0 205.8,1122.5 204.8,1121.8 204.8,1119.7 203.8,1120.0 202.4,1122.8 203.3,1126.8 200.8,1128.1 198.8,1130.7 196.1,1129.8 195.3,1127.8 198.8,1125.8 198.6,1124.8 196.2,1124.8 194.8,1127.5 191.8,1127.0 190.4,1124.8 192.1,1121.8 189.8,1120.2 186.8,1126.5 180.8,1127.5 179.7,1128.8 183.0,1131.8 182.6,1135.8 183.2,1136.8 185.8,1137.1 187.8,1136.4 190.2,1137.8 191.8,1137.8 193.4,1136.8 192.7,1134.8 193.8,1133.3 194.8,1133.8 194.0,1136.8 194.8,1139.2 198.8,1138.9 199.4,1139.8 198.9,1141.8 195.1,1142.8 195.7,1146.8 193.8,1149.8 191.8,1150.2 190.8,1153.6 189.4,1154.8 189.8,1158.8 191.8,1159.1 193.0,1160.8 191.8,1162.9 189.8,1163.7 187.1,1166.8 186.5,1168.8 190.3,1167.8 192.2,1164.8 194.8,1164.4 195.4,1162.8 194.6,1159.8 195.8,1158.9 197.1,1159.8 197.8,1161.8 196.2,1163.8 197.3,1166.8 194.9,1169.8 194.6,1174.8 195.2,1175.8 197.7,1176.8 196.1,1182.8 198.8,1185.2 198.8,1182.8 199.8,1182.0 202.0,1182.8 201.9,1185.8 202.8,1187.2 204.8,1187.9 205.7,1189.8 204.8,1190.9 198.8,1186.3 195.8,1188.0 193.8,1186.8 190.8,1182.8 182.8,1182.9 181.0,1180.8 181.9,1177.8 181.2,1176.8 179.8,1176.5 178.2,1177.8 179.3,1180.8 177.4,1183.8 180.6,1184.8 179.8,1187.8 180.3,1188.8 181.8,1190.3 183.8,1188.6 184.8,1188.2 185.3,1188.8 185.4,1189.8 183.7,1191.8 184.5,1195.8 183.4,1198.8 186.8,1198.9 189.6,1201.8 190.8,1206.8 188.6,1209.8 188.3,1211.8 190.8,1216.0 193.2,1209.8 193.8,1209.1 195.1,1209.8 194.1,1211.8 195.2,1214.8 192.9,1216.8 194.4,1220.8 194.0,1223.8 192.8,1224.4 189.8,1220.3 186.8,1220.7 184.8,1219.5 184.1,1220.8 185.0,1222.8 184.0,1224.8 186.8,1226.5 189.8,1225.8 194.8,1227.3 196.4,1228.8 196.9,1230.8 195.8,1233.1 190.8,1232.7 187.8,1235.2 185.8,1234.9 185.1,1236.8 186.7,1240.8 182.8,1243.5 179.8,1244.4 178.4,1245.8 178.5,1246.8 179.8,1247.7 181.8,1247.4 184.4,1244.8 186.8,1244.5 187.8,1242.8 193.8,1246.9 196.8,1243.9 202.8,1241.1 206.2,1242.8 205.8,1244.8 207.8,1245.6 209.9,1249.8 208.8,1252.2 204.8,1250.0 202.8,1250.5 201.8,1252.8 202.9,1255.8 200.8,1256.4 200.3,1257.8 203.8,1258.2 203.8,1260.1 198.8,1263.5 197.8,1263.8 195.8,1262.4 194.4,1262.8 189.8,1265.7 188.7,1267.8 188.8,1269.3 191.8,1268.9 193.8,1272.0 193.8,1273.9 191.5,1276.8 192.7,1277.8 192.8,1279.1 197.8,1274.9 199.8,1274.8 201.3,1275.8 197.8,1279.7 194.8,1280.2 191.8,1286.0 188.8,1280.7 186.5,1280.8 184.0,1283.8 183.8,1285.1 188.7,1290.8"/><path d="M187.0,962.8 187.8,958.7 186.7,958.8 184.7,962.8 185.8,963.6 187.0,962.8"/><path d="M214.8,967.9 213.8,968.7 211.6,965.8 215.8,963.8 214.8,967.9"/><path d="M203.8,968.2 201.5,967.8 201.1,966.8 201.8,965.6 202.8,965.1 205.4,965.8 205.7,966.8 203.8,968.2"/><path d="M177.3,968.8 177.5,967.8 175.8,967.0 173.8,967.3 171.8,966.6 170.9,967.8 173.8,969.1 177.3,968.8"/><path d="M194.8,998.1 191.4,997.8 193.2,992.8 192.8,990.8 190.8,991.6 187.8,991.2 185.8,992.4 185.2,991.8 186.3,989.8 185.8,989.0 182.8,989.2 182.1,987.8 182.6,986.8 185.8,985.5 189.8,986.3 191.8,988.6 195.8,985.8 198.8,985.8 199.8,984.2 201.6,988.8 201.4,990.8 200.8,992.0 197.8,991.6 196.1,992.8 197.1,996.8 194.8,998.1"/><path d="M168.4,990.8 165.8,987.8 166.8,986.9 168.4,986.8 168.1,985.8 166.8,985.4 165.9,985.8 166.7,986.8 165.8,987.7 164.2,987.8 163.9,989.8 165.8,991.1 168.4,990.8"/><path d="M207.8,993.1 206.1,992.8 206.1,991.8 210.1,989.8 213.1,989.8 213.2,990.8 212.1,991.8 209.8,991.5 207.8,993.1"/><path d="M188.8,997.4 185.8,997.1 182.8,994.8 178.8,995.7 177.8,993.8 179.8,993.4 181.8,990.7 182.8,990.9 186.0,993.8 188.7,994.8 189.3,995.8 188.8,997.4"/><path d="M198.8,1011.2 194.4,1008.8 194.5,1006.8 192.7,1004.8 194.8,1004.3 195.7,1000.8 196.8,1000.2 198.1,1000.8 198.9,1002.8 196.6,1005.8 197.8,1007.0 200.8,1007.7 201.2,1008.8 198.8,1011.2"/><path d="M177.8,1006.8 174.8,1005.0 173.5,1005.8 173.6,1006.8 174.8,1007.1 177.8,1006.8"/><path d="M187.8,1012.1 186.8,1012.6 184.8,1012.1 184.1,1010.8 186.8,1007.4 187.8,1007.5 187.8,1012.1"/><path d="M190.8,1024.0 188.8,1024.2 187.8,1022.8 188.5,1020.8 187.8,1014.8 188.8,1014.3 190.8,1015.9 190.1,1013.8 192.8,1010.6 193.8,1010.1 195.8,1011.5 197.8,1010.8 199.7,1013.8 194.3,1015.8 193.5,1016.8 194.0,1019.8 191.8,1021.5 190.8,1024.0"/><path d="M185.8,1024.0 184.7,1023.8 184.5,1021.8 187.7,1022.8 185.8,1024.0"/><path d="M190.8,1030.8 186.8,1030.0 182.8,1031.6 181.6,1029.8 181.6,1027.8 182.8,1027.1 188.8,1029.5 191.8,1028.5 192.2,1029.8 190.8,1030.8"/><path d="M200.8,1036.5 197.8,1036.3 197.5,1033.8 200.8,1033.1 201.6,1033.8 200.8,1036.5"/><path d="M195.8,1062.1 193.8,1060.6 193.2,1058.8 194.4,1057.8 195.3,1054.8 199.8,1051.5 201.7,1053.8 201.6,1054.8 198.6,1057.8 196.3,1058.8 196.6,1061.8 195.8,1062.1"/><path d="M202.8,1064.9 200.8,1064.6 198.7,1061.8 199.1,1060.8 203.2,1062.8 203.7,1063.8 202.8,1064.9"/><path d="M220.8,1066.3 216.8,1063.8 216.8,1061.8 218.8,1062.2 220.8,1063.8 220.8,1066.3"/><path d="M190.8,1070.0 189.8,1070.1 188.8,1068.8 188.5,1065.8 191.8,1062.9 192.8,1063.1 194.8,1064.3 195.4,1065.8 192.8,1067.0 190.8,1070.0"/><path d="M205.8,1070.0 203.9,1068.8 203.8,1067.7 204.8,1067.1 206.6,1067.8 206.8,1069.7 205.8,1070.0"/><path d="M208.8,1075.8 207.2,1073.8 208.0,1071.8 209.8,1071.2 210.3,1071.8 209.8,1074.8 208.8,1075.8"/><path d="M172.9,1079.8 174.6,1077.8 174.8,1073.9 173.8,1073.3 171.4,1079.8 171.8,1080.4 172.9,1079.8"/><path d="M208.8,1085.9 205.8,1085.7 205.2,1080.8 205.8,1079.1 209.0,1082.8 208.8,1085.9"/><path d="M204.8,1089.8 201.9,1089.8 200.8,1088.9 201.5,1084.8 202.9,1085.8 205.8,1086.0 206.1,1088.8 204.8,1089.8"/><path d="M219.8,1095.2 217.8,1095.5 217.1,1094.8 218.2,1092.8 219.8,1092.1 221.2,1093.8 219.8,1095.2"/><path d="M197.8,1110.0 197.8,1106.8 196.0,1103.8 197.8,1103.5 199.8,1101.8 200.5,1104.8 200.1,1107.8 197.8,1110.0"/><path d="M237.8,1105.1 235.8,1104.9 235.0,1103.8 238.8,1103.4 237.8,1105.1"/><path d="M214.8,1116.9 212.8,1117.2 211.9,1116.8 212.0,1115.8 213.8,1114.9 214.8,1115.2 214.8,1116.9"/><path d="M183.6,1123.8 184.8,1121.8 178.8,1120.0 178.6,1121.8 179.5,1123.8 181.8,1124.3 183.6,1123.8"/><path d="M229.8,1136.1 228.8,1136.3 227.5,1134.8 228.7,1133.8 227.8,1133.3 227.6,1131.8 228.8,1130.7 228.8,1133.8 230.1,1134.8 229.8,1136.1"/><path d="M164.1,1135.8 164.8,1133.8 163.8,1133.4 162.0,1134.8 164.1,1135.8"/><path d="M208.8,1142.9 203.8,1143.5 202.8,1140.8 199.2,1137.8 199.8,1135.3 203.8,1136.9 205.8,1139.0 209.3,1140.8 209.6,1141.8 208.8,1142.9"/><path d="M187.2,1141.8 188.3,1139.8 188.1,1138.8 186.8,1138.2 186.8,1142.4 187.2,1141.8"/><path d="M168.1,1144.8 166.8,1142.5 165.0,1144.8 166.8,1145.7 168.1,1144.8"/><path d="M217.8,1156.3 215.1,1154.8 212.8,1152.3 208.8,1152.1 206.5,1150.8 206.4,1149.8 208.8,1150.6 213.4,1147.8 211.8,1143.8 215.8,1145.3 216.8,1146.9 217.1,1148.8 215.0,1149.8 214.9,1150.8 218.1,1154.8 218.4,1155.8 217.8,1156.3"/><path d="M169.1,1163.8 170.8,1162.8 166.7,1162.8 166.8,1163.9 169.1,1163.8"/><path d="M182.1,1170.8 180.8,1166.2 180.2,1167.8 180.6,1170.8 182.1,1170.8"/><path d="M191.9,1173.8 193.1,1172.8 193.6,1170.8 191.8,1168.6 190.8,1169.1 189.2,1172.8 189.8,1174.1 191.9,1173.8"/><path d="M213.8,1183.2 212.5,1181.8 212.9,1179.8 215.4,1177.8 216.1,1175.8 217.6,1175.8 217.9,1176.8 216.1,1178.8 215.5,1181.8 213.8,1183.2"/><path d="M190.8,1190.9 188.8,1190.8 189.1,1189.8 190.8,1189.3 192.1,1189.8 190.8,1190.9"/><path d="M200.8,1197.4 198.7,1196.8 198.3,1194.8 199.8,1194.2 204.0,1194.8 203.6,1195.8 200.8,1197.4"/><path d="M207.8,1203.7 206.8,1203.8 204.8,1201.9 200.8,1202.8 199.6,1200.8 200.8,1199.5 205.8,1198.4 208.5,1200.8 208.8,1202.1 207.8,1203.7"/><path d="M196.8,1206.1 193.3,1202.8 194.8,1200.7 195.8,1200.8 196.5,1203.8 197.6,1204.8 196.8,1206.1"/><path d="M211.8,1209.0 207.8,1207.8 208.6,1205.8 212.0,1205.8 212.8,1207.8 211.8,1209.0"/><path d="M185.8,1212.8 186.1,1209.8 184.8,1208.7 180.2,1211.8 181.8,1213.4 185.8,1212.8"/><path d="M210.8,1216.0 206.8,1216.7 206.2,1214.8 207.8,1211.4 210.8,1212.2 212.1,1214.8 210.8,1216.0"/><path d="M159.3,1221.8 160.8,1221.0 162.8,1221.4 163.5,1219.8 161.8,1219.4 158.7,1221.8 159.3,1221.8"/><path d="M166.1,1225.8 162.8,1224.2 161.3,1225.8 161.8,1226.5 164.8,1226.7 166.1,1225.8"/><path d="M158.6,1227.8 159.3,1226.8 156.8,1225.4 155.4,1225.8 155.8,1227.4 158.6,1227.8"/><path d="M168.2,1233.8 170.3,1231.8 168.8,1227.9 167.8,1227.1 166.7,1227.8 166.4,1232.8 166.8,1234.0 168.2,1233.8"/><path d="M181.4,1230.8 180.8,1228.1 179.8,1227.8 179.5,1230.8 180.8,1231.5 181.4,1230.8"/><path d="M187.2,1251.8 187.4,1250.8 190.1,1248.8 190.2,1247.8 188.8,1246.3 186.8,1246.2 182.1,1248.8 182.8,1250.3 185.2,1250.8 186.8,1252.4 187.2,1251.8"/><path d="M193.7,1255.8 194.5,1253.8 191.8,1252.4 189.9,1255.8 190.8,1256.6 193.7,1255.8"/><path d="M190.0,1261.8 190.5,1260.8 189.8,1258.6 187.7,1260.8 188.5,1261.8 190.0,1261.8"/><path d="M179.7,1271.8 180.6,1270.8 180.3,1269.8 178.8,1269.8 177.5,1270.8 177.8,1271.7 179.7,1271.8"/><path d="M207.8,1282.0 205.8,1282.4 201.4,1279.8 201.8,1277.5 204.2,1275.8 203.1,1273.8 203.8,1270.5 204.8,1270.3 208.5,1274.8 208.5,1278.8 211.0,1279.8 210.5,1280.8 207.8,1282.0"/><path d="M177.0,1277.8 176.8,1276.1 174.9,1273.8 172.8,1274.1 172.8,1275.9 175.8,1278.2 176.8,1278.5 177.0,1277.8"/><path d="M185.5,1279.8 184.8,1277.2 181.9,1277.8 181.8,1279.3 182.8,1280.4 185.5,1279.8"/><path d="M175.2,1290.8 175.8,1288.4 173.9,1285.8 174.8,1284.2 177.8,1283.4 178.4,1281.8 178.0,1279.8 176.8,1278.9 173.8,1280.8 171.6,1283.8 171.8,1285.7 174.8,1286.8 172.1,1290.8"/><path d="M299.9,942.8 299.8,945.1 295.8,948.3 293.8,948.2 292.0,951.8 293.4,954.8 293.5,956.8 295.8,958.7 298.8,959.0 299.4,959.8 299.8,965.8 303.7,969.8 303.8,971.8 302.8,972.0 300.8,970.6 298.3,973.8 304.4,977.8 303.9,981.8 302.8,982.4 302.5,983.8 304.9,985.8 308.8,986.4 310.6,987.8 305.8,993.6 304.8,993.5 303.6,992.8 303.3,987.8 301.2,985.8 301.7,983.8 300.8,982.9 299.8,983.0 298.9,983.8 298.8,985.6 295.8,984.1 294.7,985.8 295.0,989.8 298.2,992.8 298.3,993.8 296.0,994.8 296.1,995.8 296.8,996.6 299.8,996.9 300.2,997.8 297.2,998.8 298.2,1001.8 297.8,1002.8 290.8,1005.8 284.8,1003.2 282.8,1005.9 280.0,1007.8 279.5,1008.8 281.1,1011.8 278.8,1014.4 275.8,1015.3 273.8,1013.3 269.1,1013.8 270.1,1015.8 271.8,1016.6 276.8,1016.8 279.8,1014.7 284.8,1016.1 289.8,1021.8 293.8,1022.1 295.8,1023.5 296.8,1023.4 297.6,1021.8 296.8,1018.6 301.8,1016.6 303.8,1020.1 306.8,1020.1 307.9,1021.8 306.8,1023.1 303.8,1021.6 301.9,1023.8 302.8,1026.3 306.6,1026.8 306.8,1031.0 303.8,1030.4 302.8,1027.3 297.8,1027.5 295.4,1024.8 293.8,1024.2 291.8,1024.4 291.0,1025.8 294.5,1027.8 293.8,1029.3 290.8,1027.8 290.7,1025.8 289.8,1025.1 283.8,1027.8 283.2,1028.8 283.4,1029.8 285.1,1030.8 286.2,1034.8 285.3,1037.8 287.8,1042.2 289.0,1041.8 288.0,1039.8 288.6,1038.8 291.8,1036.5 296.8,1036.8 299.8,1035.8 301.6,1036.8 297.8,1039.2 295.8,1036.9 294.8,1037.1 294.0,1038.8 294.7,1041.8 293.8,1042.6 291.5,1042.8 291.7,1045.8 290.8,1047.6 289.8,1048.5 288.6,1046.8 286.8,1047.2 286.4,1050.8 289.0,1051.8 287.3,1053.8 288.0,1055.8 286.9,1057.8 283.2,1056.8 282.7,1053.8 283.4,1052.8 281.7,1051.8 281.8,1057.1 283.5,1063.8 286.8,1067.5 291.0,1068.8 289.8,1071.4 287.8,1070.5 286.7,1070.8 286.9,1071.8 289.8,1072.8 293.8,1072.4 295.8,1074.8 292.8,1076.7 289.8,1076.7 288.0,1079.8 288.8,1081.7 289.8,1082.1 291.8,1080.2 295.0,1080.8 295.3,1082.8 292.9,1086.8 293.5,1090.8 292.8,1091.8 288.8,1091.4 286.8,1092.4 284.8,1092.0 282.8,1090.4 282.2,1090.8 279.5,1094.8 279.5,1096.8 280.8,1097.8 282.8,1094.7 284.8,1096.8 279.5,1101.8 284.8,1104.5 286.8,1101.9 288.8,1101.9 290.8,1103.8 293.8,1104.6 299.7,1110.8 300.3,1111.8 298.8,1114.0 295.8,1115.2 292.8,1112.1 291.7,1112.8 291.8,1115.8 292.8,1117.1 296.8,1116.0 298.2,1116.8 298.5,1118.8 296.2,1120.8 296.0,1122.8 297.8,1127.1 300.8,1127.3 301.8,1126.2 301.5,1123.8 307.8,1122.9 310.8,1119.8 314.1,1120.8 315.8,1122.5 317.8,1120.9 318.8,1120.9 320.2,1122.8 320.2,1124.8 322.8,1126.4 322.8,1129.3 317.7,1127.8 317.5,1129.8 319.4,1130.8 319.6,1131.8 318.0,1133.8 317.6,1135.8 320.5,1137.8 320.3,1138.8 317.8,1140.3 316.8,1143.8 319.5,1145.8 319.5,1150.8 318.2,1153.8 314.8,1154.3 313.5,1155.8 314.8,1158.5 316.8,1158.5 318.2,1159.8 317.4,1162.8 319.6,1166.8 322.8,1168.8 328.8,1170.2 330.8,1173.1 332.8,1173.3 334.4,1171.8 332.8,1170.8 338.3,1166.8 337.7,1165.8 331.8,1164.4 329.8,1168.2 324.8,1164.8 325.8,1162.9 327.9,1162.8 328.3,1160.8 329.8,1158.7 332.8,1157.2 335.8,1158.2 338.8,1157.4 343.3,1159.8 343.8,1161.8 347.5,1158.8 350.8,1158.8 350.8,1161.4 347.4,1162.8 347.4,1165.8 349.8,1166.1 350.8,1167.5 348.9,1169.8 350.1,1171.8 349.7,1172.8 347.8,1173.3 345.8,1172.2 343.8,1172.7 340.8,1170.9 338.8,1171.7 337.4,1172.8 335.8,1176.0 331.5,1177.8 332.4,1180.8 331.8,1182.6 330.8,1182.8 329.5,1179.8 326.6,1179.8 325.6,1186.8 326.8,1188.8 331.8,1191.3 332.8,1191.3 336.8,1188.7 338.8,1186.2 342.8,1187.0 345.8,1188.8 348.8,1188.0 349.8,1188.7 349.9,1189.8 346.6,1192.8 342.8,1192.8 341.3,1194.8 341.1,1196.8 341.8,1197.9 344.8,1195.7 345.8,1196.0 346.6,1197.8 345.6,1200.8 346.8,1202.6 347.8,1202.7 349.8,1200.8 350.8,1201.3 351.2,1202.8 349.2,1204.8 350.8,1207.3 354.8,1205.5 356.0,1207.8 358.8,1208.4 359.8,1202.9 361.8,1201.3 363.3,1201.8 366.8,1205.2 367.3,1205.8 366.8,1210.2 365.8,1210.9 363.8,1210.7 363.1,1211.8 363.7,1213.8 366.4,1215.8 363.0,1219.8 363.2,1220.8 367.8,1223.8 366.8,1224.6 362.8,1223.9 360.6,1226.8 361.0,1228.8 362.8,1229.6 367.8,1227.8 368.6,1228.8 368.1,1231.8 368.8,1232.7 370.8,1232.9 371.8,1232.2 372.2,1230.8 371.2,1227.8 371.0,1223.8 373.8,1222.8 377.8,1223.1 378.4,1219.8 376.9,1216.8 378.7,1214.8 379.2,1211.8 381.8,1209.5 383.8,1209.8 384.2,1214.8 382.4,1215.8 380.1,1220.8 380.8,1222.6 382.8,1221.2 384.8,1221.4 386.0,1225.8 385.4,1226.8 383.8,1227.2 380.8,1225.8 377.7,1227.8 376.8,1230.8 378.0,1234.8 377.8,1237.2 375.8,1237.3 372.8,1235.2 368.8,1234.7 366.8,1238.0 363.8,1235.1 359.8,1236.0 356.8,1239.1 352.8,1237.1 352.0,1237.8 353.5,1239.8 353.8,1244.9 354.8,1245.9 360.3,1247.8 360.4,1248.8 357.9,1249.8 358.6,1251.8 355.1,1255.8 355.2,1256.8 357.8,1256.1 359.4,1256.8 358.8,1261.8 361.8,1262.2 364.8,1260.0 369.3,1264.8 363.8,1269.0 362.8,1269.2 361.8,1267.7 359.7,1267.8 360.5,1270.8 362.0,1271.8 361.8,1274.3 356.6,1273.8 355.8,1271.4 355.1,1272.8 351.5,1273.8 353.8,1275.8 355.8,1275.4 357.8,1277.7 357.4,1283.8 358.8,1286.1 360.8,1285.0 363.8,1286.4 366.8,1282.3 370.0,1281.8 370.3,1279.8 369.4,1275.8 366.4,1273.8 367.8,1272.6 369.8,1272.4 373.1,1275.8 371.8,1279.8 375.8,1285.6 376.8,1285.9 378.8,1284.8 385.8,1287.6 386.8,1290.6 389.8,1290.2 391.8,1288.9"/><path d="M316.8,955.0 314.8,955.1 314.8,954.4 317.8,953.0 318.1,953.8 316.8,955.0"/><path d="M286.8,974.8 288.7,972.8 289.0,969.8 285.8,967.9 284.8,962.2 281.8,961.8 279.7,965.8 281.8,970.0 278.8,970.7 278.8,974.4 280.8,974.4 282.8,971.9 283.8,971.7 286.8,974.8"/><path d="M291.5,963.8 290.8,962.0 289.1,962.8 289.8,964.6 291.5,963.8"/><path d="M318.8,972.2 315.5,968.8 315.8,966.5 317.8,966.2 319.8,963.8 322.8,963.1 323.2,964.8 318.8,972.2"/><path d="M296.9,975.8 297.8,973.8 294.8,972.0 294.1,972.8 294.4,975.8 295.8,976.6 296.9,975.8"/><path d="M329.8,982.2 327.8,982.1 326.8,980.8 329.8,978.8 330.8,979.0 331.5,980.8 329.8,982.2"/><path d="M289.5,1000.8 289.7,995.8 294.1,993.8 293.9,991.8 292.8,991.0 286.8,992.9 284.2,994.8 286.8,999.6 289.5,1000.8"/><path d="M313.8,995.9 312.8,996.1 310.8,994.3 308.5,993.8 308.1,992.8 308.8,991.9 310.8,993.4 313.8,993.0 314.3,994.8 313.8,995.9"/><path d="M282.9,995.8 283.0,994.8 280.8,993.0 279.9,994.8 280.8,995.8 282.9,995.8"/><path d="M310.8,999.9 308.8,1000.1 306.1,997.8 306.3,994.8 306.8,994.4 307.8,997.0 310.8,997.0 312.5,997.8 312.8,998.8 310.8,999.9"/><path d="M303.8,1002.7 303.8,1000.0 304.8,999.4 305.3,1000.8 303.8,1002.7"/><path d="M298.8,1013.1 297.8,1013.4 297.6,1012.8 298.5,1007.8 301.8,1003.4 302.8,1002.5 303.8,1002.8 305.2,1005.8 305.7,1010.8 303.8,1011.7 300.8,1011.4 298.8,1013.1"/><path d="M306.8,1017.1 304.1,1015.8 305.8,1014.4 306.8,1014.5 307.4,1015.8 306.8,1017.1"/><path d="M271.7,1024.8 272.9,1021.8 271.8,1021.2 269.6,1023.8 270.8,1025.4 271.7,1024.8"/><path d="M305.8,1038.0 304.5,1037.8 304.2,1036.8 305.8,1034.0 306.8,1034.5 307.1,1035.8 305.8,1038.0"/><path d="M265.3,1043.8 266.0,1041.8 264.8,1040.5 262.8,1040.6 261.3,1041.8 261.8,1043.1 265.3,1043.8"/><path d="M310.8,1045.9 308.8,1044.7 308.2,1043.8 308.8,1043.1 311.1,1044.8 310.8,1045.9"/><path d="M280.9,1048.8 283.0,1045.8 281.8,1044.0 278.7,1044.8 278.6,1048.8 279.8,1049.5 280.9,1048.8"/><path d="M306.8,1057.0 304.2,1054.8 305.8,1054.1 307.2,1055.8 306.8,1057.0"/><path d="M333.8,1058.9 332.1,1057.8 332.5,1056.8 333.8,1055.7 335.8,1055.9 336.6,1056.8 336.0,1057.8 333.8,1058.9"/><path d="M294.8,1067.3 293.8,1067.7 292.8,1067.0 292.8,1061.4 294.8,1061.1 297.8,1058.7 302.8,1059.5 304.3,1060.8 304.4,1062.8 303.2,1064.8 297.8,1062.6 296.6,1063.8 297.0,1065.8 294.8,1067.3"/><path d="M288.8,1064.1 287.3,1063.8 287.8,1059.2 289.3,1059.8 289.8,1061.8 288.8,1064.1"/><path d="M257.8,1069.8 254.9,1064.8 256.8,1064.1 259.8,1065.2 260.8,1067.2 261.8,1067.5 262.6,1066.8 262.4,1065.8 259.9,1064.8 258.8,1063.2 252.8,1062.0 250.5,1065.8 251.5,1067.8 251.2,1068.8 251.8,1069.7 256.8,1070.6 257.8,1069.8"/><path d="M365.8,1072.5 364.7,1068.8 365.7,1066.8 366.8,1066.4 368.3,1067.8 366.0,1069.8 365.8,1072.5"/><path d="M281.6,1069.8 281.9,1068.8 279.7,1067.8 279.2,1068.8 279.8,1070.1 281.6,1069.8"/><path d="M271.4,1072.8 274.8,1072.2 275.5,1070.8 272.8,1068.8 271.8,1069.0 269.7,1071.8 270.3,1072.8 271.4,1072.8"/><path d="M254.0,1077.8 254.0,1075.8 252.8,1075.0 252.6,1077.8 254.0,1077.8"/><path d="M314.8,1103.9 314.3,1101.8 317.2,1094.8 316.8,1093.6 314.2,1092.8 316.8,1091.5 317.8,1088.3 321.1,1086.8 321.5,1084.8 319.3,1082.8 319.1,1080.8 320.8,1079.8 322.8,1079.9 324.8,1082.8 327.5,1082.8 325.6,1083.8 324.6,1086.8 321.8,1088.3 321.7,1089.8 319.3,1091.8 319.2,1092.8 321.3,1094.8 321.2,1095.8 318.6,1096.8 318.0,1097.8 318.7,1100.8 314.8,1103.9"/><path d="M294.8,1100.4 292.9,1098.8 292.5,1094.8 293.8,1093.7 300.9,1092.8 301.8,1094.9 300.8,1095.6 297.8,1095.1 295.7,1099.8 294.8,1100.4"/><path d="M287.8,1099.1 285.8,1098.5 284.8,1096.8 286.8,1095.3 287.8,1095.3 288.8,1096.8 288.8,1098.1 287.8,1099.1"/><path d="M305.8,1097.8 303.8,1097.6 302.7,1095.8 304.8,1095.1 306.8,1095.5 306.9,1096.8 305.8,1097.8"/><path d="M347.8,1110.1 345.7,1109.8 346.5,1106.8 345.7,1104.8 342.8,1103.2 341.1,1100.8 341.5,1097.8 342.8,1096.3 345.8,1096.2 349.8,1098.2 350.8,1097.5 352.2,1097.8 351.8,1098.8 349.8,1098.9 348.8,1099.8 348.4,1104.8 347.1,1106.8 347.0,1107.8 348.4,1108.8 347.8,1110.1"/><path d="M300.8,1103.1 298.8,1103.6 298.3,1102.8 299.8,1101.3 302.6,1101.8 300.8,1103.1"/><path d="M305.8,1118.3 303.2,1117.8 301.9,1115.8 303.6,1112.8 306.8,1111.3 307.8,1107.8 312.1,1107.8 315.8,1105.2 316.8,1105.4 317.4,1107.8 316.8,1108.7 313.8,1108.7 313.3,1109.8 313.6,1111.8 315.2,1113.8 314.8,1114.9 313.8,1115.7 311.8,1114.6 306.8,1116.3 305.9,1116.8 305.8,1118.3"/><path d="M353.8,1113.4 351.0,1111.8 353.8,1108.5 354.7,1110.8 353.8,1113.4"/><path d="M320.8,1115.1 318.8,1114.5 318.8,1112.5 320.8,1113.2 320.8,1115.1"/><path d="M342.8,1123.0 340.1,1122.8 339.9,1120.8 338.9,1119.8 335.7,1118.8 335.1,1117.8 336.4,1115.8 332.8,1112.8 336.8,1112.2 340.4,1113.8 341.8,1116.0 343.8,1113.7 346.5,1113.8 345.0,1116.8 346.6,1117.8 346.0,1120.8 344.8,1122.3 342.8,1123.0"/><path d="M295.0,1122.8 292.8,1119.7 292.8,1122.7 295.0,1122.8"/><path d="M348.8,1126.9 347.8,1127.0 347.2,1125.8 347.8,1123.7 350.5,1125.8 348.8,1126.9"/><path d="M365.8,1139.9 364.8,1140.0 364.2,1138.8 364.8,1135.8 363.8,1133.8 362.7,1125.8 363.8,1124.7 365.4,1125.8 364.9,1129.8 367.5,1135.8 365.8,1139.9"/><path d="M353.8,1128.2 351.8,1128.3 350.1,1126.8 351.5,1125.8 354.8,1125.8 355.3,1126.8 353.8,1128.2"/><path d="M356.8,1135.8 354.8,1136.4 352.9,1134.8 352.8,1133.8 355.8,1130.1 359.0,1129.8 360.9,1131.8 360.8,1134.3 358.8,1133.9 356.8,1135.8"/><path d="M328.8,1140.2 323.8,1136.8 325.2,1135.8 325.8,1132.5 327.8,1131.6 329.8,1131.9 333.8,1130.2 334.8,1131.5 338.1,1131.8 337.8,1133.7 334.8,1133.6 333.1,1135.8 332.8,1138.2 329.8,1138.7 328.8,1140.2"/><path d="M312.8,1137.8 313.1,1132.8 312.8,1131.8 311.8,1131.6 310.2,1133.8 312.8,1137.8"/><path d="M274.9,1143.8 277.8,1141.8 275.8,1141.0 273.8,1138.9 272.1,1141.8 272.8,1143.8 274.9,1143.8"/><path d="M332.8,1150.3 329.9,1149.8 329.3,1147.8 329.5,1145.8 330.8,1143.6 332.1,1143.8 332.8,1146.8 334.4,1148.8 332.8,1150.3"/><path d="M291.0,1148.8 292.3,1146.8 290.8,1146.0 289.4,1147.8 289.8,1148.6 291.0,1148.8"/><path d="M323.8,1152.8 322.8,1153.7 320.3,1150.8 320.3,1149.8 321.8,1148.3 325.3,1150.8 323.8,1152.8"/><path d="M336.8,1152.0 334.9,1149.8 335.8,1148.1 337.6,1149.8 336.8,1152.0"/><path d="M305.2,1154.8 304.1,1149.8 302.8,1149.5 300.7,1151.8 300.6,1153.8 302.8,1155.7 305.2,1154.8"/><path d="M303.9,1160.8 304.6,1158.8 300.8,1157.4 301.8,1160.6 302.8,1161.5 303.9,1160.8"/><path d="M280.9,1166.8 284.1,1162.8 282.8,1160.1 281.8,1160.0 279.8,1161.7 278.3,1164.8 279.8,1166.7 280.9,1166.8"/><path d="M379.8,1176.0 376.8,1176.6 375.8,1176.0 376.8,1170.8 372.4,1169.8 373.9,1165.8 375.8,1163.8 375.8,1160.8 377.9,1162.8 377.4,1164.8 379.8,1167.0 381.8,1167.2 382.1,1165.8 381.2,1163.8 383.8,1162.8 386.8,1163.4 388.4,1166.8 388.5,1167.8 384.8,1172.8 381.8,1171.4 379.6,1172.8 379.8,1176.0"/><path d="M278.0,1169.8 278.3,1167.8 276.8,1165.0 276.8,1168.7 278.0,1169.8"/><path d="M370.8,1174.7 368.8,1174.3 367.5,1172.8 369.8,1169.9 370.8,1174.7"/><path d="M316.1,1173.8 313.8,1172.4 312.5,1172.8 312.6,1173.8 313.8,1174.5 316.1,1173.8"/><path d="M377.8,1201.9 374.8,1200.5 371.8,1202.6 369.8,1202.8 368.5,1201.8 368.8,1198.9 371.8,1198.0 372.3,1196.8 372.3,1193.8 370.8,1189.2 369.8,1188.7 368.0,1189.8 367.8,1192.0 364.8,1190.0 360.8,1191.2 360.7,1189.8 362.7,1187.8 361.9,1185.8 358.8,1186.8 351.6,1182.8 351.6,1181.8 353.8,1179.8 353.3,1178.8 350.8,1178.2 350.5,1176.8 352.8,1173.3 356.8,1174.4 358.8,1173.5 367.8,1177.8 370.8,1180.8 374.8,1179.1 375.1,1181.8 373.4,1184.8 377.0,1188.8 376.4,1190.8 378.0,1193.8 377.8,1196.8 381.2,1199.8 380.8,1201.2 377.8,1201.9"/><path d="M391.8,1193.3 388.8,1193.4 386.8,1194.3 384.8,1191.8 381.8,1192.5 378.4,1190.8 379.8,1187.5 384.8,1187.8 385.8,1187.3 387.6,1184.8 386.8,1180.6 388.8,1180.3 388.8,1183.1 391.8,1183.2"/><path d="M337.8,1185.2 335.6,1184.8 334.9,1183.8 335.8,1182.6 337.8,1182.7 338.3,1183.8 337.8,1185.2"/><path d="M320.7,1195.8 323.2,1192.8 324.6,1188.8 317.8,1187.4 316.1,1188.8 319.7,1192.8 320.0,1193.8 319.1,1195.8 319.8,1196.5 320.7,1195.8"/><path d="M308.0,1197.8 309.7,1195.8 309.6,1194.8 306.8,1193.6 305.0,1193.8 304.7,1194.8 305.8,1197.6 306.8,1198.3 308.0,1197.8"/><path d="M320.3,1208.8 322.0,1206.8 322.0,1205.8 320.8,1205.0 317.8,1203.9 314.1,1204.8 314.8,1206.7 316.9,1206.8 317.4,1208.8 320.3,1208.8"/><path d="M346.0,1219.8 348.8,1218.7 349.8,1217.8 349.7,1216.8 348.0,1212.8 345.0,1210.8 342.5,1204.8 341.6,1205.8 342.6,1206.8 341.5,1210.8 342.2,1213.8 343.7,1215.8 343.5,1218.8 346.0,1219.8"/><path d="M325.3,1207.8 324.8,1205.7 323.4,1205.8 323.8,1208.5 325.3,1207.8"/><path d="M318.4,1217.8 320.1,1216.8 320.9,1213.8 314.9,1212.8 315.6,1216.8 318.4,1217.8"/><path d="M327.7,1215.8 327.8,1213.6 326.8,1212.8 324.5,1212.8 324.0,1213.8 324.6,1215.8 325.8,1216.7 327.7,1215.8"/><path d="M345.8,1215.9 344.4,1214.8 345.8,1213.2 347.4,1214.8 345.8,1215.9"/><path d="M336.4,1216.8 335.8,1215.2 333.8,1214.8 333.9,1216.8 335.8,1217.5 336.4,1216.8"/><path d="M373.8,1220.8 372.0,1218.8 372.3,1217.8 374.1,1217.8 375.0,1218.8 373.8,1220.8"/><path d="M335.1,1226.8 334.4,1223.8 335.8,1221.5 331.6,1223.8 333.8,1227.0 334.8,1227.5 335.1,1226.8"/><path d="M329.8,1234.8 329.8,1232.5 327.8,1231.1 324.8,1232.5 322.8,1231.4 318.8,1231.0 317.3,1228.8 315.8,1228.2 311.8,1228.8 310.9,1229.8 311.6,1230.8 315.8,1232.4 318.8,1232.6 321.8,1234.6 324.8,1232.9 328.8,1235.4 329.8,1234.8"/><path d="M337.8,1234.8 340.4,1232.8 338.8,1231.6 337.4,1231.8 336.2,1233.8 336.8,1235.0 337.8,1234.8"/><path d="M310.8,1236.8 312.7,1235.8 312.7,1234.8 308.8,1232.3 308.5,1233.8 309.2,1235.8 310.8,1236.8"/><path d="M347.0,1237.8 350.8,1235.8 351.5,1234.8 350.6,1233.8 346.8,1233.6 343.3,1237.8 345.8,1238.6 347.0,1237.8"/><path d="M372.8,1254.2 370.7,1253.8 369.3,1244.8 372.8,1242.6 377.8,1243.6 378.7,1245.8 377.8,1246.9 376.6,1246.8 374.8,1250.0 372.8,1250.8 372.3,1251.8 373.3,1253.8 372.8,1254.2"/><path d="M305.3,1255.8 307.1,1254.8 307.0,1253.8 305.8,1252.2 303.8,1252.1 303.7,1250.8 305.8,1251.7 307.4,1250.8 306.7,1248.8 304.8,1246.8 300.8,1250.1 298.6,1253.8 299.8,1255.4 302.8,1256.2 305.3,1255.8"/><path d="M391.8,1278.7 384.8,1277.3 382.8,1278.4 379.8,1276.9 379.6,1273.8 378.8,1272.9 376.8,1272.5 375.8,1270.8 376.3,1265.8 372.8,1266.0 371.1,1263.8 372.8,1261.2 373.8,1261.9 375.4,1260.8 374.8,1258.8 375.8,1258.2 377.0,1258.8 377.8,1261.7 380.2,1261.8 381.4,1259.8 379.2,1257.8 379.8,1255.9 380.8,1255.1 382.8,1255.4 384.8,1254.6 390.3,1254.8 391.8,1249.7"/><path d="M349.1,1262.8 350.0,1261.8 350.2,1259.8 348.9,1256.8 348.8,1254.1 347.8,1253.8 346.7,1255.8 347.9,1258.8 347.4,1261.8 349.1,1262.8"/><path d="M285.6,1258.8 284.8,1255.8 281.8,1254.6 279.8,1255.8 278.7,1257.8 278.8,1258.5 281.8,1256.8 282.8,1257.0 283.8,1259.1 285.6,1258.8"/><path d="M294.4,1257.8 295.7,1255.8 294.8,1254.8 292.1,1254.8 291.7,1255.8 292.8,1257.8 294.4,1257.8"/><path d="M372.8,1260.6 366.8,1256.9 366.2,1255.8 366.7,1254.8 368.8,1255.1 373.2,1257.8 373.8,1258.8 372.8,1260.6"/><path d="M337.4,1265.8 335.1,1261.8 335.0,1260.8 337.2,1258.8 335.8,1256.3 334.8,1256.4 332.8,1258.8 329.8,1257.9 326.6,1262.8 330.8,1264.3 333.8,1263.2 335.2,1264.8 335.1,1265.8 337.4,1265.8"/><path d="M371.8,1271.6 370.8,1271.7 370.2,1270.8 369.8,1267.9 372.8,1268.1 373.5,1268.8 371.8,1271.6"/><path d="M340.1,1271.8 339.8,1270.2 335.5,1269.8 335.8,1271.4 340.1,1271.8"/></g></g><g clip-path="url(#c5)"><g filter="url(#b_row)"><defs><linearGradient id="g345"><stop offset="0" stop-color="#00fddb"/><stop offset=".138" stop-color="#00fed3"/><stop offset=".201" stop-color="#01f6f2"/><stop offset=".236" stop-color="#00fbe4"/><stop offset=".282" stop-color="#00fdd9"/><stop offset=".333" stop-color="#00ffcd"/><stop offset=".368" stop-color="#00ffd2"/><stop offset=".408" stop-color="#00ffbc"/><stop offset=".454" stop-color="#00ffc4"/><stop offset=".489" stop-color="#00ffc0"/><stop offset=".534" stop-color="#00ffc9"/><stop offset=".586" stop-color="#00ffa8"/><stop offset=".661" stop-color="#00ff99"/><stop offset=".724" stop-color="#00ff87"/><stop offset=".793" stop-color="#00ff6a"/><stop offset=".828" stop-color="#00ff58"/><stop offset=".874" stop-color="#00ff62"/><stop offset=".931" stop-color="#00ff4e"/><stop offset=".966" stop-color="#00ff5b"/><stop offset="1" stop-color="#00ff4b"/></linearGradient><linearGradient id="g346"><stop offset="0" stop-color="#00fcdf"/><stop offset=".098" stop-color="#00fdda"/><stop offset=".138" stop-color="#00ffd0"/><stop offset=".172" stop-color="#00ffcd"/><stop offset=".218" stop-color="#00fbe4"/><stop offset=".27" stop-color="#00ffcf"/><stop offset=".322" stop-color="#00fed5"/><stop offset=".368" stop-color="#00ffce"/><stop offset=".408" stop-color="#00ffbd"/><stop offset=".448" stop-color="#00ffc0"/><stop offset=".483" stop-color="#00ffb4"/><stop offset=".552" stop-color="#00ffbf"/><stop offset=".632" stop-color="#00ff97"/><stop offset=".701" stop-color="#00ff8a"/><stop offset=".764" stop-color="#00ff6c"/><stop offset=".833" stop-color="#00ff5e"/><stop offset=".897" stop-color="#00ff5a"/><stop offset=".937" stop-color="#00ff46"/><stop offset=".983" stop-color="#00ff45"/><stop offset="1" stop-color="#00ff42"/></linearGradient><linearGradient id="g347"><stop offset="0" stop-color="#00fbe4"/><stop offset=".149" stop-color="#00ffce"/><stop offset=".19" stop-color="#00ffc6"/><stop offset=".23" stop-color="#00ffd1"/><stop offset=".27" stop-color="#00ffc7"/><stop offset=".31" stop-color="#00fdd9"/><stop offset=".362" stop-color="#00ffcd"/><stop offset=".431" stop-color="#00ffbf"/><stop offset=".477" stop-color="#00ffa8"/><stop offset=".569" stop-color="#00ffb6"/><stop offset=".626" stop-color="#00ff8f"/><stop offset=".701" stop-color="#00ff8a"/><stop offset=".736" stop-color="#00ff6f"/><stop offset=".793" stop-color="#00ff6c"/><stop offset=".862" stop-color="#00ff64"/><stop offset=".931" stop-color="#00ff46"/><stop offset="1" stop-color="#00ff41"/></linearGradient><linearGradient id="g348"><stop offset="0" stop-color="#00f9e9"/><stop offset=".08" stop-color="#00fbe3"/><stop offset=".132" stop-color="#00fcdc"/><stop offset=".167" stop-color="#00fdd7"/><stop offset=".293" stop-color="#00ffcc"/><stop offset=".425" stop-color="#00ffc5"/><stop offset=".489" stop-color="#00ffaf"/><stop offset=".58" stop-color="#00ffa9"/><stop offset=".644" stop-color="#00ff87"/><stop offset=".695" stop-color="#00ff8e"/><stop offset=".736" stop-color="#00ff73"/><stop offset=".856" stop-color="#00ff6e"/><stop offset=".914" stop-color="#00ff45"/><stop offset=".96" stop-color="#00ff4a"/><stop offset="1" stop-color="#00ff40"/></linearGradient><linearGradient id="g349"><stop offset="0" stop-color="#00fae7"/><stop offset=".075" stop-color="#00fbe3"/><stop offset=".132" stop-color="#00fdda"/><stop offset=".172" stop-color="#00fcdf"/><stop offset=".207" stop-color="#00fdd8"/><stop offset=".247" stop-color="#00fcdc"/><stop offset=".287" stop-color="#00ffc5"/><stop offset=".31" stop-color="#00ffba"/><stop offset=".362" stop-color="#00ffc5"/><stop offset=".408" stop-color="#00ffbf"/><stop offset=".466" stop-color="#00ffc5"/><stop offset=".534" stop-color="#00ffa4"/><stop offset=".592" stop-color="#00ffa0"/><stop offset=".644" stop-color="#00ff81"/><stop offset=".69" stop-color="#00ff86"/><stop offset=".759" stop-color="#00ff71"/><stop offset=".81" stop-color="#00ff71"/><stop offset=".839" stop-color="#00ff70"/><stop offset=".868" stop-color="#00ff6e"/><stop offset=".92" stop-color="#00ff47"/><stop offset="1" stop-color="#03ff3a"/></linearGradient><linearGradient id="g350"><stop offset="0" stop-color="#00fae6"/><stop offset=".075" stop-color="#00fddb"/><stop offset=".138" stop-color="#00fed3"/><stop offset=".172" stop-color="#00fcdf"/><stop offset=".207" stop-color="#00fdd8"/><stop offset=".264" stop-color="#00fdd7"/><stop offset=".305" stop-color="#00ffba"/><stop offset=".345" stop-color="#00ffcc"/><stop offset=".408" stop-color="#00ffbd"/><stop offset=".454" stop-color="#00ffcc"/><stop offset=".529" stop-color="#00ffa2"/><stop offset=".569" stop-color="#00ffa1"/><stop offset=".713" stop-color="#00ff79"/><stop offset=".77" stop-color="#00ff6a"/><stop offset=".828" stop-color="#00ff69"/><stop offset=".856" stop-color="#00ff6f"/><stop offset=".943" stop-color="#02ff3d"/><stop offset="1" stop-color="#00ff40"/></linearGradient><linearGradient id="g351"><stop offset="0" stop-color="#00fcdf"/><stop offset=".046" stop-color="#00ffcc"/><stop offset=".098" stop-color="#00ffd2"/><stop offset=".184" stop-color="#00fcde"/><stop offset=".31" stop-color="#00ffd2"/><stop offset=".374" stop-color="#00ffca"/><stop offset=".408" stop-color="#00ffc3"/><stop offset=".448" stop-color="#00ffcd"/><stop offset=".534" stop-color="#00ffad"/><stop offset=".644" stop-color="#00ff89"/><stop offset=".672" stop-color="#00ff76"/><stop offset=".724" stop-color="#00ff7a"/><stop offset=".776" stop-color="#00ff67"/><stop offset=".833" stop-color="#00ff62"/><stop offset=".914" stop-color="#00ff4f"/><stop offset=".948" stop-color="#02ff3c"/><stop offset="1" stop-color="#00ff50"/></linearGradient><linearGradient id="g352"><stop offset="0" stop-color="#00ffd1"/><stop offset=".046" stop-color="#00ffc5"/><stop offset=".086" stop-color="#00fed4"/><stop offset=".132" stop-color="#00fcdc"/><stop offset=".287" stop-color="#00fed5"/><stop offset=".316" stop-color="#00fdda"/><stop offset=".356" stop-color="#00ffc6"/><stop offset=".397" stop-color="#00ffbc"/><stop offset=".437" stop-color="#00ffcd"/><stop offset=".517" stop-color="#00ffbb"/><stop offset=".644" stop-color="#00ff80"/><stop offset=".667" stop-color="#00ff6e"/><stop offset=".707" stop-color="#00ff84"/><stop offset=".787" stop-color="#00ff5e"/><stop offset=".868" stop-color="#00ff55"/><stop offset=".925" stop-color="#00ff4f"/><stop offset=".96" stop-color="#00ff40"/><stop offset="1" stop-color="#00ff58"/></linearGradient><linearGradient id="g353"><stop offset="0" stop-color="#00fed5"/><stop offset=".046" stop-color="#00ffca"/><stop offset=".08" stop-color="#00fcdc"/><stop offset=".121" stop-color="#00fed4"/><stop offset=".19" stop-color="#00ffd1"/><stop offset=".31" stop-color="#00fdda"/><stop offset=".385" stop-color="#00ffb3"/><stop offset=".437" stop-color="#00ffc3"/><stop offset=".529" stop-color="#00ffb3"/><stop offset=".615" stop-color="#00ff8d"/><stop offset=".644" stop-color="#00ff88"/><stop offset=".672" stop-color="#00ff74"/><stop offset=".713" stop-color="#00ff83"/><stop offset=".77" stop-color="#00ff5f"/><stop offset=".856" stop-color="#00ff59"/><stop offset=".891" stop-color="#00ff52"/><stop offset=".925" stop-color="#00ff55"/><stop offset=".966" stop-color="#00ff48"/><stop offset="1" stop-color="#00ff5a"/></linearGradient><linearGradient id="g354"><stop offset="0" stop-color="#00fae8"/><stop offset=".046" stop-color="#00fed5"/><stop offset=".086" stop-color="#00fce0"/><stop offset=".126" stop-color="#00ffd0"/><stop offset=".178" stop-color="#00fed7"/><stop offset=".27" stop-color="#00fed5"/><stop offset=".305" stop-color="#00fdd9"/><stop offset=".391" stop-color="#00ffb4"/><stop offset=".477" stop-color="#00ffb3"/><stop offset=".511" stop-color="#00ffae"/><stop offset=".569" stop-color="#00ff9f"/><stop offset=".621" stop-color="#00ff94"/><stop offset=".644" stop-color="#00ff95"/><stop offset=".678" stop-color="#00ff73"/><stop offset=".724" stop-color="#00ff78"/><stop offset=".764" stop-color="#00ff5d"/><stop offset=".816" stop-color="#00ff6c"/><stop offset=".874" stop-color="#00ff53"/><stop offset=".937" stop-color="#00ff56"/><stop offset="1" stop-color="#00ff54"/></linearGradient><linearGradient id="g355"><stop offset="0" stop-color="#00f8f0"/><stop offset=".052" stop-color="#00fdd9"/><stop offset=".098" stop-color="#00fbe1"/><stop offset=".132" stop-color="#00fdd8"/><stop offset=".167" stop-color="#00fae6"/><stop offset=".282" stop-color="#00fed5"/><stop offset=".322" stop-color="#00ffce"/><stop offset=".402" stop-color="#00ffb3"/><stop offset=".477" stop-color="#00ffb2"/><stop offset=".517" stop-color="#00ffa6"/><stop offset=".598" stop-color="#00ff90"/><stop offset=".649" stop-color="#00ff8b"/><stop offset=".678" stop-color="#00ff6d"/><stop offset=".73" stop-color="#00ff74"/><stop offset=".776" stop-color="#00ff5b"/><stop offset=".833" stop-color="#00ff5c"/><stop offset=".874" stop-color="#00ff4e"/><stop offset=".96" stop-color="#00ff5a"/><stop offset="1" stop-color="#00ff52"/></linearGradient><linearGradient id="g356"><stop offset="0" stop-color="#00fbe2"/><stop offset=".075" stop-color="#00fdda"/><stop offset=".109" stop-color="#00fcde"/><stop offset=".144" stop-color="#00fcdc"/><stop offset=".201" stop-color="#00fcdc"/><stop offset=".253" stop-color="#00fdd8"/><stop offset=".287" stop-color="#00ffca"/><stop offset=".322" stop-color="#00ffcd"/><stop offset=".391" stop-color="#00ffbc"/><stop offset=".598" stop-color="#00ff8c"/><stop offset=".684" stop-color="#00ff6e"/><stop offset=".736" stop-color="#00ff79"/><stop offset=".793" stop-color="#00ff4e"/><stop offset=".839" stop-color="#00ff54"/><stop offset=".874" stop-color="#00ff4c"/><stop offset=".977" stop-color="#00ff58"/><stop offset="1" stop-color="#00ff56"/></linearGradient><linearGradient id="g357"><stop offset="0" stop-color="#00fdd9"/><stop offset=".092" stop-color="#00fcdd"/><stop offset=".149" stop-color="#00ffd2"/><stop offset=".201" stop-color="#00fddb"/><stop offset=".253" stop-color="#00fed2"/><stop offset=".282" stop-color="#00ffc0"/><stop offset=".322" stop-color="#00ffce"/><stop offset=".374" stop-color="#00ffca"/><stop offset=".408" stop-color="#00ffb4"/><stop offset=".483" stop-color="#00ffa5"/><stop offset=".534" stop-color="#00ffa3"/><stop offset=".632" stop-color="#00ff80"/><stop offset=".678" stop-color="#00ff6f"/><stop offset=".741" stop-color="#00ff71"/><stop offset=".782" stop-color="#00ff53"/><stop offset=".868" stop-color="#00ff4c"/><stop offset=".902" stop-color="#00ff59"/><stop offset=".948" stop-color="#00ff51"/><stop offset="1" stop-color="#00ff50"/></linearGradient><linearGradient id="g358"><stop offset="0" stop-color="#00fed5"/><stop offset=".115" stop-color="#00fddb"/><stop offset=".144" stop-color="#00fdd8"/><stop offset=".184" stop-color="#00fae8"/><stop offset=".282" stop-color="#00ffc1"/><stop offset=".328" stop-color="#00fed3"/><stop offset=".379" stop-color="#00ffc6"/><stop offset=".408" stop-color="#00ffb1"/><stop offset=".477" stop-color="#00ffa6"/><stop offset=".534" stop-color="#00ff9d"/><stop offset=".58" stop-color="#00ff8f"/><stop offset=".632" stop-color="#00ff8d"/><stop offset=".667" stop-color="#00ff73"/><stop offset=".724" stop-color="#00ff64"/><stop offset=".77" stop-color="#00ff54"/><stop offset=".833" stop-color="#00ff53"/><stop offset=".868" stop-color="#00ff4f"/><stop offset=".902" stop-color="#00ff60"/><stop offset=".96" stop-color="#00ff47"/><stop offset="1" stop-color="#00ff3f"/></linearGradient><linearGradient id="g359"><stop offset="0" stop-color="#00fdda"/><stop offset=".069" stop-color="#00fbe3"/><stop offset=".126" stop-color="#00fcdc"/><stop offset=".184" stop-color="#00f9ec"/><stop offset=".299" stop-color="#00ffca"/><stop offset=".351" stop-color="#00ffcb"/><stop offset=".431" stop-color="#00ffb3"/><stop offset=".46" stop-color="#00ffa7"/><stop offset=".511" stop-color="#00ffa0"/><stop offset=".563" stop-color="#00ff86"/><stop offset=".632" stop-color="#00ff8e"/><stop offset=".684" stop-color="#00ff66"/><stop offset=".782" stop-color="#00ff54"/><stop offset=".845" stop-color="#00ff5e"/><stop offset=".914" stop-color="#00ff56"/><stop offset=".954" stop-color="#00ff41"/><stop offset="1" stop-color="#03ff3a"/></linearGradient><linearGradient id="g360"><stop offset="0" stop-color="#00fdda"/><stop offset=".069" stop-color="#00f9ea"/><stop offset=".149" stop-color="#00fbe1"/><stop offset=".19" stop-color="#00fae9"/><stop offset=".236" stop-color="#00fce0"/><stop offset=".27" stop-color="#00fcdf"/><stop offset=".322" stop-color="#00ffc5"/><stop offset=".374" stop-color="#00ffbd"/><stop offset=".431" stop-color="#00ffbc"/><stop offset=".466" stop-color="#00ffb3"/><stop offset=".58" stop-color="#00ff85"/><stop offset=".632" stop-color="#00ff85"/><stop offset=".695" stop-color="#00ff56"/><stop offset=".753" stop-color="#00ff59"/><stop offset=".793" stop-color="#00ff56"/><stop offset=".845" stop-color="#00ff68"/><stop offset=".943" stop-color="#00ff47"/><stop offset="1" stop-color="#00ff4f"/></linearGradient><linearGradient id="g361"><stop offset="0" stop-color="#00ffcc"/><stop offset=".063" stop-color="#00fae8"/><stop offset=".115" stop-color="#00fbe5"/><stop offset=".144" stop-color="#00fcdd"/><stop offset=".178" stop-color="#00f8f0"/><stop offset=".23" stop-color="#00f9eb"/><stop offset=".264" stop-color="#00fae5"/><stop offset=".328" stop-color="#00ffbf"/><stop offset=".391" stop-color="#00ffae"/><stop offset=".471" stop-color="#00ffb0"/><stop offset=".529" stop-color="#00ff8e"/><stop offset=".626" stop-color="#00ff82"/><stop offset=".69" stop-color="#00ff51"/><stop offset=".81" stop-color="#00ff58"/><stop offset=".845" stop-color="#00ff60"/><stop offset=".931" stop-color="#00ff4f"/><stop offset=".977" stop-color="#00ff5d"/><stop offset="1" stop-color="#00ff58"/></linearGradient><linearGradient id="g362"><stop offset="0" stop-color="#00ffc9"/><stop offset=".063" stop-color="#00fbe1"/><stop offset=".138" stop-color="#00fed3"/><stop offset=".172" stop-color="#00f9ed"/><stop offset=".27" stop-color="#00fcdc"/><stop offset=".408" stop-color="#00ffa2"/><stop offset=".489" stop-color="#00ff9b"/><stop offset=".534" stop-color="#00ff8e"/><stop offset=".621" stop-color="#00ff89"/><stop offset=".672" stop-color="#00ff5c"/><stop offset=".759" stop-color="#00ff52"/><stop offset=".92" stop-color="#00ff52"/><stop offset=".983" stop-color="#00ff4e"/><stop offset="1" stop-color="#00ff48"/></linearGradient><linearGradient id="g363"><stop offset="0" stop-color="#00fdd7"/><stop offset=".075" stop-color="#00fbe1"/><stop offset=".138" stop-color="#00ffc9"/><stop offset=".184" stop-color="#00fbe2"/><stop offset=".264" stop-color="#00fed4"/><stop offset=".374" stop-color="#00ffb1"/><stop offset=".414" stop-color="#00ff9e"/><stop offset=".506" stop-color="#00ff95"/><stop offset=".557" stop-color="#00ff8d"/><stop offset=".609" stop-color="#00ff89"/><stop offset=".661" stop-color="#00ff64"/><stop offset=".718" stop-color="#00ff61"/><stop offset=".793" stop-color="#00ff48"/><stop offset=".885" stop-color="#00ff4d"/><stop offset=".914" stop-color="#00ff4c"/><stop offset="1" stop-color="#03ff3a"/></linearGradient><linearGradient id="g364"><stop offset="0" stop-color="#00fdda"/><stop offset=".069" stop-color="#00f9ec"/><stop offset=".121" stop-color="#00ffd2"/><stop offset=".184" stop-color="#00fcde"/><stop offset=".241" stop-color="#00ffca"/><stop offset=".345" stop-color="#00ffb6"/><stop offset=".448" stop-color="#00ffa0"/><stop offset=".494" stop-color="#00ff9f"/><stop offset=".575" stop-color="#00ff81"/><stop offset=".667" stop-color="#00ff65"/><stop offset=".724" stop-color="#00ff6b"/><stop offset=".793" stop-color="#00ff46"/><stop offset=".868" stop-color="#02ff3d"/><stop offset=".908" stop-color="#00ff44"/><stop offset="1" stop-color="#03ff39"/></linearGradient><linearGradient id="g365"><stop offset="0" stop-color="#00ffcc"/><stop offset=".052" stop-color="#00f8ee"/><stop offset=".132" stop-color="#00fed7"/><stop offset=".19" stop-color="#00fae5"/><stop offset=".287" stop-color="#00ffbf"/><stop offset=".322" stop-color="#00ffb3"/><stop offset=".408" stop-color="#00ffaf"/><stop offset=".46" stop-color="#00ffa1"/><stop offset=".523" stop-color="#00ff90"/><stop offset=".563" stop-color="#00ff7e"/><stop offset=".661" stop-color="#00ff63"/><stop offset=".73" stop-color="#00ff62"/><stop offset=".793" stop-color="#00ff49"/><stop offset=".828" stop-color="#00ff45"/><stop offset=".856" stop-color="#07ff32"/><stop offset=".954" stop-color="#00ff44"/><stop offset=".994" stop-color="#03ff3a"/><stop offset="1" stop-color="#03ff3a"/></linearGradient><linearGradient id="g366"><stop offset="0" stop-color="#00ffd1"/><stop offset=".046" stop-color="#00fae8"/><stop offset=".149" stop-color="#00fcdd"/><stop offset=".201" stop-color="#00fae5"/><stop offset=".293" stop-color="#00ffc0"/><stop offset=".328" stop-color="#00ffb5"/><stop offset=".385" stop-color="#00ffb8"/><stop offset=".443" stop-color="#00ff9b"/><stop offset=".477" stop-color="#00ff91"/><stop offset=".511" stop-color="#00ff90"/><stop offset=".557" stop-color="#00ff7a"/><stop offset=".661" stop-color="#00ff67"/><stop offset=".73" stop-color="#00ff5b"/><stop offset=".776" stop-color="#00ff4b"/><stop offset=".828" stop-color="#00ff4d"/><stop offset=".862" stop-color="#05ff37"/><stop offset=".931" stop-color="#00ff49"/><stop offset=".983" stop-color="#02ff3b"/><stop offset="1" stop-color="#00ff40"/></linearGradient><linearGradient id="g367"><stop offset="0" stop-color="#00fdd9"/><stop offset=".052" stop-color="#00fbe0"/><stop offset=".207" stop-color="#00fcdd"/><stop offset=".27" stop-color="#00ffcd"/><stop offset=".328" stop-color="#00ffbd"/><stop offset=".42" stop-color="#00ffaa"/><stop offset=".466" stop-color="#00ff89"/><stop offset=".511" stop-color="#00ff8c"/><stop offset=".563" stop-color="#00ff7c"/><stop offset=".592" stop-color="#00ff6d"/><stop offset=".644" stop-color="#00ff6e"/><stop offset=".713" stop-color="#00ff5e"/><stop offset=".787" stop-color="#00ff4f"/><stop offset=".851" stop-color="#00ff49"/><stop offset=".891" stop-color="#00ff4c"/><stop offset=".925" stop-color="#00ff52"/><stop offset=".971" stop-color="#02ff3b"/><stop offset="1" stop-color="#00ff45"/></linearGradient><linearGradient id="g368"><stop offset="0" stop-color="#00fdd8"/><stop offset=".08" stop-color="#00fcdd"/><stop offset=".121" stop-color="#00fbe0"/><stop offset=".23" stop-color="#00ffcf"/><stop offset=".264" stop-color="#00ffc0"/><stop offset=".391" stop-color="#00ffb2"/><stop offset=".454" stop-color="#00ff92"/><stop offset=".563" stop-color="#00ff82"/><stop offset=".592" stop-color="#00ff6a"/><stop offset=".638" stop-color="#00ff71"/><stop offset=".713" stop-color="#00ff5c"/><stop offset=".983" stop-color="#00ff48"/><stop offset="1" stop-color="#00ff49"/></linearGradient><linearGradient id="g369"><stop offset="0" stop-color="#00fdd8"/><stop offset=".075" stop-color="#00fdd8"/><stop offset=".103" stop-color="#00fcde"/><stop offset=".155" stop-color="#00ffce"/><stop offset=".218" stop-color="#00fdd8"/><stop offset=".287" stop-color="#00ffb4"/><stop offset=".385" stop-color="#00ffb2"/><stop offset=".437" stop-color="#00ff98"/><stop offset=".517" stop-color="#00ff90"/><stop offset=".586" stop-color="#00ff70"/><stop offset=".69" stop-color="#00ff67"/><stop offset=".747" stop-color="#00ff55"/><stop offset=".787" stop-color="#00ff58"/><stop offset=".943" stop-color="#01ff3d"/><stop offset="1" stop-color="#00ff4e"/></linearGradient><linearGradient id="g370"><stop offset="0" stop-color="#00fed4"/><stop offset=".052" stop-color="#00fdd9"/><stop offset=".103" stop-color="#00fed6"/><stop offset=".149" stop-color="#00ffc1"/><stop offset=".195" stop-color="#00fed6"/><stop offset=".241" stop-color="#00ffce"/><stop offset=".385" stop-color="#00ffae"/><stop offset=".477" stop-color="#00ff95"/><stop offset=".506" stop-color="#00ff9a"/><stop offset=".557" stop-color="#00ff71"/><stop offset=".626" stop-color="#00ff67"/><stop offset=".667" stop-color="#00ff6b"/><stop offset=".747" stop-color="#00ff5a"/><stop offset=".787" stop-color="#00ff59"/><stop offset=".868" stop-color="#00ff46"/><stop offset=".914" stop-color="#04ff38"/><stop offset=".943" stop-color="#06ff34"/><stop offset=".983" stop-color="#00ff45"/><stop offset="1" stop-color="#00ff44"/></linearGradient><linearGradient id="g371"><stop offset="0" stop-color="#00fed3"/><stop offset=".086" stop-color="#00fdd8"/><stop offset=".126" stop-color="#00ffc4"/><stop offset=".287" stop-color="#00ffd0"/><stop offset=".351" stop-color="#00ffad"/><stop offset=".397" stop-color="#00ffb3"/><stop offset=".477" stop-color="#00ff8d"/><stop offset=".506" stop-color="#00ff8f"/><stop offset=".552" stop-color="#00ff6f"/><stop offset=".615" stop-color="#00ff63"/><stop offset=".667" stop-color="#00ff67"/><stop offset=".77" stop-color="#00ff51"/><stop offset=".816" stop-color="#00ff3f"/><stop offset=".856" stop-color="#00ff47"/><stop offset=".948" stop-color="#00ff44"/><stop offset=".977" stop-color="#00ff45"/><stop offset="1" stop-color="#02ff3d"/></linearGradient><linearGradient id="g372"><stop offset="0" stop-color="#00fed5"/><stop offset=".052" stop-color="#00fed5"/><stop offset=".08" stop-color="#00fed5"/><stop offset=".115" stop-color="#00ffc7"/><stop offset=".155" stop-color="#00ffcf"/><stop offset=".195" stop-color="#00ffc3"/><stop offset=".282" stop-color="#00ffc9"/><stop offset=".345" stop-color="#00ffa5"/><stop offset=".402" stop-color="#00ffa7"/><stop offset=".517" stop-color="#00ff78"/><stop offset=".598" stop-color="#00ff61"/><stop offset=".644" stop-color="#00ff63"/><stop offset=".707" stop-color="#00ff5b"/><stop offset=".736" stop-color="#00ff64"/><stop offset=".799" stop-color="#06ff34"/><stop offset=".828" stop-color="#00ff43"/><stop offset=".862" stop-color="#00ff4c"/><stop offset=".977" stop-color="#00ff46"/><stop offset="1" stop-color="#02ff3c"/></linearGradient><linearGradient id="g373"><stop offset="0" stop-color="#00ffcc"/><stop offset=".052" stop-color="#00ffcf"/><stop offset=".086" stop-color="#00ffd2"/><stop offset=".121" stop-color="#00ffcd"/><stop offset=".155" stop-color="#00ffcc"/><stop offset=".19" stop-color="#00ffbf"/><stop offset=".276" stop-color="#00ffc6"/><stop offset=".322" stop-color="#00ffae"/><stop offset=".385" stop-color="#00ff9f"/><stop offset=".448" stop-color="#00ff90"/><stop offset=".489" stop-color="#00ff85"/><stop offset=".575" stop-color="#00ff6f"/><stop offset=".603" stop-color="#00ff65"/><stop offset=".632" stop-color="#00ff64"/><stop offset=".707" stop-color="#00ff58"/><stop offset=".741" stop-color="#00ff61"/><stop offset=".793" stop-color="#02ff3d"/><stop offset=".822" stop-color="#00ff43"/><stop offset=".862" stop-color="#00ff52"/><stop offset=".92" stop-color="#00ff45"/><stop offset=".954" stop-color="#02ff3c"/><stop offset="1" stop-color="#03ff3a"/></linearGradient><linearGradient id="g374"><stop offset="0" stop-color="#00ffb2"/><stop offset=".069" stop-color="#00ffcf"/><stop offset=".115" stop-color="#00ffc5"/><stop offset=".236" stop-color="#00ffc4"/><stop offset=".264" stop-color="#00ffc5"/><stop offset=".299" stop-color="#00ffad"/><stop offset=".356" stop-color="#00ffa3"/><stop offset=".477" stop-color="#00ff87"/><stop offset=".523" stop-color="#00ff83"/><stop offset=".58" stop-color="#00ff76"/><stop offset=".667" stop-color="#00ff59"/><stop offset=".77" stop-color="#00ff53"/><stop offset=".828" stop-color="#00ff48"/><stop offset=".897" stop-color="#00ff58"/><stop offset=".948" stop-color="#05ff35"/><stop offset="1" stop-color="#03ff3a"/></linearGradient><linearGradient id="g375"><stop offset="0" stop-color="#00ffaf"/><stop offset=".057" stop-color="#00ffcb"/><stop offset=".092" stop-color="#00ffc5"/><stop offset=".132" stop-color="#00ffca"/><stop offset=".27" stop-color="#00ffac"/><stop offset=".305" stop-color="#00ffa1"/><stop offset=".368" stop-color="#00ffa3"/><stop offset=".414" stop-color="#00ff92"/><stop offset=".54" stop-color="#00ff81"/><stop offset=".678" stop-color="#00ff5a"/><stop offset=".747" stop-color="#00ff4f"/><stop offset=".856" stop-color="#00ff4b"/><stop offset=".897" stop-color="#00ff57"/><stop offset=".948" stop-color="#01ff3f"/><stop offset="1" stop-color="#03ff3b"/></linearGradient><linearGradient id="g376"><stop offset="0" stop-color="#00ffbc"/><stop offset=".069" stop-color="#00ffc7"/><stop offset=".126" stop-color="#00ffd0"/><stop offset=".184" stop-color="#00ffbe"/><stop offset=".218" stop-color="#00ffaa"/><stop offset=".374" stop-color="#00ffa3"/><stop offset=".42" stop-color="#00ff95"/><stop offset=".489" stop-color="#00ff8d"/><stop offset=".529" stop-color="#00ff83"/><stop offset=".563" stop-color="#00ff6d"/><stop offset=".655" stop-color="#00ff5c"/><stop offset=".701" stop-color="#00ff58"/><stop offset=".741" stop-color="#00ff4d"/><stop offset=".782" stop-color="#00ff51"/><stop offset=".868" stop-color="#00ff4d"/><stop offset="1" stop-color="#02ff3b"/></linearGradient><linearGradient id="g377"><stop offset="0" stop-color="#00ffcf"/><stop offset=".057" stop-color="#00ffca"/><stop offset=".132" stop-color="#00ffc0"/><stop offset=".178" stop-color="#00ffca"/><stop offset=".218" stop-color="#00ffa9"/><stop offset=".31" stop-color="#00ffb1"/><stop offset=".385" stop-color="#00ff9c"/><stop offset=".483" stop-color="#00ff84"/><stop offset=".523" stop-color="#00ff89"/><stop offset=".563" stop-color="#00ff60"/><stop offset=".672" stop-color="#00ff61"/><stop offset=".759" stop-color="#00ff57"/><stop offset=".805" stop-color="#00ff51"/><stop offset=".914" stop-color="#00ff47"/><stop offset=".948" stop-color="#00ff46"/><stop offset=".994" stop-color="#00ff3f"/><stop offset="1" stop-color="#00ff40"/></linearGradient><linearGradient id="g378"><stop offset="0" stop-color="#00fed5"/><stop offset=".046" stop-color="#00ffd1"/><stop offset=".092" stop-color="#00ffae"/><stop offset=".138" stop-color="#00ffb5"/><stop offset=".178" stop-color="#00ffca"/><stop offset=".23" stop-color="#00ffb6"/><stop offset=".356" stop-color="#00ffa0"/><stop offset=".414" stop-color="#00ff8f"/><stop offset=".454" stop-color="#00ff8a"/><stop offset=".489" stop-color="#00ff80"/><stop offset=".523" stop-color="#00ff84"/><stop offset=".563" stop-color="#00ff59"/><stop offset=".603" stop-color="#00ff58"/><stop offset=".649" stop-color="#00ff5e"/><stop offset=".718" stop-color="#00ff5c"/><stop offset=".764" stop-color="#00ff54"/><stop offset=".805" stop-color="#00ff53"/><stop offset=".879" stop-color="#00ff42"/><stop offset=".931" stop-color="#00ff50"/><stop offset=".983" stop-color="#00ff43"/><stop offset="1" stop-color="#00ff43"/></linearGradient><linearGradient id="g379"><stop offset="0" stop-color="#00ffcf"/><stop offset=".04" stop-color="#00ffcd"/><stop offset=".08" stop-color="#00ffac"/><stop offset=".103" stop-color="#00ffb2"/><stop offset=".144" stop-color="#00ffc1"/><stop offset=".207" stop-color="#00ffbd"/><stop offset=".241" stop-color="#00ffc1"/><stop offset=".385" stop-color="#00ff8e"/><stop offset=".437" stop-color="#00ff99"/><stop offset=".489" stop-color="#00ff84"/><stop offset=".534" stop-color="#00ff77"/><stop offset=".575" stop-color="#00ff53"/><stop offset=".609" stop-color="#00ff55"/><stop offset=".707" stop-color="#00ff57"/><stop offset=".764" stop-color="#00ff4e"/><stop offset=".799" stop-color="#00ff52"/><stop offset=".868" stop-color="#00ff40"/><stop offset=".925" stop-color="#00ff50"/><stop offset=".971" stop-color="#00ff42"/><stop offset="1" stop-color="#00ff4b"/></linearGradient><linearGradient id="g380"><stop offset="0" stop-color="#00ffbf"/><stop offset=".069" stop-color="#00ffc6"/><stop offset=".098" stop-color="#00ffbf"/><stop offset=".132" stop-color="#00ffd1"/><stop offset=".172" stop-color="#00ffb8"/><stop offset=".195" stop-color="#00ffac"/><stop offset=".241" stop-color="#00ffc4"/><stop offset=".374" stop-color="#00ff94"/><stop offset=".431" stop-color="#00ff95"/><stop offset=".489" stop-color="#00ff7f"/><stop offset=".534" stop-color="#00ff75"/><stop offset=".598" stop-color="#00ff53"/><stop offset=".661" stop-color="#00ff5c"/><stop offset=".759" stop-color="#00ff48"/><stop offset=".799" stop-color="#00ff52"/><stop offset=".839" stop-color="#00ff41"/><stop offset=".989" stop-color="#00ff4b"/><stop offset="1" stop-color="#00ff4f"/></linearGradient><linearGradient id="g381"><stop offset="0" stop-color="#00ffc4"/><stop offset=".075" stop-color="#00fed3"/><stop offset=".103" stop-color="#00ffc2"/><stop offset=".138" stop-color="#00fed3"/><stop offset=".195" stop-color="#00ffad"/><stop offset=".247" stop-color="#00ffc2"/><stop offset=".293" stop-color="#00ffa7"/><stop offset=".425" stop-color="#00ff8b"/><stop offset=".477" stop-color="#00ff74"/><stop offset=".517" stop-color="#00ff75"/><stop offset=".557" stop-color="#00ff60"/><stop offset=".598" stop-color="#00ff52"/><stop offset=".638" stop-color="#00ff58"/><stop offset=".678" stop-color="#00ff59"/><stop offset=".73" stop-color="#00ff46"/><stop offset=".776" stop-color="#00ff47"/><stop offset=".805" stop-color="#00ff4d"/><stop offset=".845" stop-color="#03ff3a"/><stop offset=".925" stop-color="#01ff3e"/><stop offset="1" stop-color="#00ff4e"/></linearGradient><linearGradient id="g382"><stop offset="0" stop-color="#00ffd1"/><stop offset=".08" stop-color="#00ffca"/><stop offset=".103" stop-color="#00ffbf"/><stop offset=".138" stop-color="#00ffcf"/><stop offset=".218" stop-color="#00ffb5"/><stop offset=".253" stop-color="#00ffba"/><stop offset=".333" stop-color="#00ff92"/><stop offset=".402" stop-color="#00ff85"/><stop offset=".437" stop-color="#00ff8b"/><stop offset=".483" stop-color="#00ff75"/><stop offset=".517" stop-color="#00ff72"/><stop offset=".546" stop-color="#00ff58"/><stop offset=".586" stop-color="#00ff57"/><stop offset=".626" stop-color="#00ff47"/><stop offset=".747" stop-color="#00ff4f"/><stop offset=".908" stop-color="#03ff3b"/><stop offset="1" stop-color="#00ff4f"/></linearGradient><linearGradient id="g383"><stop offset="0" stop-color="#00fddb"/><stop offset=".098" stop-color="#00ffbf"/><stop offset=".149" stop-color="#00ffc7"/><stop offset=".218" stop-color="#00ffbb"/><stop offset=".253" stop-color="#00ffb6"/><stop offset=".316" stop-color="#00ff8d"/><stop offset=".356" stop-color="#00ff87"/><stop offset=".391" stop-color="#00ff77"/><stop offset=".454" stop-color="#00ff83"/><stop offset=".529" stop-color="#00ff69"/><stop offset=".557" stop-color="#00ff5d"/><stop offset=".592" stop-color="#00ff57"/><stop offset=".649" stop-color="#00ff44"/><stop offset=".718" stop-color="#00ff50"/><stop offset=".747" stop-color="#00ff59"/><stop offset=".799" stop-color="#00ff47"/><stop offset=".948" stop-color="#00ff42"/><stop offset="1" stop-color="#00ff4b"/></linearGradient><linearGradient id="g384"><stop offset="0" stop-color="#00fcdd"/><stop offset=".109" stop-color="#00ffc5"/><stop offset=".149" stop-color="#00ffc8"/><stop offset=".184" stop-color="#00ffb7"/><stop offset=".23" stop-color="#00ffbd"/><stop offset=".276" stop-color="#00ffa2"/><stop offset=".305" stop-color="#00ff8c"/><stop offset=".356" stop-color="#00ff90"/><stop offset=".408" stop-color="#00ff74"/><stop offset=".443" stop-color="#00ff72"/><stop offset=".477" stop-color="#00ff79"/><stop offset=".517" stop-color="#00ff6c"/><stop offset=".586" stop-color="#00ff62"/><stop offset=".638" stop-color="#00ff4a"/><stop offset=".684" stop-color="#00ff51"/><stop offset=".713" stop-color="#00ff53"/><stop offset=".741" stop-color="#00ff5d"/><stop offset=".787" stop-color="#00ff4a"/><stop offset=".845" stop-color="#00ff4b"/><stop offset=".879" stop-color="#01ff3e"/><stop offset=".943" stop-color="#01ff3d"/><stop offset="1" stop-color="#03ff3a"/></linearGradient><linearGradient id="g385"><stop offset="0" stop-color="#00ffd1"/><stop offset=".069" stop-color="#00ffc9"/><stop offset=".115" stop-color="#00ffc9"/><stop offset=".149" stop-color="#00fed5"/><stop offset=".218" stop-color="#00ffb7"/><stop offset=".282" stop-color="#00ff9a"/><stop offset=".31" stop-color="#00ff8e"/><stop offset=".356" stop-color="#00ff9c"/><stop offset=".42" stop-color="#00ff69"/><stop offset=".443" stop-color="#00ff66"/><stop offset=".471" stop-color="#00ff78"/><stop offset=".511" stop-color="#00ff62"/><stop offset=".557" stop-color="#00ff6f"/><stop offset=".609" stop-color="#00ff5b"/><stop offset=".644" stop-color="#00ff4c"/><stop offset=".672" stop-color="#00ff5a"/><stop offset=".713" stop-color="#00ff53"/><stop offset=".753" stop-color="#00ff55"/><stop offset=".793" stop-color="#00ff4c"/><stop offset=".851" stop-color="#00ff50"/><stop offset=".925" stop-color="#05ff36"/><stop offset=".983" stop-color="#04ff37"/><stop offset="1" stop-color="#02ff3c"/></linearGradient><linearGradient id="g386"><stop offset="0" stop-color="#00ffc7"/><stop offset=".121" stop-color="#00ffc1"/><stop offset=".167" stop-color="#00ffd0"/><stop offset=".195" stop-color="#00ffc1"/><stop offset=".224" stop-color="#00ffac"/><stop offset=".264" stop-color="#00ffab"/><stop offset=".305" stop-color="#00ff8d"/><stop offset=".362" stop-color="#00ff93"/><stop offset=".414" stop-color="#00ff71"/><stop offset=".448" stop-color="#00ff69"/><stop offset=".483" stop-color="#00ff6c"/><stop offset=".523" stop-color="#00ff62"/><stop offset=".609" stop-color="#00ff5b"/><stop offset=".649" stop-color="#00ff4d"/><stop offset=".695" stop-color="#00ff54"/><stop offset=".764" stop-color="#00ff50"/><stop offset=".868" stop-color="#00ff4e"/><stop offset=".92" stop-color="#05ff35"/><stop offset=".989" stop-color="#02ff3c"/><stop offset="1" stop-color="#00ff3f"/></linearGradient><linearGradient id="g387"><stop offset="0" stop-color="#00ffcf"/><stop offset=".04" stop-color="#00ffce"/><stop offset=".08" stop-color="#00ffc3"/><stop offset=".184" stop-color="#00ffc4"/><stop offset=".218" stop-color="#00ffb1"/><stop offset=".259" stop-color="#00ffb0"/><stop offset=".316" stop-color="#00ff86"/><stop offset=".362" stop-color="#00ff8b"/><stop offset=".397" stop-color="#00ff78"/><stop offset=".425" stop-color="#00ff72"/><stop offset=".46" stop-color="#00ff62"/><stop offset=".5" stop-color="#00ff66"/><stop offset=".58" stop-color="#00ff45"/><stop offset=".69" stop-color="#00ff55"/><stop offset=".73" stop-color="#00ff50"/><stop offset=".764" stop-color="#00ff4f"/><stop offset=".805" stop-color="#00ff47"/><stop offset=".851" stop-color="#00ff4e"/><stop offset=".937" stop-color="#01ff3d"/><stop offset="1" stop-color="#00ff48"/></linearGradient></defs><rect x="396" y="943" width="348" height="9" fill="url(#g345)"/><rect x="396" y="951" width="348" height="9" fill="url(#g346)"/><rect x="396" y="959" width="348" height="9" fill="url(#g347)"/><rect x="396" y="967" width="348" height="9" fill="url(#g348)"/><rect x="396" y="975" width="348" height="9" fill="url(#g349)"/><rect x="396" y="983" width="348" height="9" fill="url(#g350)"/><rect x="396" y="991" width="348" height="9" fill="url(#g351)"/><rect x="396" y="999" width="348" height="9" fill="url(#g352)"/><rect x="396" y="1007" width="348" height="9" fill="url(#g353)"/><rect x="396" y="1015" width="348" height="9" fill="url(#g354)"/><rect x="396" y="1023" width="348" height="9" fill="url(#g355)"/><rect x="396" y="1031" width="348" height="9" fill="url(#g356)"/><rect x="396" y="1039" width="348" height="9" fill="url(#g357)"/><rect x="396" y="1047" width="348" height="9" fill="url(#g358)"/><rect x="396" y="1055" width="348" height="9" fill="url(#g359)"/><rect x="396" y="1063" width="348" height="9" fill="url(#g360)"/><rect x="396" y="1071" width="348" height="9" fill="url(#g361)"/><rect x="396" y="1079" width="348" height="9" fill="url(#g362)"/><rect x="396" y="1087" width="348" height="9" fill="url(#g363)"/><rect x="396" y="1095" width="348" height="9" fill="url(#g364)"/><rect x="396" y="1103" width="348" height="9" fill="url(#g365)"/><rect x="396" y="1111" width="348" height="9" fill="url(#g366)"/><rect x="396" y="1119" width="348" height="9" fill="url(#g367)"/><rect x="396" y="1127" width="348" height="9" fill="url(#g368)"/><rect x="396" y="1135" width="348" height="9" fill="url(#g369)"/><rect x="396" y="1143" width="348" height="9" fill="url(#g370)"/><rect x="396" y="1151" width="348" height="9" fill="url(#g371)"/><rect x="396" y="1159" width="348" height="9" fill="url(#g372)"/><rect x="396" y="1167" width="348" height="9" fill="url(#g373)"/><rect x="396" y="1175" width="348" height="9" fill="url(#g374)"/><rect x="396" y="1183" width="348" height="9" fill="url(#g375)"/><rect x="396" y="1191" width="348" height="9" fill="url(#g376)"/><rect x="396" y="1199" width="348" height="9" fill="url(#g377)"/><rect x="396" y="1207" width="348" height="9" fill="url(#g378)"/><rect x="396" y="1215" width="348" height="9" fill="url(#g379)"/><rect x="396" y="1223" width="348" height="9" fill="url(#g380)"/><rect x="396" y="1231" width="348" height="9" fill="url(#g381)"/><rect x="396" y="1239" width="348" height="9" fill="url(#g382)"/><rect x="396" y="1247" width="348" height="9" fill="url(#g383)"/><rect x="396" y="1255" width="348" height="9" fill="url(#g384)"/><rect x="396" y="1263" width="348" height="9" fill="url(#g385)"/><rect x="396" y="1271" width="348" height="9" fill="url(#g386)"/><rect x="396" y="1279" width="348" height="9" fill="url(#g387)"/></g><g fill="none" stroke="#0a5a14" stroke-width="1.8" stroke-opacity="0.4" stroke-linejoin="round"><path d="M535.4,956.0 532.3,955.8 531.5,954.8 529.9,950.8 530.2,948.8 532.4,945.9 533.7,946.8 534.4,949.1 535.2,948.8 538.4,943.7 539.4,943.7 545.0,948.8 544.9,949.8 541.4,953.4 535.4,956.0"/><path d="M494.6,1290.8 494.5,1286.8 491.8,1284.8 491.2,1279.8 493.1,1273.8 489.4,1268.6 485.0,1265.8 486.4,1262.0 491.4,1260.6 493.9,1255.8 493.4,1250.6 488.4,1251.9 487.2,1250.8 487.4,1248.8 490.4,1247.4 494.4,1247.3 496.4,1244.5 500.4,1242.1 501.0,1240.8 500.4,1239.1 491.4,1240.5 490.9,1239.8 492.5,1235.8 492.7,1232.8 495.4,1229.8 500.3,1233.8 501.4,1238.4 503.6,1236.8 502.6,1234.8 503.4,1234.3 509.4,1233.6 510.4,1230.1 513.4,1230.4 514.5,1231.8 513.4,1233.5 510.4,1234.0 510.5,1235.8 511.4,1236.6 517.4,1232.8 521.4,1233.8 521.8,1232.8 518.2,1228.8 513.4,1228.3 510.4,1226.9 508.8,1223.8 506.4,1222.3 505.4,1218.9 502.4,1216.7 492.4,1216.9 490.7,1215.8 490.3,1213.8 491.4,1212.3 497.4,1208.3 500.4,1211.8 506.7,1212.8 512.4,1215.0 514.4,1215.0 517.4,1212.2 520.4,1211.6 527.4,1206.3 531.2,1199.8 530.4,1195.2 528.4,1194.5 526.5,1190.8 526.3,1189.8 528.4,1186.8 528.1,1185.8 522.4,1185.1 519.4,1186.8 516.7,1183.8 515.4,1183.5 512.8,1186.8 514.6,1189.8 513.2,1193.8 506.4,1196.9 498.4,1197.2 494.4,1196.0 493.1,1197.8 494.0,1202.8 492.4,1204.6 488.4,1201.4 487.4,1201.7 484.8,1203.8 483.4,1208.3 481.4,1208.2 478.4,1206.3 477.4,1206.6 476.0,1210.8 474.4,1211.5 467.9,1208.8 463.8,1204.8 463.0,1196.8 461.2,1192.8 461.2,1187.8 465.4,1189.4 467.1,1188.8 468.4,1185.8 473.4,1187.6 479.4,1186.1 484.4,1186.7 488.1,1185.8 501.3,1173.8 501.5,1170.8 502.3,1169.8 505.4,1170.5 506.7,1169.8 507.4,1166.8 505.4,1165.8 501.8,1165.8 501.2,1164.8 502.0,1163.8 508.4,1158.7 512.4,1157.4 517.4,1153.7 520.3,1155.8 520.5,1160.8 521.4,1161.7 525.4,1163.5 529.4,1163.8 530.6,1164.8 532.2,1167.8 531.4,1171.8 532.4,1173.3 534.4,1170.8 537.9,1168.8 537.2,1165.8 539.3,1163.8 540.4,1158.8 543.7,1154.8 544.4,1151.5 545.4,1151.1 547.4,1155.3 549.4,1154.7 551.1,1153.8 552.4,1149.1 555.4,1148.9 556.5,1147.8 554.3,1144.8 549.4,1141.4 547.4,1141.4 544.4,1143.5 541.4,1143.3 536.6,1137.8 535.7,1128.8 537.4,1127.2 543.4,1127.4 544.9,1126.8 545.0,1124.8 546.9,1121.8 547.0,1118.8 548.1,1116.8 543.5,1113.8 543.2,1112.8 544.4,1111.6 548.4,1110.3 549.0,1108.8 548.4,1107.4 546.4,1106.8 542.4,1108.1 540.6,1106.8 540.4,1105.6 543.3,1100.8 538.4,1099.2 531.4,1102.6 525.4,1107.1 521.4,1107.6 517.4,1109.9 514.4,1108.4 512.4,1108.7 511.3,1110.8 511.4,1114.8 506.4,1117.8 504.4,1117.5 497.1,1112.8 496.5,1111.8 497.7,1107.8 497.4,1102.8 500.4,1100.0 507.4,1100.8 512.4,1103.3 514.4,1103.0 515.5,1101.8 515.7,1098.8 519.0,1095.8 521.4,1090.4 522.4,1089.6 525.4,1089.2 528.4,1086.8 528.0,1084.8 525.6,1081.8 526.6,1079.8 525.7,1078.8 523.4,1077.6 520.4,1077.6 515.5,1072.8 515.2,1067.8 516.4,1067.0 519.4,1066.1 522.4,1068.4 526.4,1068.1 528.7,1070.8 531.4,1072.4 536.4,1072.8 538.8,1074.8 540.5,1077.8 544.4,1080.1 547.4,1077.9 549.4,1077.5 555.4,1079.1 560.4,1081.7 562.4,1081.8 563.6,1080.8 566.4,1074.3 570.4,1072.2 572.4,1072.2 573.1,1070.8 572.4,1070.2 570.4,1071.5 569.4,1071.4 567.9,1069.8 568.4,1067.8 571.4,1063.8 570.0,1061.8 570.4,1059.9 571.9,1059.8 572.4,1060.8 571.5,1063.8 574.4,1066.5 576.3,1064.8 576.2,1062.8 574.2,1058.8 574.1,1055.8 572.2,1052.8 572.8,1051.8 574.4,1051.1 575.4,1051.5 576.4,1054.8 577.4,1054.6 583.4,1049.6 594.0,1045.8 594.9,1042.8 594.4,1040.6 582.4,1040.5 581.4,1039.7 579.8,1035.8 578.4,1034.6 576.4,1034.7 573.7,1036.8 572.4,1036.7 571.4,1035.8 572.2,1029.8 571.4,1028.7 566.4,1027.5 565.2,1022.8 566.4,1014.6 569.4,1014.9 571.5,1016.8 569.9,1020.8 571.4,1023.6 575.4,1024.6 576.4,1026.8 578.4,1028.5 584.4,1029.3 591.5,1027.8 592.3,1026.8 591.0,1021.8 593.4,1019.7 601.4,1017.0 602.8,1017.8 603.0,1018.8 601.0,1021.8 601.4,1022.7 602.4,1022.7 604.4,1021.5 607.2,1017.8 603.4,1014.8 598.4,1013.2 597.4,1009.8 600.4,1003.0 606.4,1002.2 607.4,999.2 610.4,996.8 610.2,994.8 607.4,993.7 600.4,995.8 597.4,995.2 593.4,992.4 590.4,991.9 589.2,986.8 589.4,985.8 590.4,985.9 593.4,987.2 596.7,981.8 602.4,979.3 606.4,979.8 609.5,977.8 606.4,969.1 601.4,969.9 599.4,967.4 599.8,965.8 603.4,964.0 604.5,961.8 604.6,950.8 603.4,948.5 600.4,946.5 595.4,944.0 591.4,944.2 590.4,942.8"/><path d="M624.0,958.8 623.9,953.8 626.8,950.8 625.4,948.9 619.4,952.8 619.2,953.8 620.2,958.8 622.4,959.6 624.0,958.8"/><path d="M570.4,971.9 568.4,972.5 565.4,971.3 561.4,971.6 552.4,970.1 548.9,966.8 548.1,963.8 548.9,961.8 552.4,959.1 558.0,956.8 559.4,950.6 562.4,952.7 565.4,950.8 566.4,952.8 566.1,957.8 572.4,961.4 573.4,957.8 574.4,957.0 577.4,956.9 578.5,957.8 579.0,960.8 577.6,963.8 574.4,965.1 570.8,969.8 570.4,971.9"/><path d="M459.4,967.2 457.4,966.9 454.4,964.1 443.6,960.8 445.4,951.8 447.4,951.4 452.4,953.1 458.4,953.4 466.2,957.8 467.1,959.8 464.5,965.8 459.4,967.2"/><path d="M483.4,966.1 481.4,966.5 480.4,965.8 480.5,963.8 482.9,960.8 485.3,954.8 486.4,954.1 488.4,954.4 490.8,955.8 490.6,958.8 493.0,962.8 492.4,963.9 489.4,963.4 487.4,965.1 483.4,966.1"/><path d="M634.0,975.8 640.4,965.8 640.7,964.8 639.8,963.8 635.4,965.0 634.8,965.8 634.3,972.8 633.1,974.8 633.3,975.8 634.0,975.8"/><path d="M474.4,968.3 470.4,968.5 467.1,966.8 469.4,964.7 473.4,964.9 474.9,966.8 474.4,968.3"/><path d="M490.4,972.9 487.6,971.8 487.4,969.2 491.4,967.7 493.4,966.0 493.5,971.8 490.4,972.9"/><path d="M499.4,991.8 497.4,991.1 495.0,985.8 496.4,978.8 498.4,974.2 500.4,972.8 503.4,974.0 505.4,973.3 507.4,974.9 510.4,973.1 511.4,973.3 514.7,976.8 514.6,978.8 509.5,980.8 508.8,984.8 506.4,988.2 502.4,989.7 499.4,991.8"/><path d="M579.4,992.9 574.4,993.6 572.9,992.8 572.3,990.8 573.6,987.8 569.4,983.8 569.4,982.8 573.5,978.8 580.4,973.9 582.4,973.8 584.4,975.5 587.4,974.1 588.4,974.4 591.7,976.8 592.1,978.8 589.4,982.7 588.4,983.4 586.4,983.2 585.4,984.3 582.9,990.8 579.4,992.9"/><path d="M535.4,986.0 531.4,986.3 528.0,985.8 527.5,984.8 529.1,981.8 529.3,978.8 531.4,976.8 533.4,976.5 536.0,977.8 537.4,979.2 538.4,982.5 541.1,983.8 540.4,985.0 535.4,986.0"/><path d="M695.6,982.8 695.6,979.8 693.4,977.4 692.4,978.1 691.6,980.8 695.4,983.4 695.6,982.8"/><path d="M438.4,991.2 437.4,991.3 436.4,990.0 436.4,987.6 440.4,984.4 442.6,984.8 443.8,986.8 440.4,987.6 438.4,991.2"/><path d="M410.4,1016.4 406.4,1016.0 403.6,1010.8 405.4,1002.8 402.4,999.0 402.3,997.8 404.4,994.7 410.9,991.8 411.4,989.2 412.6,989.8 412.5,993.8 415.4,995.7 419.4,996.6 419.5,997.8 418.9,1001.8 416.4,1003.9 415.1,1010.8 410.4,1016.4"/><path d="M616.6,993.8 617.9,992.8 618.1,990.8 616.4,990.3 614.7,990.8 613.6,992.8 615.0,993.8 616.6,993.8"/><path d="M432.4,998.9 430.4,999.4 429.2,998.8 429.3,995.8 430.1,994.8 432.4,994.7 433.3,995.8 432.4,998.9"/><path d="M532.4,1030.6 528.4,1028.2 523.4,1029.4 522.7,1027.8 523.0,1023.8 526.0,1020.8 522.1,1017.8 522.6,1016.8 525.4,1015.5 526.1,1013.8 526.0,1007.8 524.6,1004.8 530.4,999.4 533.4,1000.3 534.8,1001.8 535.2,1006.8 537.3,1011.8 536.4,1013.1 532.7,1013.8 532.4,1015.3 535.4,1017.7 538.4,1016.1 542.4,1015.3 543.9,1019.8 547.0,1022.8 544.4,1025.3 541.4,1024.2 539.7,1024.8 532.4,1030.6"/><path d="M520.4,1015.6 519.4,1014.9 518.6,1011.8 517.2,1009.8 518.7,1006.8 516.6,1003.8 517.4,1002.5 519.8,1003.8 521.8,1008.8 520.4,1015.6"/><path d="M641.6,1010.8 644.1,1009.8 644.4,1005.5 643.4,1005.0 641.4,1005.7 639.4,1003.8 638.3,1005.8 639.4,1009.8 641.6,1010.8"/><path d="M620.2,1026.8 622.4,1025.8 623.7,1023.8 623.9,1016.8 620.4,1013.5 614.4,1011.5 611.5,1016.8 612.0,1019.8 615.4,1026.0 620.2,1026.8"/><path d="M466.4,1018.0 462.4,1018.3 460.4,1017.0 460.3,1015.8 461.9,1012.8 464.4,1012.2 469.4,1014.3 472.4,1012.9 474.7,1013.8 474.4,1015.3 470.4,1015.5 466.4,1018.0"/><path d="M440.4,1022.4 438.4,1022.3 435.4,1019.0 434.4,1016.5 434.4,1013.8 437.4,1015.9 442.9,1017.8 442.9,1019.8 440.4,1022.4"/><path d="M554.4,1021.4 551.4,1021.2 550.6,1017.8 552.4,1017.0 554.4,1017.6 555.6,1019.8 554.4,1021.4"/><path d="M515.4,1030.0 513.4,1029.6 513.4,1027.5 514.4,1027.2 516.4,1028.5 516.2,1029.8 515.4,1030.0"/><path d="M540.4,1036.2 537.4,1036.4 536.2,1035.8 537.1,1033.8 536.6,1029.8 538.4,1028.3 540.4,1028.8 539.9,1033.8 541.0,1035.8 540.4,1036.2"/><path d="M553.4,1065.1 551.9,1064.8 552.4,1060.8 549.2,1059.8 546.4,1056.2 542.2,1054.8 543.4,1052.9 547.4,1053.5 550.4,1052.0 551.1,1049.8 550.4,1048.0 549.4,1047.1 547.1,1046.8 543.4,1050.0 541.6,1048.8 540.6,1046.8 544.4,1045.2 546.3,1041.8 548.4,1040.2 551.4,1040.1 554.4,1037.8 558.9,1037.8 563.2,1034.8 564.2,1030.8 566.4,1030.0 565.9,1034.8 564.2,1036.8 564.4,1037.8 566.4,1039.6 568.4,1039.2 569.4,1041.1 569.4,1043.7 568.4,1044.9 564.4,1046.2 559.5,1050.8 559.6,1051.8 564.4,1054.7 568.4,1050.4 569.4,1050.1 570.9,1051.8 566.5,1056.8 558.4,1059.6 553.4,1065.1"/><path d="M495.4,1054.3 493.4,1054.6 490.4,1051.7 487.4,1050.7 485.5,1047.8 486.0,1045.8 488.2,1042.8 488.4,1039.6 490.4,1035.2 491.4,1034.6 493.4,1034.6 498.4,1036.3 499.8,1037.8 499.0,1040.8 495.8,1043.8 495.8,1044.8 497.6,1046.8 498.1,1050.8 497.4,1052.8 495.4,1054.3"/><path d="M654.6,1040.8 654.4,1038.1 652.2,1036.8 653.7,1040.8 654.6,1040.8"/><path d="M445.4,1049.5 443.4,1048.8 441.5,1046.8 442.2,1042.8 441.4,1038.5 448.4,1039.3 450.1,1040.8 449.2,1044.8 445.4,1049.5"/><path d="M538.4,1055.8 535.4,1055.2 533.0,1052.8 532.7,1048.8 531.0,1043.8 532.4,1041.9 533.7,1043.8 537.4,1044.4 540.2,1046.8 538.5,1050.8 540.1,1054.8 538.4,1055.8"/><path d="M603.7,1046.8 603.9,1044.8 602.4,1043.4 601.2,1044.8 601.3,1046.8 602.4,1047.6 603.7,1046.8"/><path d="M616.3,1063.8 617.5,1061.8 617.7,1057.8 620.0,1054.8 620.0,1053.8 615.0,1045.8 613.4,1044.9 611.4,1045.1 610.1,1045.8 608.9,1048.8 606.4,1050.8 606.5,1055.8 609.4,1057.9 612.4,1062.2 615.4,1064.2 616.3,1063.8"/><path d="M733.6,1075.8 734.7,1073.8 734.4,1071.7 733.4,1071.9 732.2,1073.8 732.2,1075.8 733.6,1075.8"/><path d="M514.4,1080.9 511.4,1081.2 506.4,1078.6 505.0,1076.8 505.5,1075.8 507.4,1074.7 508.7,1074.8 511.4,1077.6 515.1,1078.8 514.4,1080.9"/><path d="M607.7,1091.8 609.0,1090.8 609.1,1087.8 605.7,1083.8 606.4,1082.7 609.4,1081.7 611.0,1076.8 610.4,1075.8 602.4,1079.8 601.0,1081.8 600.5,1085.8 599.4,1087.0 596.4,1087.5 593.4,1086.0 592.7,1086.8 592.8,1088.8 593.4,1089.1 601.4,1091.6 607.7,1091.8"/><path d="M615.8,1083.8 616.7,1081.8 614.4,1079.9 611.1,1082.8 613.4,1084.3 615.8,1083.8"/><path d="M445.4,1098.0 439.4,1094.2 435.4,1093.2 433.3,1089.8 433.8,1087.8 441.4,1080.9 443.4,1081.8 448.3,1086.8 450.0,1089.8 450.5,1093.8 445.4,1098.0"/><path d="M529.2,1096.8 530.9,1095.8 531.0,1092.8 529.4,1091.3 527.4,1091.5 526.3,1093.8 527.4,1096.4 529.2,1096.8"/><path d="M560.0,1108.8 563.9,1105.8 566.4,1105.1 570.4,1106.5 574.5,1106.8 575.8,1105.8 576.4,1102.6 578.7,1100.8 578.4,1098.1 573.7,1095.8 569.4,1095.4 565.4,1093.3 558.4,1093.8 556.2,1095.8 552.8,1101.8 550.1,1104.8 552.1,1106.8 554.4,1106.5 557.4,1109.3 560.0,1108.8"/><path d="M483.4,1099.4 481.4,1099.3 480.4,1097.8 481.4,1094.9 482.4,1094.3 485.3,1096.8 483.4,1099.4"/><path d="M475.4,1101.0 470.4,1100.4 468.5,1098.8 467.9,1096.8 472.4,1095.0 475.7,1095.8 478.0,1097.8 478.0,1098.8 475.4,1101.0"/><path d="M569.6,1118.8 571.4,1115.8 570.4,1114.0 568.0,1115.8 568.4,1118.3 569.6,1118.8"/><path d="M515.4,1120.9 513.0,1119.8 512.4,1116.4 513.4,1116.2 515.6,1117.8 516.3,1119.8 515.4,1120.9"/><path d="M590.7,1131.8 590.9,1127.8 590.4,1126.7 588.4,1126.2 586.7,1128.8 586.6,1130.8 588.4,1132.5 590.7,1131.8"/><path d="M508.4,1143.8 502.4,1143.0 500.4,1141.6 496.4,1143.2 492.4,1142.3 490.4,1137.1 488.4,1136.7 485.4,1137.4 484.2,1136.8 481.5,1129.8 482.4,1128.5 484.4,1128.2 486.4,1131.1 488.4,1132.4 493.4,1132.0 495.4,1133.7 504.4,1134.3 511.4,1136.8 512.0,1138.8 511.2,1142.8 508.4,1143.8"/><path d="M571.8,1154.8 575.4,1153.2 577.3,1150.8 577.8,1147.8 577.3,1142.8 578.1,1138.8 576.4,1137.3 572.4,1138.2 569.4,1135.7 565.4,1138.5 561.0,1137.8 560.6,1138.8 563.4,1140.1 564.8,1143.8 565.1,1146.8 563.9,1149.8 564.4,1150.8 567.4,1154.1 570.4,1155.4 571.8,1154.8"/><path d="M434.4,1165.2 432.4,1164.8 431.7,1163.8 431.7,1159.8 435.1,1152.8 437.4,1151.3 440.7,1150.8 438.6,1146.8 442.8,1143.8 444.4,1140.6 450.4,1139.4 451.8,1139.8 452.5,1140.8 451.9,1144.8 452.9,1149.8 452.4,1151.7 449.4,1152.7 448.4,1156.0 443.4,1155.0 439.7,1156.8 436.0,1163.8 434.4,1165.2"/><path d="M524.4,1149.0 523.4,1147.8 526.1,1144.8 525.8,1141.8 529.8,1141.8 530.3,1143.8 529.4,1146.5 524.4,1149.0"/><path d="M548.5,1170.8 550.5,1168.8 550.9,1164.8 553.4,1162.8 552.4,1160.9 546.4,1157.0 543.0,1160.8 545.1,1164.8 543.9,1168.8 545.5,1170.8 548.5,1170.8"/><path d="M461.4,1173.4 456.4,1171.8 456.1,1167.8 457.4,1166.2 464.4,1164.8 465.5,1165.8 465.5,1166.8 463.2,1168.8 461.4,1173.4"/><path d="M396.4,1173.2 400.4,1173.2 403.4,1171.8 407.4,1174.9 409.2,1173.8 409.6,1172.8 408.9,1170.8 410.4,1169.6 412.1,1170.8 413.5,1174.8 409.5,1179.8 411.4,1182.3 409.5,1186.8 411.2,1191.8 410.8,1194.8 412.4,1195.9 412.7,1197.8 410.2,1198.8 408.4,1195.4 405.4,1194.8 403.4,1198.0 396.4,1200.0"/><path d="M507.5,1182.8 510.8,1180.8 513.4,1175.7 516.4,1174.8 516.9,1171.8 515.4,1169.8 510.4,1169.5 502.4,1173.8 501.9,1179.8 504.2,1181.8 507.5,1182.8"/><path d="M574.7,1175.8 574.8,1173.8 573.4,1172.7 572.1,1172.8 572.4,1174.9 574.7,1175.8"/><path d="M424.4,1192.5 423.4,1192.2 419.8,1187.8 419.8,1183.8 424.8,1181.8 432.4,1174.6 434.4,1174.1 435.8,1175.8 436.0,1178.8 424.4,1192.5"/><path d="M452.4,1183.0 449.6,1182.8 447.9,1180.8 451.4,1176.9 453.1,1180.8 452.4,1183.0"/><path d="M522.2,1183.8 522.4,1182.7 521.4,1181.8 519.5,1182.8 520.4,1184.0 522.2,1183.8"/><path d="M577.5,1210.8 583.4,1205.4 584.5,1201.8 583.4,1200.4 580.4,1199.8 578.4,1198.4 573.4,1200.2 572.4,1196.8 574.2,1189.8 576.4,1188.6 579.4,1189.7 580.9,1188.8 581.0,1187.8 577.4,1187.5 574.4,1185.3 572.6,1186.8 571.8,1188.8 565.6,1193.8 565.7,1197.8 566.8,1199.8 572.3,1202.8 572.7,1210.8 575.4,1211.6 577.5,1210.8"/><path d="M454.4,1189.3 453.0,1188.8 452.5,1187.8 453.4,1186.2 454.9,1186.8 454.4,1189.3"/><path d="M396.4,1221.3 402.4,1223.8 410.4,1222.6 412.8,1219.8 415.4,1211.5 422.9,1206.8 424.5,1202.8 427.4,1201.8 429.4,1201.9 432.4,1203.5 437.4,1200.7 439.4,1200.8 442.4,1203.0 445.4,1203.5 447.4,1208.6 448.9,1209.8 447.4,1211.9 447.3,1216.8 446.4,1217.8 440.4,1218.5 437.4,1217.0 435.4,1217.4 433.8,1221.8 429.4,1227.0 423.4,1226.1 419.4,1223.4 415.4,1223.0 413.4,1225.4 406.6,1228.8 407.1,1234.8 406.4,1236.0 405.4,1236.3 402.4,1234.5 399.4,1235.5 396.4,1235.2"/><path d="M537.3,1235.8 537.5,1233.8 539.3,1231.8 547.1,1228.8 552.4,1223.7 558.1,1221.8 557.9,1219.8 555.4,1217.0 553.2,1215.8 551.4,1211.1 550.4,1210.7 548.4,1211.8 544.4,1209.7 542.4,1210.3 542.7,1214.8 539.3,1219.8 537.9,1224.8 534.2,1228.8 530.1,1230.8 530.3,1232.8 532.4,1235.5 535.4,1236.5 537.3,1235.8"/><path d="M463.4,1239.1 461.4,1239.7 458.4,1238.8 457.2,1229.8 454.6,1224.8 456.4,1221.5 465.4,1219.3 466.4,1219.6 469.4,1225.8 472.6,1229.8 470.7,1233.8 463.4,1239.1"/><path d="M426.4,1254.3 424.5,1252.8 424.3,1247.8 427.0,1245.8 428.0,1242.8 430.4,1239.8 428.8,1236.8 428.8,1233.8 430.4,1232.2 432.4,1232.4 434.8,1234.8 434.7,1243.8 431.4,1249.7 426.4,1254.3"/><path d="M473.4,1245.8 468.9,1243.8 471.4,1235.6 472.4,1235.3 473.9,1236.8 472.7,1239.8 474.3,1244.8 473.4,1245.8"/><path d="M553.6,1250.8 554.9,1249.8 554.4,1247.0 550.4,1242.9 547.4,1242.3 541.0,1238.8 541.0,1240.8 542.9,1243.8 547.4,1247.7 551.3,1248.8 553.6,1250.8"/><path d="M460.4,1262.4 454.4,1259.8 453.6,1257.8 454.4,1255.8 456.4,1255.2 460.8,1255.8 461.9,1259.8 460.4,1262.4"/><path d="M524.2,1272.8 526.7,1268.8 527.1,1266.8 520.4,1259.6 518.8,1259.8 517.1,1261.8 513.1,1263.8 511.0,1265.8 511.3,1267.8 514.7,1271.8 520.4,1273.6 524.2,1272.8"/><path d="M410.4,1270.8 408.4,1270.8 408.2,1269.8 410.4,1265.8 412.4,1266.6 413.4,1268.8 410.4,1270.8"/><path d="M470.4,1277.9 469.4,1277.7 468.7,1274.8 469.2,1271.8 470.4,1269.8 476.4,1271.4 479.0,1268.8 479.2,1265.8 480.7,1265.8 481.7,1266.8 480.9,1271.8 477.4,1277.2 473.4,1276.2 470.4,1277.9"/><path d="M436.4,1277.0 434.4,1277.7 432.1,1275.8 433.4,1271.7 435.4,1271.8 436.9,1273.8 437.1,1275.8 436.4,1277.0"/></g></g><g clip-path="url(#c6)"><g filter="url(#b_row)"><defs><linearGradient id="g431"><stop offset="0" stop-color="#00ff6a"/><stop offset=".046" stop-color="#00ff5c"/><stop offset=".121" stop-color="#00ff56"/><stop offset=".172" stop-color="#07ff32"/><stop offset=".207" stop-color="#10ff20"/><stop offset=".356" stop-color="#21ff0f"/><stop offset=".5" stop-color="#20ff10"/><stop offset="1" stop-color="#21ff0f"/></linearGradient><linearGradient id="g432"><stop offset="0" stop-color="#00ff75"/><stop offset=".052" stop-color="#00ff61"/><stop offset=".121" stop-color="#00ff55"/><stop offset=".172" stop-color="#07ff32"/><stop offset=".207" stop-color="#0eff24"/><stop offset=".241" stop-color="#13ff1d"/><stop offset=".333" stop-color="#1eff12"/><stop offset=".483" stop-color="#20ff10"/><stop offset="1" stop-color="#21ff0f"/></linearGradient><linearGradient id="g433"><stop offset="0" stop-color="#00ff68"/><stop offset=".046" stop-color="#00ff6b"/><stop offset=".121" stop-color="#00ff54"/><stop offset=".172" stop-color="#07ff32"/><stop offset=".213" stop-color="#10ff20"/><stop offset=".299" stop-color="#1bff15"/><stop offset=".58" stop-color="#22ff0e"/><stop offset="1" stop-color="#22ff0e"/></linearGradient><linearGradient id="g434"><stop offset="0" stop-color="#00ff57"/><stop offset=".046" stop-color="#00ff68"/><stop offset=".115" stop-color="#00ff4d"/><stop offset=".218" stop-color="#14ff1c"/><stop offset=".523" stop-color="#23ff0d"/><stop offset="1" stop-color="#23ff0d"/></linearGradient><linearGradient id="g435"><stop offset="0" stop-color="#00ff53"/><stop offset=".063" stop-color="#00ff57"/><stop offset=".144" stop-color="#08ff30"/><stop offset=".178" stop-color="#10ff20"/><stop offset=".345" stop-color="#20ff10"/><stop offset="1" stop-color="#22ff0e"/></linearGradient><linearGradient id="g436"><stop offset="0" stop-color="#02ff3d"/><stop offset=".057" stop-color="#00ff4c"/><stop offset=".092" stop-color="#01ff3e"/><stop offset=".178" stop-color="#15ff1b"/><stop offset=".287" stop-color="#1fff11"/><stop offset=".753" stop-color="#1fff11"/><stop offset="1" stop-color="#22ff0e"/></linearGradient><linearGradient id="g437"><stop offset="0" stop-color="#0cff28"/><stop offset=".069" stop-color="#05ff35"/><stop offset=".138" stop-color="#0eff24"/><stop offset=".264" stop-color="#22ff0e"/><stop offset=".345" stop-color="#1fff11"/><stop offset="1" stop-color="#22ff0e"/></linearGradient><linearGradient id="g438"><stop offset="0" stop-color="#13ff1d"/><stop offset=".052" stop-color="#0cff27"/><stop offset=".121" stop-color="#13ff1d"/><stop offset=".195" stop-color="#1bff15"/><stop offset=".264" stop-color="#22ff0e"/><stop offset=".31" stop-color="#1dff13"/><stop offset=".69" stop-color="#20ff10"/><stop offset="1" stop-color="#23ff0d"/></linearGradient><linearGradient id="g439"><stop offset="0" stop-color="#13ff1d"/><stop offset=".092" stop-color="#1aff16"/><stop offset=".19" stop-color="#1eff12"/><stop offset=".27" stop-color="#26ff0a"/><stop offset=".494" stop-color="#23ff0d"/><stop offset="1" stop-color="#22ff0e"/></linearGradient><linearGradient id="g440"><stop offset="0" stop-color="#17ff19"/><stop offset=".109" stop-color="#1cff14"/><stop offset=".328" stop-color="#21ff0f"/><stop offset="1" stop-color="#22ff0e"/></linearGradient><linearGradient id="g441"><stop offset="0" stop-color="#1dff13"/><stop offset=".195" stop-color="#24ff0c"/><stop offset=".5" stop-color="#22ff0e"/><stop offset="1" stop-color="#24ff0c"/></linearGradient><linearGradient id="g442"><stop offset="0" stop-color="#20ff10"/><stop offset=".236" stop-color="#21ff0f"/><stop offset=".787" stop-color="#1fff11"/><stop offset="1" stop-color="#24ff0c"/></linearGradient><linearGradient id="g443"><stop offset="0" stop-color="#1dff13"/><stop offset=".282" stop-color="#22ff0e"/><stop offset="1" stop-color="#22ff0e"/></linearGradient><linearGradient id="g444"><stop offset="0" stop-color="#1cff14"/><stop offset=".201" stop-color="#26ff0a"/><stop offset=".489" stop-color="#22ff0e"/><stop offset=".73" stop-color="#1fff11"/><stop offset="1" stop-color="#1fff11"/></linearGradient><linearGradient id="g445"><stop offset="0" stop-color="#08ff30"/><stop offset=".075" stop-color="#0dff27"/><stop offset=".155" stop-color="#23ff0d"/><stop offset=".195" stop-color="#26ff0a"/><stop offset=".356" stop-color="#0bff2b"/><stop offset=".397" stop-color="#09ff2d"/><stop offset=".431" stop-color="#03ff3a"/><stop offset=".483" stop-color="#16ff1a"/><stop offset=".569" stop-color="#21ff0f"/><stop offset=".701" stop-color="#21ff0f"/><stop offset="1" stop-color="#1fff11"/></linearGradient><linearGradient id="g446"><stop offset="0" stop-color="#04f2f7"/><stop offset=".075" stop-color="#01f6f2"/><stop offset=".144" stop-color="#00fcdf"/><stop offset=".178" stop-color="#00ffce"/><stop offset=".213" stop-color="#00ffcb"/><stop offset=".247" stop-color="#00ffb7"/><stop offset=".287" stop-color="#00ffc0"/><stop offset=".345" stop-color="#00ffc9"/><stop offset=".385" stop-color="#00ffb7"/><stop offset=".42" stop-color="#00ffce"/><stop offset=".431" stop-color="#00ffc1"/><stop offset=".454" stop-color="#00ff7c"/><stop offset=".471" stop-color="#00ff46"/><stop offset=".494" stop-color="#10ff20"/><stop offset=".54" stop-color="#21ff0f"/><stop offset=".695" stop-color="#1dff13"/><stop offset=".902" stop-color="#23ff0d"/><stop offset="1" stop-color="#22ff0e"/></linearGradient><linearGradient id="g447"><stop offset="0" stop-color="#308cef"/><stop offset=".184" stop-color="#2e98f2"/><stop offset=".218" stop-color="#28aff8"/><stop offset=".27" stop-color="#13deff"/><stop offset=".316" stop-color="#06effb"/><stop offset=".385" stop-color="#03f3f6"/><stop offset=".408" stop-color="#00fbe4"/><stop offset=".431" stop-color="#00ffb9"/><stop offset=".466" stop-color="#00ff57"/><stop offset=".489" stop-color="#09ff2e"/><stop offset=".511" stop-color="#1aff16"/><stop offset=".569" stop-color="#20ff10"/><stop offset=".724" stop-color="#23ff0d"/><stop offset="1" stop-color="#20ff10"/></linearGradient><linearGradient id="g448"><stop offset="0" stop-color="#3074e9"/><stop offset=".132" stop-color="#3079ea"/><stop offset=".195" stop-color="#3090f0"/><stop offset=".27" stop-color="#18d9ff"/><stop offset=".299" stop-color="#06effb"/><stop offset=".351" stop-color="#07eefd"/><stop offset=".397" stop-color="#04f2f8"/><stop offset=".425" stop-color="#00fae7"/><stop offset=".454" stop-color="#00ffb4"/><stop offset=".483" stop-color="#00ff78"/><stop offset=".511" stop-color="#08ff30"/><stop offset=".529" stop-color="#14ff1c"/><stop offset=".609" stop-color="#1fff11"/><stop offset=".816" stop-color="#21ff0f"/><stop offset=".874" stop-color="#22ff0e"/><stop offset=".977" stop-color="#23ff0d"/><stop offset="1" stop-color="#1fff11"/></linearGradient><linearGradient id="g449"><stop offset="0" stop-color="#2ba5f5"/><stop offset=".069" stop-color="#2aaaf6"/><stop offset=".195" stop-color="#22befd"/><stop offset=".27" stop-color="#0fe4ff"/><stop offset=".316" stop-color="#03f3f6"/><stop offset=".391" stop-color="#07eefd"/><stop offset=".46" stop-color="#00f9ec"/><stop offset=".477" stop-color="#00ffd2"/><stop offset=".5" stop-color="#00ff96"/><stop offset=".546" stop-color="#06ff35"/><stop offset=".569" stop-color="#18ff18"/><stop offset=".615" stop-color="#22ff0e"/><stop offset=".741" stop-color="#22ff0e"/><stop offset=".874" stop-color="#21ff0f"/><stop offset=".96" stop-color="#27ff09"/><stop offset="1" stop-color="#21ff0f"/></linearGradient><linearGradient id="g450"><stop offset="0" stop-color="#2c9ef4"/><stop offset=".034" stop-color="#29acf7"/><stop offset=".08" stop-color="#18d7ff"/><stop offset=".155" stop-color="#10e2ff"/><stop offset=".293" stop-color="#05f0f9"/><stop offset=".477" stop-color="#01f6f3"/><stop offset=".506" stop-color="#00ffc9"/><stop offset=".54" stop-color="#00ff74"/><stop offset=".569" stop-color="#07ff31"/><stop offset=".586" stop-color="#17ff19"/><stop offset=".626" stop-color="#22ff0e"/><stop offset=".747" stop-color="#21ff0f"/><stop offset=".879" stop-color="#20ff10"/><stop offset="1" stop-color="#23ff0d"/></linearGradient><linearGradient id="g451"><stop offset="0" stop-color="#2c67ea"/><stop offset=".04" stop-color="#3073e9"/><stop offset=".092" stop-color="#26b4f9"/><stop offset=".138" stop-color="#0ee5ff"/><stop offset=".414" stop-color="#03f3f6"/><stop offset=".489" stop-color="#03f3f7"/><stop offset=".506" stop-color="#00fae7"/><stop offset=".523" stop-color="#00ffc2"/><stop offset=".575" stop-color="#00ff42"/><stop offset=".598" stop-color="#15ff1b"/><stop offset=".638" stop-color="#1fff11"/><stop offset=".707" stop-color="#20ff10"/><stop offset="1" stop-color="#25ff0b"/></linearGradient><linearGradient id="g452"><stop offset="0" stop-color="#255aed"/><stop offset=".08" stop-color="#2e6ce9"/><stop offset=".132" stop-color="#2e9af2"/><stop offset=".178" stop-color="#18d7ff"/><stop offset=".333" stop-color="#05f1f9"/><stop offset=".506" stop-color="#03f4f6"/><stop offset=".529" stop-color="#00fbe2"/><stop offset=".575" stop-color="#00ff89"/><stop offset=".609" stop-color="#03ff3b"/><stop offset=".632" stop-color="#13ff1d"/><stop offset=".695" stop-color="#24ff0c"/><stop offset=".741" stop-color="#20ff10"/><stop offset="1" stop-color="#25ff0b"/></linearGradient><linearGradient id="g453"><stop offset="0" stop-color="#2559ee"/><stop offset=".144" stop-color="#2d6be9"/><stop offset=".195" stop-color="#2f94f1"/><stop offset=".253" stop-color="#28b0f8"/><stop offset=".368" stop-color="#0be9ff"/><stop offset=".54" stop-color="#01f7f1"/><stop offset=".58" stop-color="#00fddb"/><stop offset=".609" stop-color="#00ffa5"/><stop offset=".649" stop-color="#00ff50"/><stop offset=".672" stop-color="#0cff28"/><stop offset=".695" stop-color="#1aff16"/><stop offset=".822" stop-color="#20ff10"/><stop offset="1" stop-color="#25ff0b"/></linearGradient><linearGradient id="g454"><stop offset="0" stop-color="#2356ee"/><stop offset=".184" stop-color="#2c68ea"/><stop offset=".247" stop-color="#3084ed"/><stop offset=".345" stop-color="#1bd1ff"/><stop offset=".391" stop-color="#07eefc"/><stop offset=".603" stop-color="#00f8ee"/><stop offset=".649" stop-color="#00ffc3"/><stop offset=".724" stop-color="#00ff43"/><stop offset=".764" stop-color="#15ff1b"/><stop offset=".891" stop-color="#22ff0e"/><stop offset="1" stop-color="#1fff11"/></linearGradient><linearGradient id="g455"><stop offset="0" stop-color="#2254ef"/><stop offset=".121" stop-color="#285fec"/><stop offset=".213" stop-color="#2e6ce9"/><stop offset=".287" stop-color="#2c9ff4"/><stop offset=".368" stop-color="#11e1ff"/><stop offset=".402" stop-color="#05f0fa"/><stop offset=".672" stop-color="#00f8ef"/><stop offset=".736" stop-color="#00ffc3"/><stop offset=".799" stop-color="#00ff4c"/><stop offset=".828" stop-color="#10ff20"/><stop offset=".874" stop-color="#22ff0e"/><stop offset="1" stop-color="#1cff14"/></linearGradient><linearGradient id="g456"><stop offset="0" stop-color="#2457ee"/><stop offset=".213" stop-color="#2d6aea"/><stop offset=".282" stop-color="#2d9bf3"/><stop offset=".368" stop-color="#12e0ff"/><stop offset=".397" stop-color="#05f0fa"/><stop offset=".678" stop-color="#00f7f1"/><stop offset=".707" stop-color="#00fae8"/><stop offset=".736" stop-color="#00f7f1"/><stop offset=".759" stop-color="#00fed3"/><stop offset=".822" stop-color="#00ff40"/><stop offset=".845" stop-color="#17ff19"/><stop offset=".879" stop-color="#21ff0f"/><stop offset="1" stop-color="#21ff0f"/></linearGradient><linearGradient id="g457"><stop offset="0" stop-color="#285fec"/><stop offset=".178" stop-color="#2c67ea"/><stop offset=".236" stop-color="#3077ea"/><stop offset=".322" stop-color="#23bdfd"/><stop offset=".368" stop-color="#12e0ff"/><stop offset=".397" stop-color="#05f1f9"/><stop offset=".575" stop-color="#02f5f4"/><stop offset=".649" stop-color="#00fae6"/><stop offset=".73" stop-color="#00ffba"/><stop offset=".776" stop-color="#00ff71"/><stop offset=".81" stop-color="#05ff37"/><stop offset=".828" stop-color="#13ff1d"/><stop offset=".874" stop-color="#21ff0f"/><stop offset=".943" stop-color="#1fff11"/><stop offset=".994" stop-color="#20ff10"/><stop offset="1" stop-color="#20ff10"/></linearGradient><linearGradient id="g458"><stop offset="0" stop-color="#3073e9"/><stop offset=".086" stop-color="#2f6de9"/><stop offset=".218" stop-color="#307fec"/><stop offset=".31" stop-color="#24b9fb"/><stop offset=".374" stop-color="#0de6ff"/><stop offset=".431" stop-color="#04f3f7"/><stop offset=".529" stop-color="#00f8f1"/><stop offset=".563" stop-color="#00ffca"/><stop offset=".638" stop-color="#00ff6e"/><stop offset=".672" stop-color="#00ff4d"/><stop offset=".73" stop-color="#11ff1f"/><stop offset=".851" stop-color="#22ff0e"/><stop offset=".954" stop-color="#1dff13"/><stop offset="1" stop-color="#21ff0f"/></linearGradient><linearGradient id="g459"><stop offset="0" stop-color="#25b7fa"/><stop offset=".103" stop-color="#27b3f9"/><stop offset=".236" stop-color="#21c0fe"/><stop offset=".339" stop-color="#0de5ff"/><stop offset=".477" stop-color="#02f5f3"/><stop offset=".506" stop-color="#00fed4"/><stop offset=".54" stop-color="#00ff8e"/><stop offset=".563" stop-color="#00ff50"/><stop offset=".598" stop-color="#10ff20"/><stop offset=".667" stop-color="#1eff12"/><stop offset=".897" stop-color="#20ff10"/><stop offset=".971" stop-color="#20ff10"/><stop offset="1" stop-color="#27ff09"/></linearGradient><linearGradient id="g460"><stop offset="0" stop-color="#10e2ff"/><stop offset=".425" stop-color="#05f1f9"/><stop offset=".46" stop-color="#00f7f1"/><stop offset=".494" stop-color="#00ffb7"/><stop offset=".523" stop-color="#00ff74"/><stop offset=".546" stop-color="#02ff3b"/><stop offset=".563" stop-color="#14ff1c"/><stop offset=".603" stop-color="#23ff0d"/><stop offset=".845" stop-color="#22ff0e"/><stop offset=".977" stop-color="#22ff0e"/><stop offset="1" stop-color="#27ff09"/></linearGradient><linearGradient id="g461"><stop offset="0" stop-color="#0ee4ff"/><stop offset=".259" stop-color="#09ebff"/><stop offset=".443" stop-color="#04f2f8"/><stop offset=".46" stop-color="#00fae7"/><stop offset=".506" stop-color="#00ff88"/><stop offset=".529" stop-color="#00ff4c"/><stop offset=".557" stop-color="#16ff1a"/><stop offset=".592" stop-color="#26ff0a"/><stop offset=".839" stop-color="#1fff11"/><stop offset="1" stop-color="#1eff12"/></linearGradient><linearGradient id="g462"><stop offset="0" stop-color="#0de6ff"/><stop offset=".299" stop-color="#05f0fa"/><stop offset=".448" stop-color="#03f3f6"/><stop offset=".466" stop-color="#00fbe1"/><stop offset=".529" stop-color="#00ff45"/><stop offset=".557" stop-color="#17ff19"/><stop offset=".603" stop-color="#25ff0b"/><stop offset=".799" stop-color="#23ff0d"/><stop offset=".908" stop-color="#22ff0e"/><stop offset="1" stop-color="#1cff14"/></linearGradient><linearGradient id="g463"><stop offset="0" stop-color="#09ebff"/><stop offset=".075" stop-color="#0ce8ff"/><stop offset=".299" stop-color="#05f1f9"/><stop offset=".448" stop-color="#03f3f6"/><stop offset=".466" stop-color="#00fae6"/><stop offset=".483" stop-color="#00ffbc"/><stop offset=".523" stop-color="#00ff4b"/><stop offset=".546" stop-color="#10ff21"/><stop offset=".615" stop-color="#23ff0d"/><stop offset=".741" stop-color="#20ff10"/><stop offset=".966" stop-color="#20ff10"/><stop offset="1" stop-color="#1cff14"/></linearGradient><linearGradient id="g464"><stop offset="0" stop-color="#08ecfe"/><stop offset=".057" stop-color="#0fe3ff"/><stop offset=".236" stop-color="#09ebff"/><stop offset=".454" stop-color="#02f6f3"/><stop offset=".471" stop-color="#00fbe4"/><stop offset=".489" stop-color="#00ffbb"/><stop offset=".529" stop-color="#00ff47"/><stop offset=".552" stop-color="#11ff1f"/><stop offset=".649" stop-color="#22ff0e"/><stop offset=".966" stop-color="#1fff11"/><stop offset="1" stop-color="#1eff12"/></linearGradient><linearGradient id="g465"><stop offset="0" stop-color="#0de5ff"/><stop offset=".063" stop-color="#0fe4ff"/><stop offset=".218" stop-color="#09ebff"/><stop offset=".391" stop-color="#04f1f8"/><stop offset=".471" stop-color="#00f8f1"/><stop offset=".494" stop-color="#00ffcc"/><stop offset=".529" stop-color="#00ff73"/><stop offset=".552" stop-color="#03ff3b"/><stop offset=".575" stop-color="#14ff1c"/><stop offset=".661" stop-color="#23ff0d"/><stop offset=".96" stop-color="#22ff0e"/><stop offset="1" stop-color="#21ff0f"/></linearGradient><linearGradient id="g466"><stop offset="0" stop-color="#0fe4ff"/><stop offset=".195" stop-color="#08ecff"/><stop offset=".259" stop-color="#0aeaff"/><stop offset=".483" stop-color="#01f7f2"/><stop offset=".506" stop-color="#00fdd8"/><stop offset=".563" stop-color="#00ff50"/><stop offset=".598" stop-color="#14ff1c"/><stop offset=".638" stop-color="#23ff0d"/><stop offset=".833" stop-color="#24ff0c"/><stop offset=".954" stop-color="#22ff0e"/><stop offset="1" stop-color="#1fff11"/></linearGradient><linearGradient id="g467"><stop offset="0" stop-color="#0ce7ff"/><stop offset=".144" stop-color="#0ce7ff"/><stop offset=".494" stop-color="#02f5f4"/><stop offset=".511" stop-color="#00fae9"/><stop offset=".563" stop-color="#00ff81"/><stop offset=".586" stop-color="#00ff4d"/><stop offset=".615" stop-color="#14ff1c"/><stop offset=".667" stop-color="#22ff0e"/><stop offset=".81" stop-color="#21ff0f"/><stop offset=".874" stop-color="#23ff0d"/><stop offset="1" stop-color="#1fff11"/></linearGradient><linearGradient id="g468"><stop offset="0" stop-color="#09ebff"/><stop offset=".103" stop-color="#0de6ff"/><stop offset=".172" stop-color="#0be8ff"/><stop offset=".517" stop-color="#01f6f2"/><stop offset=".557" stop-color="#00ffca"/><stop offset=".626" stop-color="#03ff3b"/><stop offset=".649" stop-color="#16ff1a"/><stop offset=".69" stop-color="#1fff11"/><stop offset=".822" stop-color="#23ff0d"/><stop offset=".948" stop-color="#22ff0e"/><stop offset="1" stop-color="#22ff0e"/></linearGradient><linearGradient id="g469"><stop offset="0" stop-color="#0ae9ff"/><stop offset=".161" stop-color="#0de5ff"/><stop offset=".293" stop-color="#08ecfe"/><stop offset=".333" stop-color="#08ecff"/><stop offset=".368" stop-color="#03f4f5"/><stop offset=".448" stop-color="#05f1f9"/><stop offset=".569" stop-color="#01f6f2"/><stop offset=".609" stop-color="#00ffbc"/><stop offset=".644" stop-color="#00ff6e"/><stop offset=".672" stop-color="#08ff30"/><stop offset=".69" stop-color="#13ff1d"/><stop offset=".747" stop-color="#1cff14"/><stop offset=".943" stop-color="#25ff0b"/><stop offset="1" stop-color="#22ff0e"/></linearGradient><linearGradient id="g470"><stop offset="0" stop-color="#1ccfff"/><stop offset=".126" stop-color="#19d6ff"/><stop offset=".305" stop-color="#17d9ff"/><stop offset=".391" stop-color="#12dfff"/><stop offset=".546" stop-color="#11e1ff"/><stop offset=".586" stop-color="#0ee5ff"/><stop offset=".632" stop-color="#01f6f3"/><stop offset=".655" stop-color="#00ffcd"/><stop offset=".707" stop-color="#00ff56"/><stop offset=".736" stop-color="#08ff30"/><stop offset=".793" stop-color="#1aff16"/><stop offset=".943" stop-color="#26ff0a"/><stop offset="1" stop-color="#20ff10"/></linearGradient><linearGradient id="g471"><stop offset="0" stop-color="#29acf7"/><stop offset=".149" stop-color="#24b9fb"/><stop offset=".408" stop-color="#22bffd"/><stop offset=".58" stop-color="#20c4ff"/><stop offset=".649" stop-color="#0ee5ff"/><stop offset=".69" stop-color="#00f8f1"/><stop offset=".753" stop-color="#00ffb6"/><stop offset=".822" stop-color="#00ff4a"/><stop offset=".862" stop-color="#11ff1f"/><stop offset=".948" stop-color="#22ff0e"/><stop offset=".989" stop-color="#22ff0e"/><stop offset="1" stop-color="#25ff0b"/></linearGradient><linearGradient id="g472"><stop offset="0" stop-color="#29abf7"/><stop offset=".08" stop-color="#29aaf7"/><stop offset=".155" stop-color="#28aef8"/><stop offset=".489" stop-color="#27b3f9"/><stop offset=".598" stop-color="#22c0fd"/><stop offset=".695" stop-color="#05f0fa"/><stop offset=".805" stop-color="#00fbe3"/><stop offset=".856" stop-color="#00ffb1"/><stop offset=".897" stop-color="#00ff78"/><stop offset=".925" stop-color="#00ff41"/><stop offset=".954" stop-color="#10ff20"/><stop offset="1" stop-color="#22ff0e"/></linearGradient><linearGradient id="g473"><stop offset="0" stop-color="#29acf7"/><stop offset=".086" stop-color="#2aa9f6"/><stop offset=".178" stop-color="#29aef7"/><stop offset=".264" stop-color="#29adf7"/><stop offset=".368" stop-color="#25b8fb"/><stop offset=".437" stop-color="#27b3f9"/><stop offset=".494" stop-color="#25b8fb"/><stop offset=".603" stop-color="#20c4ff"/><stop offset=".672" stop-color="#0ce8ff"/><stop offset=".776" stop-color="#00fae8"/><stop offset=".822" stop-color="#01f7f2"/><stop offset=".862" stop-color="#00fae5"/><stop offset=".891" stop-color="#00ffca"/><stop offset=".931" stop-color="#00ff78"/><stop offset=".96" stop-color="#06ff35"/><stop offset=".983" stop-color="#16ff1a"/><stop offset="1" stop-color="#1dff13"/></linearGradient></defs><rect x="750" y="943" width="348" height="9" fill="url(#g431)"/><rect x="750" y="951" width="348" height="9" fill="url(#g432)"/><rect x="750" y="959" width="348" height="9" fill="url(#g433)"/><rect x="750" y="967" width="348" height="9" fill="url(#g434)"/><rect x="750" y="975" width="348" height="9" fill="url(#g435)"/><rect x="750" y="983" width="348" height="9" fill="url(#g436)"/><rect x="750" y="991" width="348" height="9" fill="url(#g437)"/><rect x="750" y="999" width="348" height="9" fill="url(#g438)"/><rect x="750" y="1007" width="348" height="9" fill="url(#g439)"/><rect x="750" y="1015" width="348" height="9" fill="url(#g440)"/><rect x="750" y="1023" width="348" height="9" fill="url(#g441)"/><rect x="750" y="1031" width="348" height="9" fill="url(#g442)"/><rect x="750" y="1039" width="348" height="9" fill="url(#g443)"/><rect x="750" y="1047" width="348" height="9" fill="url(#g444)"/><rect x="750" y="1055" width="348" height="9" fill="url(#g445)"/><rect x="750" y="1063" width="348" height="9" fill="url(#g446)"/><rect x="750" y="1071" width="348" height="9" fill="url(#g447)"/><rect x="750" y="1079" width="348" height="9" fill="url(#g448)"/><rect x="750" y="1087" width="348" height="9" fill="url(#g449)"/><rect x="750" y="1095" width="348" height="9" fill="url(#g450)"/><rect x="750" y="1103" width="348" height="9" fill="url(#g451)"/><rect x="750" y="1111" width="348" height="9" fill="url(#g452)"/><rect x="750" y="1119" width="348" height="9" fill="url(#g453)"/><rect x="750" y="1127" width="348" height="9" fill="url(#g454)"/><rect x="750" y="1135" width="348" height="9" fill="url(#g455)"/><rect x="750" y="1143" width="348" height="9" fill="url(#g456)"/><rect x="750" y="1151" width="348" height="9" fill="url(#g457)"/><rect x="750" y="1159" width="348" height="9" fill="url(#g458)"/><rect x="750" y="1167" width="348" height="9" fill="url(#g459)"/><rect x="750" y="1175" width="348" height="9" fill="url(#g460)"/><rect x="750" y="1183" width="348" height="9" fill="url(#g461)"/><rect x="750" y="1191" width="348" height="9" fill="url(#g462)"/><rect x="750" y="1199" width="348" height="9" fill="url(#g463)"/><rect x="750" y="1207" width="348" height="9" fill="url(#g464)"/><rect x="750" y="1215" width="348" height="9" fill="url(#g465)"/><rect x="750" y="1223" width="348" height="9" fill="url(#g466)"/><rect x="750" y="1231" width="348" height="9" fill="url(#g467)"/><rect x="750" y="1239" width="348" height="9" fill="url(#g468)"/><rect x="750" y="1247" width="348" height="9" fill="url(#g469)"/><rect x="750" y="1255" width="348" height="9" fill="url(#g470)"/><rect x="750" y="1263" width="348" height="9" fill="url(#g471)"/><rect x="750" y="1271" width="348" height="9" fill="url(#g472)"/><rect x="750" y="1279" width="348" height="9" fill="url(#g473)"/></g><g fill="none" stroke="#0a5a14" stroke-width="1.8" stroke-opacity="0.9" stroke-linejoin="round"><path d="M750.0,1019.2 753.0,1019.6 754.9,1018.8 758.4,1014.8 759.0,1011.1 763.0,1010.8 768.7,1006.8 771.0,1003.9 777.8,999.8 781.0,998.4 785.0,999.1 786.5,996.8 785.4,990.8 786.0,988.9 788.0,989.3 791.0,991.5 796.3,990.8 797.2,992.8 796.4,995.8 793.0,996.1 792.2,996.8 792.1,998.8 794.0,1001.0 801.0,1003.3 805.0,1008.7 809.6,1007.8 813.0,1003.0 815.1,1001.8 816.2,998.8 814.4,995.8 813.3,990.8 809.0,989.6 803.2,989.8 800.1,986.8 799.4,984.8 801.5,978.8 800.6,974.8 801.0,973.7 807.0,972.7 810.0,973.2 811.2,973.8 814.0,977.6 820.0,979.8 822.0,979.3 823.3,977.8 823.5,976.8 821.4,973.8 820.7,969.8 816.0,964.3 812.0,966.3 809.2,965.8 812.8,955.8 809.9,952.8 810.3,951.8 813.0,950.5 816.0,951.7 817.0,951.7 817.4,950.8 815.6,945.8 813.6,942.8"/><path d="M824.7,942.8 823.1,950.8 822.0,952.2 819.0,952.8 819.1,955.8 825.4,959.8 826.1,963.8 831.0,966.4 833.0,966.7 834.1,965.8 833.3,955.8 835.4,947.8 834.6,942.8"/><path d="M859.9,966.8 868.0,966.1 868.6,964.8 865.0,961.7 860.0,959.9 858.0,959.9 856.5,960.8 856.1,965.8 857.0,967.1 859.9,966.8"/><path d="M864.3,987.8 864.8,986.8 864.0,985.7 860.9,987.8 862.0,988.6 864.3,987.8"/><path d="M857.6,1004.8 858.7,1002.8 857.3,999.8 857.3,996.8 856.0,995.2 852.0,994.6 850.0,998.8 845.8,1000.8 846.9,1002.8 850.0,1005.2 853.0,1005.6 857.6,1004.8"/><path d="M792.6,1014.8 794.1,1011.8 792.9,1008.8 791.0,1006.9 789.0,1006.7 785.3,1009.8 785.3,1011.8 789.0,1014.8 792.6,1014.8"/><path d="M858.1,1032.8 858.5,1029.8 857.0,1028.3 855.9,1029.8 858.1,1032.8"/><path d="M1015.3,1056.8 1016.0,1054.8 1015.0,1053.1 1013.0,1052.6 1011.0,1053.6 1011.0,1057.0 1013.0,1057.5 1015.3,1056.8"/><path d="M1090.0,1290.8 1091.7,1281.8 1093.4,1278.8 1092.0,1275.3 1090.2,1273.8 1089.6,1268.8 1088.0,1266.7 1084.2,1268.8 1083.9,1270.8 1084.9,1272.8 1084.2,1273.8 1080.0,1274.0 1070.0,1273.0 1060.0,1269.9 1047.0,1268.5 1038.0,1265.9 1030.3,1264.8 1023.0,1261.8 1022.0,1258.9 1020.0,1259.3 1018.3,1260.8 1016.0,1260.9 1013.8,1259.8 1012.0,1257.2 1007.0,1259.8 1002.9,1259.8 1001.2,1258.8 999.0,1255.3 992.2,1251.8 991.0,1251.6 987.0,1253.2 982.3,1248.8 976.5,1246.8 969.8,1237.8 961.7,1233.8 960.4,1227.8 959.0,1225.7 956.0,1223.1 947.0,1219.6 944.2,1216.8 938.2,1212.8 935.5,1209.8 934.8,1202.8 941.7,1198.8 943.3,1195.8 942.8,1187.8 943.9,1182.8 942.0,1177.8 944.6,1174.8 949.0,1172.6 960.8,1170.8 963.7,1166.8 968.3,1164.8 981.0,1162.1 984.4,1162.8 987.9,1166.8 987.6,1168.8 985.5,1170.8 986.0,1171.7 992.0,1171.8 995.9,1170.8 992.0,1165.8 988.1,1162.8 992.6,1160.8 998.0,1160.5 1011.9,1157.8 1018.0,1158.2 1033.0,1156.4 1036.9,1154.8 1042.4,1140.8 1042.3,1139.8 1040.0,1138.6 1033.0,1137.5 1027.0,1134.6 1019.0,1135.1 1015.0,1133.9 1011.0,1131.3 1004.0,1131.3 995.0,1127.8 993.4,1125.8 990.0,1125.8 985.7,1123.8 975.0,1117.1 971.0,1118.6 965.0,1116.0 959.0,1111.4 955.0,1111.0 952.7,1109.8 952.3,1107.8 954.4,1104.8 954.6,1102.8 949.0,1096.8 946.0,1090.8 944.0,1090.0 941.0,1091.2 940.0,1090.4 939.8,1087.8 942.4,1085.8 941.0,1081.5 939.8,1080.8 938.0,1084.1 936.0,1085.5 930.0,1086.0 926.7,1081.8 925.0,1075.8 921.6,1073.8 921.4,1071.8 923.0,1070.1 927.0,1071.4 928.4,1070.8 928.6,1061.8 928.0,1059.8 925.0,1059.5 921.0,1057.8 916.0,1059.5 913.0,1059.1 909.0,1059.9 897.0,1058.8 884.0,1061.2 877.0,1058.6 865.0,1058.9 837.0,1062.8 821.0,1062.1 812.0,1063.5 797.0,1061.7 783.0,1062.3 771.0,1059.9 762.0,1060.6 757.0,1060.0 750.0,1061.2"/><path d="M995.6,1069.8 999.1,1066.8 998.7,1063.8 997.0,1062.3 993.0,1063.3 991.2,1065.8 992.0,1068.8 995.6,1069.8"/><path d="M959.2,1082.8 958.4,1076.8 957.0,1075.5 955.0,1075.5 955.0,1078.6 959.2,1082.8"/><path d="M976.2,1082.8 978.0,1082.1 978.5,1080.8 978.0,1078.8 976.0,1077.5 974.6,1078.8 974.0,1081.8 976.2,1082.8"/><path d="M1046.3,1087.8 1046.3,1083.8 1047.7,1080.8 1047.0,1079.4 1045.0,1078.4 1038.1,1079.8 1038.0,1081.3 1039.0,1082.8 1042.0,1084.3 1046.0,1088.4 1046.3,1087.8"/><path d="M997.6,1084.8 999.1,1083.8 998.6,1081.8 994.0,1079.5 993.3,1079.8 995.0,1083.8 996.0,1084.8 997.6,1084.8"/><path d="M1045.2,1100.8 1048.0,1098.5 1052.0,1098.1 1052.6,1096.8 1052.4,1095.8 1050.0,1095.0 1046.0,1089.2 1041.0,1093.5 1032.6,1096.8 1045.2,1100.8"/><path d="M1003.0,1095.8 1003.7,1091.8 1001.0,1091.0 999.5,1092.8 999.3,1094.8 1001.0,1096.3 1003.0,1095.8"/><path d="M1003.7,1109.8 1006.0,1107.8 1005.6,1103.8 1006.4,1099.8 1005.0,1098.3 1000.2,1100.8 998.2,1106.8 1000.0,1109.4 1002.0,1110.1 1003.7,1109.8"/><path d="M980.6,1111.8 981.0,1109.7 980.0,1108.7 977.9,1108.8 977.4,1109.8 978.0,1111.8 979.0,1112.4 980.6,1111.8"/><path d="M1001.3,1123.8 1003.4,1122.8 1004.6,1116.8 1003.0,1114.5 998.7,1116.8 997.2,1120.8 998.0,1123.2 1001.3,1123.8"/><path d="M1073.7,1128.8 1076.0,1125.8 1074.0,1124.3 1072.0,1125.0 1070.2,1126.8 1071.0,1129.5 1072.0,1129.8 1073.7,1128.8"/><path d="M1071.2,1173.8 1074.0,1171.1 1081.6,1168.8 1082.2,1165.8 1083.9,1162.8 1083.0,1161.6 1079.0,1162.4 1076.7,1161.8 1073.5,1156.8 1072.2,1149.8 1067.0,1148.0 1066.2,1148.8 1066.5,1149.8 1069.0,1150.9 1069.3,1152.8 1068.0,1154.1 1065.0,1155.1 1064.0,1157.8 1064.8,1159.8 1067.0,1161.1 1068.0,1162.8 1068.0,1168.1 1066.5,1171.8 1069.0,1173.8 1071.2,1173.8"/><path d="M1062.4,1152.8 1063.4,1151.8 1063.0,1150.2 1061.0,1149.3 1059.0,1149.7 1058.4,1150.8 1059.0,1152.4 1062.4,1152.8"/><path d="M1006.4,1176.8 1007.2,1174.8 1005.0,1172.3 998.0,1170.2 996.0,1170.8 1001.0,1173.6 1004.0,1176.9 1005.0,1177.5 1006.4,1176.8"/><path d="M1027.4,1180.8 1027.3,1179.8 1025.0,1179.2 1022.9,1180.8 1025.0,1181.5 1027.4,1180.8"/><path d="M1039.9,1183.8 1040.2,1181.8 1038.6,1180.8 1036.7,1180.8 1036.1,1181.8 1037.0,1184.0 1038.0,1184.7 1039.9,1183.8"/><path d="M1083.9,1187.8 1085.4,1185.8 1085.3,1183.8 1083.0,1180.3 1081.0,1180.2 1079.2,1181.8 1078.8,1184.8 1081.0,1187.4 1083.9,1187.8"/><path d="M1009.9,1190.8 1011.9,1187.8 1011.2,1185.8 1010.0,1185.4 1008.0,1186.3 1006.0,1190.8 1008.0,1191.8 1009.9,1190.8"/><path d="M1059.8,1195.8 1061.2,1190.8 1060.0,1189.5 1055.9,1187.8 1055.0,1188.8 1055.5,1193.8 1058.0,1196.1 1059.8,1195.8"/><path d="M956.5,1210.8 958.4,1208.8 958.2,1206.8 957.2,1205.8 955.0,1204.8 950.9,1205.8 949.8,1204.8 950.8,1202.8 950.0,1201.9 947.0,1202.0 946.5,1203.8 947.9,1205.8 946.6,1207.8 947.3,1209.8 950.0,1211.2 955.0,1211.5 956.5,1210.8"/><path d="M1014.3,1255.8 1016.0,1254.2 1017.2,1250.8 1015.0,1248.8 1013.8,1244.8 1008.1,1239.8 1008.5,1235.8 1012.0,1234.7 1012.9,1232.8 1010.0,1231.2 1009.1,1231.8 1008.0,1235.2 1003.0,1234.6 997.7,1236.8 996.7,1237.8 998.7,1239.8 997.2,1242.8 998.0,1243.2 1002.0,1239.4 1004.0,1239.5 1006.4,1240.8 1008.6,1245.8 1009.3,1251.8 1014.3,1255.8"/><path d="M1064.3,1290.8 1065.0,1288.8 1068.0,1285.1 1074.3,1281.8 1072.7,1279.8 1068.0,1279.4 1064.3,1274.8 1060.0,1273.7 1055.0,1273.8 1048.0,1272.0 1041.0,1272.0 1036.0,1269.5 1025.0,1267.4 1010.0,1263.2 999.0,1263.5 989.0,1260.1 983.0,1259.0 978.0,1255.2 968.0,1251.4 963.0,1247.4 956.0,1247.0 953.0,1245.7 948.0,1242.7 941.0,1236.6 936.0,1237.1 930.8,1229.8 931.8,1221.8 925.8,1217.8 921.4,1209.8 921.4,1203.8 917.0,1198.8 918.6,1193.8 924.0,1189.5 923.9,1182.8 924.7,1179.8 928.0,1178.1 929.3,1174.8 932.7,1171.8 938.0,1169.2 939.1,1165.8 940.2,1164.8 964.0,1162.5 980.0,1159.7 1020.0,1154.8 1019.3,1152.8 1019.6,1149.8 1018.3,1145.8 1021.2,1140.8 1020.5,1139.8 1013.0,1139.0 1008.0,1135.8 996.0,1134.5 990.3,1131.8 984.0,1131.1 975.0,1126.9 970.0,1126.0 962.1,1121.8 950.0,1117.0 945.0,1116.2 939.0,1111.3 934.4,1110.8 933.3,1109.8 933.2,1106.8 931.7,1101.8 932.6,1098.8 932.3,1094.8 930.0,1093.5 921.0,1094.4 916.0,1084.6 913.0,1083.2 909.0,1084.6 907.0,1084.4 905.4,1080.8 899.1,1074.8 899.5,1071.8 910.1,1064.8 905.7,1062.8 897.0,1062.1 890.0,1063.4 885.0,1065.5 867.0,1063.1 857.4,1063.8 852.0,1065.2 847.0,1064.4 842.0,1064.9 835.0,1066.4 821.0,1064.5 808.0,1065.6 796.0,1064.4 781.0,1065.8 772.0,1063.9 750.0,1064.3"/><path d="M750.0,1170.2 760.0,1171.9 769.0,1171.7 776.0,1172.9 781.0,1171.7 786.0,1172.0 793.0,1170.6 798.0,1171.5 810.0,1170.7 817.0,1171.8 820.0,1173.1 823.3,1172.8 829.0,1174.5 832.0,1172.2 836.0,1172.7 837.4,1170.8 843.0,1168.1 853.0,1168.2 864.0,1166.1 873.0,1167.1 876.0,1163.8 877.7,1154.8 876.0,1148.8 877.4,1145.8 877.5,1141.8 874.6,1138.8 873.8,1136.8 875.0,1131.4 874.0,1130.6 871.0,1130.1 866.0,1121.6 857.0,1121.7 851.0,1120.3 839.0,1121.3 836.7,1120.8 830.0,1116.5 814.0,1117.7 808.0,1115.9 803.0,1112.4 790.0,1108.3 787.0,1106.2 782.0,1105.5 771.0,1100.3 761.5,1096.8 760.0,1094.8 768.0,1091.7 770.0,1092.6 773.0,1095.7 782.0,1093.7 799.0,1092.6 814.0,1094.5 819.0,1092.7 826.0,1091.7 830.7,1089.8 833.0,1087.6 834.0,1087.7 834.5,1088.8 834.4,1092.8 837.0,1093.9 840.8,1090.8 841.7,1082.8 843.6,1077.8 842.0,1075.0 838.0,1073.7 831.0,1073.2 828.0,1069.1 822.0,1067.4 807.0,1068.4 795.0,1067.7 779.0,1069.6 773.0,1067.6 756.0,1068.0 750.0,1067.3"/><path d="M878.0,1090.8 880.6,1088.8 881.0,1086.8 878.0,1086.6 876.0,1087.8 875.1,1089.8 875.8,1090.8 878.0,1090.8"/><path d="M866.4,1184.8 865.0,1181.4 863.0,1180.8 861.6,1181.8 861.8,1183.8 863.0,1185.1 866.0,1185.6 866.4,1184.8"/><path d="M873.6,1183.8 874.2,1181.8 873.0,1180.1 871.0,1180.0 868.8,1181.8 869.5,1183.8 871.0,1184.6 873.6,1183.8"/><path d="M780.3,1191.8 780.2,1189.8 779.2,1188.8 777.0,1187.6 775.7,1187.8 775.6,1188.8 778.0,1192.4 779.0,1192.7 780.3,1191.8"/><path d="M767.2,1225.8 770.7,1221.8 770.4,1217.8 771.0,1215.8 769.7,1212.8 770.6,1207.8 767.2,1206.8 768.6,1202.8 768.0,1201.6 767.0,1201.6 762.8,1205.8 761.9,1216.8 759.9,1218.8 758.3,1222.8 760.0,1223.8 763.0,1223.7 766.0,1226.2 767.2,1225.8"/><path d="M835.5,1210.8 836.3,1208.8 835.0,1207.6 833.4,1209.8 834.0,1211.3 835.5,1210.8"/><path d="M827.5,1228.8 833.0,1228.1 834.0,1227.0 835.1,1222.8 833.0,1219.6 830.0,1219.9 825.6,1223.8 824.1,1228.8 825.0,1229.6 827.5,1228.8"/><path d="M865.7,1224.8 866.6,1223.8 866.0,1222.1 864.2,1222.8 863.8,1223.8 864.0,1224.8 865.7,1224.8"/><path d="M962.9,1290.8 964.0,1288.2 966.0,1286.3 970.0,1287.0 980.6,1282.8 982.0,1281.5 983.0,1278.6 979.0,1276.2 973.0,1276.6 971.9,1275.8 971.9,1273.8 973.8,1269.8 971.0,1261.5 969.0,1261.1 965.0,1263.2 957.0,1263.9 956.0,1263.2 954.1,1258.8 948.0,1255.5 945.0,1256.3 942.0,1260.0 936.0,1262.4 928.0,1260.2 923.0,1260.6 917.0,1262.6 906.0,1258.4 891.0,1261.5 881.0,1259.7 872.0,1260.4 867.0,1259.9 865.5,1258.8 865.4,1249.8 864.0,1248.2 862.0,1247.8 860.0,1248.6 858.3,1250.8 860.7,1254.8 859.8,1257.8 848.0,1262.2 845.0,1262.2 840.0,1260.0 833.0,1259.3 829.0,1260.1 824.0,1256.3 821.0,1255.3 817.0,1257.6 814.0,1260.8 813.0,1260.8 810.0,1259.1 808.7,1256.8 805.1,1253.8 805.3,1246.8 809.7,1241.8 809.9,1239.8 809.0,1237.9 804.0,1235.8 800.0,1238.0 798.4,1241.8 800.1,1246.8 800.3,1249.8 802.4,1252.8 802.1,1253.8 795.0,1259.4 792.0,1259.4 789.0,1260.8 785.0,1260.2 777.0,1262.5 772.0,1262.7 769.0,1261.6 768.1,1258.8 767.0,1257.8 764.0,1257.7 759.0,1259.6 753.0,1257.4 750.0,1257.3"/><path d="M761.4,1245.8 763.1,1242.8 761.6,1240.8 760.0,1240.6 758.6,1241.8 758.5,1243.8 760.0,1246.2 761.4,1245.8"/><path d="M779.2,1248.8 781.0,1246.4 784.0,1247.1 785.0,1246.6 783.1,1241.8 781.0,1240.1 779.4,1240.8 780.0,1246.2 777.0,1246.1 775.1,1247.8 775.5,1248.8 777.0,1249.5 779.2,1248.8"/><path d="M792.7,1248.8 791.0,1246.8 788.7,1246.8 788.6,1247.8 790.0,1248.9 792.0,1249.6 792.7,1248.8"/><path d="M750.0,1087.6 764.0,1086.6 771.0,1087.4 776.0,1089.0 780.0,1088.9 787.0,1086.7 798.0,1086.5 813.0,1083.7 821.0,1083.1 823.0,1081.6 824.9,1077.8 824.0,1075.7 821.0,1073.3 819.0,1072.7 799.0,1074.4 785.0,1073.5 776.0,1074.1 769.0,1072.4 760.0,1074.3 750.0,1073.9"/><path d="M750.0,1165.0 761.0,1168.0 776.0,1168.2 781.0,1167.4 786.0,1168.0 795.0,1166.8 802.0,1167.4 808.0,1166.4 821.0,1166.9 834.0,1164.1 835.9,1162.8 838.0,1158.4 841.0,1160.2 842.6,1159.8 842.8,1158.8 839.7,1155.8 839.7,1152.8 842.1,1148.8 842.7,1144.8 845.7,1137.8 842.0,1137.5 841.0,1135.8 847.0,1132.6 847.8,1130.8 847.0,1129.7 845.0,1129.9 826.0,1121.7 813.0,1121.3 792.0,1112.8 782.0,1110.1 760.0,1100.4 750.0,1099.6"/><path d="M849.1,1161.8 849.3,1159.8 848.0,1159.2 847.0,1159.8 847.0,1161.8 849.1,1161.8"/></g></g><g fill="none" stroke="#000" stroke-width="3.1">
  <rect x="55.8" y="592.9" width="324.3" height="324.6"/>
  <rect x="408.2" y="592.9" width="324.3" height="324.6"/>
  <rect x="761.4" y="592.9" width="324.3" height="324.6"/>
  <rect x="55.8" y="954.8" width="324.3" height="324.6"/>
  <rect x="408.4" y="954.8" width="324.3" height="324.6"/>
  <rect x="762" y="954.8" width="324.3" height="324.6"/>
</g><g class="s" font-weight="bold" fill="#000"><text x="69" y="641" font-size="46" textLength="54" lengthAdjust="spacingAndGlyphs">XY</text><text x="239.5" y="725" font-size="30" textLength="35" lengthAdjust="spacingAndGlyphs">66</text><text x="329" y="724" font-size="30" textLength="35" lengthAdjust="spacingAndGlyphs">68</text><text x="124" y="879" font-size="30" textLength="35" lengthAdjust="spacingAndGlyphs">65</text><text x="425" y="640" font-size="46" textLength="52.5" lengthAdjust="spacingAndGlyphs">XZ</text><text x="528.5" y="678" font-size="30" textLength="35" lengthAdjust="spacingAndGlyphs">64</text><text x="540.5" y="755.4" font-size="30" textLength="35" lengthAdjust="spacingAndGlyphs">66</text><text x="566" y="861" font-size="30" textLength="35" lengthAdjust="spacingAndGlyphs">68</text><text x="776" y="640" font-size="46" textLength="50.5" lengthAdjust="spacingAndGlyphs">YZ</text><text x="775" y="715" font-size="30" textLength="34" lengthAdjust="spacingAndGlyphs">72</text><text x="790" y="794" font-size="30" textLength="33" lengthAdjust="spacingAndGlyphs">71</text><text x="915" y="874" font-size="30" textLength="35" lengthAdjust="spacingAndGlyphs">66</text><text x="70.5" y="1001.3" font-size="46" textLength="53.5" lengthAdjust="spacingAndGlyphs">XY</text><text x="68" y="1224" font-size="30" textLength="29" lengthAdjust="spacingAndGlyphs">-1</text><text x="182" y="1166" font-size="30" textLength="29" lengthAdjust="spacingAndGlyphs">-2</text><text x="251.5" y="1115" font-size="30" textLength="28" lengthAdjust="spacingAndGlyphs">-3</text><text x="332.5" y="1035.7" font-size="30" textLength="28" lengthAdjust="spacingAndGlyphs">-4</text><text x="426.5" y="1001.3" font-size="46" textLength="52.5" lengthAdjust="spacingAndGlyphs">XZ</text><text x="454.5" y="1063.8" font-size="30" textLength="28" lengthAdjust="spacingAndGlyphs">-3</text><text x="530" y="1157.4" font-size="30" textLength="28" lengthAdjust="spacingAndGlyphs">-2</text><text x="647.5" y="1254" font-size="30" textLength="26" lengthAdjust="spacingAndGlyphs">-1</text><text x="778" y="1002" font-size="46" textLength="51" lengthAdjust="spacingAndGlyphs">YZ</text><text x="916.5" y="1004" font-size="30" textLength="16.5" lengthAdjust="spacingAndGlyphs">0</text><text x="1037.5" y="1107" font-size="30" textLength="17" lengthAdjust="spacingAndGlyphs">0</text><text x="772.5" y="1145" font-size="30" textLength="27" lengthAdjust="spacingAndGlyphs">-6</text><text x="925" y="1209.8" font-size="30" textLength="26" lengthAdjust="spacingAndGlyphs">-2</text><text x="809" y="1226" font-size="30" textLength="27" lengthAdjust="spacingAndGlyphs">-4</text><text x="1033.5" y="1249.8" font-size="30" textLength="17" lengthAdjust="spacingAndGlyphs">0</text></g><rect x="1133.4" y="621.20" width="26.3" height="26.28" fill="#ff0000"/><rect x="1133.4" y="647.18" width="26.3" height="26.28" fill="#ff4000"/><rect x="1133.4" y="673.16" width="26.3" height="26.28" fill="#ff8c00"/><rect x="1133.4" y="699.15" width="26.3" height="26.28" fill="#ffe600"/><rect x="1133.4" y="725.13" width="26.3" height="26.28" fill="#66f500"/><rect x="1133.4" y="751.11" width="26.3" height="26.28" fill="#00e832"/><rect x="1133.4" y="777.09" width="26.3" height="26.28" fill="#00ffb0"/><rect x="1133.4" y="803.07" width="26.3" height="26.28" fill="#00d8ff"/><rect x="1133.4" y="829.05" width="26.3" height="26.28" fill="#1e90ff"/><rect x="1133.4" y="855.04" width="26.3" height="26.28" fill="#1e4bff"/><rect x="1133.4" y="881.02" width="26.3" height="26.28" fill="#0000ff"/><rect x="1133.4" y="982.20" width="26.3" height="26.35" fill="#ff0000"/><rect x="1133.4" y="1008.25" width="26.3" height="26.35" fill="#ff4000"/><rect x="1133.4" y="1034.31" width="26.3" height="26.35" fill="#ff8c00"/><rect x="1133.4" y="1060.36" width="26.3" height="26.35" fill="#ffe600"/><rect x="1133.4" y="1086.42" width="26.3" height="26.35" fill="#66f500"/><rect x="1133.4" y="1112.47" width="26.3" height="26.35" fill="#00e832"/><rect x="1133.4" y="1138.53" width="26.3" height="26.35" fill="#00ffb0"/><rect x="1133.4" y="1164.58" width="26.3" height="26.35" fill="#00d8ff"/><rect x="1133.4" y="1190.64" width="26.3" height="26.35" fill="#1e90ff"/><rect x="1133.4" y="1216.69" width="26.3" height="26.35" fill="#1e4bff"/><rect x="1133.4" y="1242.75" width="26.3" height="26.35" fill="#0000ff"/><g class="r" font-size="26" fill="#111"><text x="1171.5" y="643.7">80</text><text x="1171.5" y="669.7">77</text><text x="1171.5" y="695.7">74</text><text x="1171.5" y="721.6">71</text><text x="1171.5" y="747.6">68</text><text x="1171.5" y="773.6">65</text><text x="1171.5" y="799.6">62</text><text x="1171.5" y="825.6">59</text><text x="1171.5" y="851.5">56</text><text x="1171.5" y="877.5">53</text><text x="1171.5" y="903.5">50</text><text x="1171.5" y="1004.7">10</text><text x="1171.5" y="1030.8">8</text><text x="1171.5" y="1056.8">6</text><text x="1171.5" y="1082.9">4</text><text x="1171.5" y="1108.9">2</text><text x="1171.5" y="1135.0">0</text><text x="1171.5" y="1161.1">-2</text><text x="1171.5" y="1187.1">-4</text><text x="1171.5" y="1213.2">-6</text><text x="1171.5" y="1239.2">-8</text><text x="1171.5" y="1265.3">-10</text><text x="1116.5" y="607" font-size="27" textLength="76" lengthAdjust="spacingAndGlyphs">μA cm</text><text x="1193.5" y="597" font-size="17">-2</text><text x="1116.5" y="968" font-size="27" textLength="76" lengthAdjust="spacingAndGlyphs">μA cm</text><text x="1193.5" y="958" font-size="17">-2</text></g><g class="s" font-size="40" fill="#000"><text transform="translate(35,852) rotate(-90)">X vibration</text><text transform="translate(35,1210) rotate(-90)">Z vibration</text></g></svg>
</body></html>
